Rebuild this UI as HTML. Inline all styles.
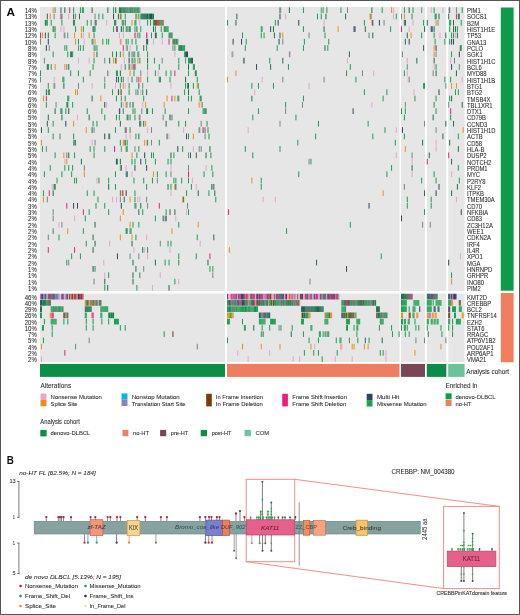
<!DOCTYPE html>
<html><head><meta charset="utf-8"><style>
html,body{margin:0;padding:0;background:#fff;width:520px;height:615px;overflow:hidden;}
svg{display:block;font-family:"Liberation Sans",sans-serif;}
</style></head><body>
<svg width="520" height="615" viewBox="0 0 520 615" font-family="Liberation Sans, sans-serif">
<rect x="0" y="0" width="520" height="615" fill="#ffffff"/>
<defs><filter id="bl" x="0" y="0" width="1" height="1"><feGaussianBlur stdDeviation="0.35"/></filter></defs><g filter="url(#bl)">
<rect x="40" y="7" width="185" height="284" fill="#e6e6e6"/>
<rect x="40" y="293.5" width="185" height="68.75" fill="#e6e6e6"/>
<rect x="227" y="7" width="172.5" height="284" fill="#e6e6e6"/>
<rect x="227" y="293.5" width="172.5" height="68.75" fill="#e6e6e6"/>
<rect x="401" y="7" width="24" height="284" fill="#e6e6e6"/>
<rect x="401" y="293.5" width="24" height="68.75" fill="#e6e6e6"/>
<rect x="426.8" y="7" width="19.5" height="284" fill="#e6e6e6"/>
<rect x="426.8" y="293.5" width="19.5" height="68.75" fill="#e6e6e6"/>
<rect x="448.2" y="7" width="16.4" height="284" fill="#e6e6e6"/>
<rect x="448.2" y="293.5" width="16.4" height="68.75" fill="#e6e6e6"/>
<rect x="118.87" y="7.3" width="1.02" height="5.71" fill="#1d7048"/>
<rect x="119.84" y="7.3" width="1.02" height="5.71" fill="#1d7048"/>
<rect x="120.82" y="7.3" width="1.02" height="5.71" fill="#1d7048"/>
<rect x="121.79" y="7.3" width="1.02" height="5.71" fill="#6f8a86"/>
<rect x="122.76" y="7.3" width="1.02" height="5.71" fill="#1d7048"/>
<rect x="123.74" y="7.3" width="1.02" height="5.71" fill="#1aa04f"/>
<rect x="124.71" y="7.3" width="1.02" height="5.71" fill="#1d7048"/>
<rect x="125.68" y="7.3" width="1.02" height="5.71" fill="#6f8a86"/>
<rect x="126.66" y="7.3" width="1.02" height="5.71" fill="#1d7048"/>
<rect x="127.63" y="7.3" width="1.02" height="5.71" fill="#6f8a86"/>
<rect x="128.61" y="7.3" width="1.02" height="5.71" fill="#1aa04f"/>
<rect x="129.58" y="7.3" width="1.02" height="5.71" fill="#1d7048"/>
<rect x="130.55" y="7.3" width="1.02" height="5.71" fill="#1d7048"/>
<rect x="131.53" y="7.3" width="1.02" height="5.71" fill="#1aa04f"/>
<rect x="132.5" y="7.3" width="1.02" height="5.71" fill="#1d7048"/>
<rect x="133.47" y="7.3" width="1.02" height="5.71" fill="#6f8a86"/>
<rect x="134.45" y="7.3" width="1.02" height="5.71" fill="#1d7048"/>
<rect x="135.42" y="7.3" width="1.02" height="5.71" fill="#1aa04f"/>
<rect x="136.39" y="7.3" width="1.02" height="5.71" fill="#1aa04f"/>
<rect x="137.37" y="7.3" width="1.02" height="5.71" fill="#1d7048"/>
<rect x="138.34" y="7.3" width="1.02" height="5.71" fill="#1aa04f"/>
<rect x="139.32" y="7.3" width="1.02" height="5.71" fill="#6f8a86"/>
<rect x="140.29" y="13.61" width="1.02" height="5.71" fill="#1aa04f"/>
<rect x="141.26" y="13.61" width="1.02" height="5.71" fill="#1d7048"/>
<rect x="142.24" y="13.61" width="1.02" height="5.71" fill="#1d7048"/>
<rect x="143.21" y="13.61" width="1.02" height="5.71" fill="#1d7048"/>
<rect x="144.18" y="13.61" width="1.02" height="5.71" fill="#1d7048"/>
<rect x="145.16" y="13.61" width="1.02" height="5.71" fill="#1d7048"/>
<rect x="146.13" y="13.61" width="1.02" height="5.71" fill="#1d7048"/>
<rect x="147.11" y="13.61" width="1.02" height="5.71" fill="#2e4562"/>
<rect x="148.08" y="13.61" width="1.02" height="5.71" fill="#1aa04f"/>
<rect x="149.05" y="13.61" width="1.02" height="5.71" fill="#1d7048"/>
<rect x="150.03" y="13.61" width="1.02" height="5.71" fill="#2e4562"/>
<rect x="151" y="13.61" width="1.02" height="5.71" fill="#2e4562"/>
<rect x="151.97" y="13.61" width="1.02" height="5.71" fill="#1aa04f"/>
<rect x="152.95" y="13.61" width="1.02" height="5.71" fill="#1d7048"/>
<rect x="153.92" y="19.92" width="1.02" height="5.71" fill="#d8342e"/>
<rect x="154.89" y="19.92" width="1.02" height="5.71" fill="#1d7048"/>
<rect x="155.87" y="19.92" width="1.02" height="5.71" fill="#1d7048"/>
<rect x="156.84" y="19.92" width="1.02" height="5.71" fill="#d8342e"/>
<rect x="157.82" y="19.92" width="1.02" height="5.71" fill="#d8342e"/>
<rect x="158.79" y="19.92" width="1.02" height="5.71" fill="#d8342e"/>
<rect x="159.76" y="19.92" width="1.02" height="5.71" fill="#1aa04f"/>
<rect x="160.74" y="19.92" width="1.02" height="5.71" fill="#1aa04f"/>
<rect x="161.71" y="19.92" width="1.02" height="5.71" fill="#1aa04f"/>
<rect x="162.68" y="19.92" width="1.02" height="5.71" fill="#d8342e"/>
<rect x="163.66" y="26.23" width="1.02" height="5.71" fill="#1aa04f"/>
<rect x="164.63" y="26.23" width="1.02" height="5.71" fill="#1d7048"/>
<rect x="165.61" y="26.23" width="1.02" height="5.71" fill="#1aa04f"/>
<rect x="166.58" y="26.23" width="1.02" height="5.71" fill="#1aa04f"/>
<rect x="167.55" y="26.23" width="1.02" height="5.71" fill="#1aa04f"/>
<rect x="168.53" y="32.54" width="1.02" height="5.71" fill="#1aa04f"/>
<rect x="169.5" y="32.54" width="1.02" height="5.71" fill="#1d7048"/>
<rect x="170.47" y="32.54" width="1.02" height="5.71" fill="#1aa04f"/>
<rect x="171.45" y="32.54" width="1.02" height="5.71" fill="#1d7048"/>
<rect x="172.42" y="38.85" width="1.02" height="5.71" fill="#1aa04f"/>
<rect x="173.39" y="38.85" width="1.02" height="5.71" fill="#1d7048"/>
<rect x="174.37" y="38.85" width="1.02" height="5.71" fill="#1d7048"/>
<rect x="175.34" y="38.85" width="1.02" height="5.71" fill="#1aa04f"/>
<rect x="176.32" y="38.85" width="1.02" height="5.71" fill="#1d7048"/>
<rect x="177.29" y="38.85" width="1.02" height="5.71" fill="#1aa04f"/>
<rect x="178.26" y="45.17" width="1.02" height="5.71" fill="#1aa04f"/>
<rect x="179.24" y="45.17" width="1.02" height="5.71" fill="#1d7048"/>
<rect x="180.21" y="45.17" width="1.02" height="5.71" fill="#1d7048"/>
<rect x="181.18" y="45.17" width="1.02" height="5.71" fill="#1d7048"/>
<rect x="182.16" y="45.17" width="1.02" height="5.71" fill="#1aa04f"/>
<rect x="183.13" y="45.17" width="1.02" height="5.71" fill="#1aa04f"/>
<rect x="184.11" y="45.17" width="1.02" height="5.71" fill="#1aa04f"/>
<rect x="185.08" y="51.48" width="1.02" height="5.71" fill="#1d7048"/>
<rect x="186.05" y="51.48" width="1.02" height="5.71" fill="#2e4562"/>
<rect x="187.03" y="51.48" width="1.02" height="5.71" fill="#2e4562"/>
<rect x="188" y="57.79" width="1.02" height="5.71" fill="#1aa04f"/>
<rect x="188.97" y="57.79" width="1.02" height="5.71" fill="#1aa04f"/>
<rect x="189.95" y="57.79" width="1.02" height="5.71" fill="#1aa04f"/>
<rect x="190.92" y="57.79" width="1.02" height="5.71" fill="#1d7048"/>
<rect x="191.89" y="57.79" width="1.02" height="5.71" fill="#2e4562"/>
<rect x="192.87" y="64.1" width="1.02" height="5.71" fill="#1aa04f"/>
<rect x="193.84" y="64.1" width="1.02" height="5.71" fill="#1aa04f"/>
<rect x="194.82" y="70.41" width="1.02" height="5.71" fill="#1d7048"/>
<rect x="195.79" y="70.41" width="1.02" height="5.71" fill="#1aa04f"/>
<rect x="196.76" y="76.72" width="1.02" height="5.71" fill="#1aa04f"/>
<rect x="197.74" y="83.03" width="1.02" height="5.71" fill="#1aa04f"/>
<rect x="198.71" y="89.34" width="1.02" height="5.71" fill="#1aa04f"/>
<rect x="199.68" y="95.65" width="1.02" height="5.71" fill="#1d7048"/>
<rect x="200.66" y="95.65" width="1.02" height="5.71" fill="#1aa04f"/>
<rect x="201.63" y="101.96" width="1.02" height="5.71" fill="#1aa04f"/>
<rect x="202.61" y="108.28" width="1.02" height="5.71" fill="#1aa04f"/>
<rect x="203.58" y="108.28" width="1.02" height="5.71" fill="#1aa04f"/>
<rect x="204.55" y="108.28" width="1.02" height="5.71" fill="#1aa04f"/>
<rect x="205.53" y="108.28" width="1.02" height="5.71" fill="#1d7048"/>
<rect x="206.5" y="120.9" width="1.02" height="5.71" fill="#1aa04f"/>
<rect x="207.47" y="127.21" width="1.02" height="5.71" fill="#1aa04f"/>
<rect x="208.45" y="133.52" width="1.02" height="5.71" fill="#1aa04f"/>
<rect x="209.42" y="146.14" width="1.02" height="5.71" fill="#1d7048"/>
<rect x="210.39" y="152.45" width="1.02" height="5.71" fill="#1aa04f"/>
<rect x="211.37" y="165.08" width="1.02" height="5.71" fill="#1aa04f"/>
<rect x="212.34" y="171.39" width="1.02" height="5.71" fill="#1aa04f"/>
<rect x="213.32" y="184.01" width="1.02" height="5.71" fill="#1d7048"/>
<rect x="214.29" y="190.32" width="1.02" height="5.71" fill="#1d7048"/>
<rect x="215.26" y="196.63" width="1.02" height="5.71" fill="#1aa04f"/>
<rect x="91.61" y="7.3" width="1" height="5.71" fill="#1d7048"/>
<rect x="54.61" y="7.3" width="1" height="5.71" fill="#6f8a86"/>
<rect x="64.34" y="7.3" width="1" height="5.71" fill="#1d7048"/>
<rect x="81.87" y="7.3" width="1" height="5.71" fill="#1aa04f"/>
<rect x="108.16" y="7.3" width="1" height="5.71" fill="#e6a3d3"/>
<rect x="79.92" y="7.3" width="1" height="5.71" fill="#1aa04f"/>
<rect x="60.45" y="7.3" width="1" height="5.71" fill="#1d7048"/>
<rect x="82.84" y="7.3" width="1" height="5.71" fill="#1aa04f"/>
<rect x="113.03" y="7.3" width="1" height="5.71" fill="#1aa04f"/>
<rect x="115.95" y="7.3" width="1" height="5.71" fill="#e6a3d3"/>
<rect x="114.97" y="7.3" width="1" height="5.71" fill="#1aa04f"/>
<rect x="107.18" y="7.3" width="1" height="5.71" fill="#1aa04f"/>
<rect x="52.66" y="7.3" width="1" height="5.71" fill="#f28c18"/>
<rect x="73.11" y="7.3" width="1" height="5.71" fill="#1aa04f"/>
<rect x="69.21" y="7.3" width="1" height="5.71" fill="#ee1f7d"/>
<rect x="61.42" y="13.61" width="1" height="5.71" fill="#1aa04f"/>
<rect x="49.74" y="13.61" width="1" height="5.71" fill="#f28c18"/>
<rect x="78.95" y="13.61" width="1" height="5.71" fill="#1d7048"/>
<rect x="102.32" y="13.61" width="1" height="5.71" fill="#1aa04f"/>
<rect x="46.82" y="13.61" width="1" height="5.71" fill="#1d7048"/>
<rect x="113.03" y="13.61" width="1" height="5.71" fill="#2e4562"/>
<rect x="53.63" y="13.61" width="1" height="5.71" fill="#6f8a86"/>
<rect x="94.53" y="13.61" width="1" height="5.71" fill="#6f8a86"/>
<rect x="60.45" y="13.61" width="1" height="5.71" fill="#ee1f7d"/>
<rect x="98.42" y="13.61" width="1" height="5.71" fill="#1aa04f"/>
<rect x="117.89" y="13.61" width="1" height="5.71" fill="#1d7048"/>
<rect x="73.11" y="13.61" width="1" height="5.71" fill="#1d7048"/>
<rect x="75.05" y="13.61" width="1" height="5.71" fill="#6f8a86"/>
<rect x="68.24" y="13.61" width="1" height="5.71" fill="#e6a3d3"/>
<rect x="138.34" y="13.61" width="1" height="5.71" fill="#1aa04f"/>
<rect x="119.84" y="13.61" width="1" height="5.71" fill="#1aa04f"/>
<rect x="136.39" y="13.61" width="1" height="5.71" fill="#f28c18"/>
<rect x="124.71" y="13.61" width="1" height="5.71" fill="#1aa04f"/>
<rect x="135.42" y="13.61" width="1" height="5.71" fill="#1aa04f"/>
<rect x="120.82" y="13.61" width="1" height="5.71" fill="#f28c18"/>
<rect x="74.08" y="19.92" width="1" height="5.71" fill="#1aa04f"/>
<rect x="114.97" y="19.92" width="1" height="5.71" fill="#1aa04f"/>
<rect x="106.21" y="19.92" width="1" height="5.71" fill="#e6a3d3"/>
<rect x="61.42" y="19.92" width="1" height="5.71" fill="#1aa04f"/>
<rect x="50.71" y="19.92" width="1" height="5.71" fill="#1aa04f"/>
<rect x="114" y="19.92" width="1" height="5.71" fill="#1aa04f"/>
<rect x="86.74" y="19.92" width="1" height="5.71" fill="#1aa04f"/>
<rect x="94.53" y="19.92" width="1" height="5.71" fill="#6f8a86"/>
<rect x="46.82" y="19.92" width="1" height="5.71" fill="#1aa04f"/>
<rect x="44.87" y="19.92" width="1" height="5.71" fill="#1d7048"/>
<rect x="95.5" y="19.92" width="1" height="5.71" fill="#2e4562"/>
<rect x="73.11" y="19.92" width="1" height="5.71" fill="#1d7048"/>
<rect x="45.84" y="19.92" width="1" height="5.71" fill="#1aa04f"/>
<rect x="115.95" y="19.92" width="1" height="5.71" fill="#e6a3d3"/>
<rect x="90.63" y="19.92" width="1" height="5.71" fill="#1aa04f"/>
<rect x="139.32" y="19.92" width="1" height="5.71" fill="#e6a3d3"/>
<rect x="150.03" y="19.92" width="1" height="5.71" fill="#1aa04f"/>
<rect x="152.95" y="19.92" width="1" height="5.71" fill="#1aa04f"/>
<rect x="124.71" y="19.92" width="1" height="5.71" fill="#1d7048"/>
<rect x="122.76" y="19.92" width="1" height="5.71" fill="#1aa04f"/>
<rect x="147.11" y="19.92" width="1" height="5.71" fill="#1aa04f"/>
<rect x="135.42" y="19.92" width="1" height="5.71" fill="#1aa04f"/>
<rect x="134.45" y="19.92" width="1" height="5.71" fill="#1aa04f"/>
<rect x="121.79" y="19.92" width="1" height="5.71" fill="#1aa04f"/>
<rect x="131.53" y="19.92" width="1" height="5.71" fill="#f28c18"/>
<rect x="116.92" y="26.23" width="1" height="5.71" fill="#ee1f7d"/>
<rect x="80.89" y="26.23" width="1" height="5.71" fill="#f28c18"/>
<rect x="60.45" y="26.23" width="1" height="5.71" fill="#e6a3d3"/>
<rect x="75.05" y="26.23" width="1" height="5.71" fill="#1aa04f"/>
<rect x="93.55" y="26.23" width="1" height="5.71" fill="#1d7048"/>
<rect x="92.58" y="26.23" width="1" height="5.71" fill="#1d7048"/>
<rect x="94.53" y="26.23" width="1" height="5.71" fill="#1aa04f"/>
<rect x="82.84" y="26.23" width="1" height="5.71" fill="#1aa04f"/>
<rect x="113.03" y="26.23" width="1" height="5.71" fill="#1aa04f"/>
<rect x="115.95" y="26.23" width="1" height="5.71" fill="#1aa04f"/>
<rect x="63.37" y="26.23" width="1" height="5.71" fill="#e6a3d3"/>
<rect x="53.63" y="26.23" width="1" height="5.71" fill="#f28c18"/>
<rect x="54.61" y="26.23" width="1" height="5.71" fill="#1aa04f"/>
<rect x="52.66" y="26.23" width="1" height="5.71" fill="#1d7048"/>
<rect x="120.82" y="26.23" width="1" height="5.71" fill="#2e4562"/>
<rect x="152.95" y="26.23" width="1" height="5.71" fill="#1d7048"/>
<rect x="154.89" y="26.23" width="1" height="5.71" fill="#1aa04f"/>
<rect x="140.29" y="26.23" width="1" height="5.71" fill="#1aa04f"/>
<rect x="126.66" y="26.23" width="1" height="5.71" fill="#1aa04f"/>
<rect x="125.68" y="26.23" width="1" height="5.71" fill="#1aa04f"/>
<rect x="129.58" y="26.23" width="1" height="5.71" fill="#1d7048"/>
<rect x="134.45" y="26.23" width="1" height="5.71" fill="#1aa04f"/>
<rect x="122.76" y="26.23" width="1" height="5.71" fill="#1aa04f"/>
<rect x="136.39" y="26.23" width="1" height="5.71" fill="#1d7048"/>
<rect x="128.61" y="26.23" width="1" height="5.71" fill="#1d7048"/>
<rect x="160.74" y="26.23" width="1" height="5.71" fill="#1aa04f"/>
<rect x="80.89" y="32.54" width="1" height="5.71" fill="#f28c18"/>
<rect x="54.61" y="32.54" width="1" height="5.71" fill="#1aa04f"/>
<rect x="82.84" y="32.54" width="1" height="5.71" fill="#e6a3d3"/>
<rect x="40" y="32.54" width="1" height="5.71" fill="#ee1f7d"/>
<rect x="63.37" y="32.54" width="1" height="5.71" fill="#e6a3d3"/>
<rect x="47.79" y="32.54" width="1" height="5.71" fill="#1d7048"/>
<rect x="74.08" y="32.54" width="1" height="5.71" fill="#f28c18"/>
<rect x="44.87" y="32.54" width="1" height="5.71" fill="#1d7048"/>
<rect x="41.95" y="32.54" width="1" height="5.71" fill="#f28c18"/>
<rect x="67.26" y="32.54" width="1" height="5.71" fill="#6f8a86"/>
<rect x="64.34" y="32.54" width="1" height="5.71" fill="#1aa04f"/>
<rect x="93.55" y="32.54" width="1" height="5.71" fill="#1aa04f"/>
<rect x="88.68" y="32.54" width="1" height="5.71" fill="#f28c18"/>
<rect x="122.76" y="32.54" width="1" height="5.71" fill="#e6a3d3"/>
<rect x="154.89" y="32.54" width="1" height="5.71" fill="#2e4562"/>
<rect x="146.13" y="32.54" width="1" height="5.71" fill="#ee1f7d"/>
<rect x="135.42" y="32.54" width="1" height="5.71" fill="#e6a3d3"/>
<rect x="134.45" y="32.54" width="1" height="5.71" fill="#ee1f7d"/>
<rect x="147.11" y="32.54" width="1" height="5.71" fill="#e6a3d3"/>
<rect x="137.37" y="32.54" width="1" height="5.71" fill="#1aa04f"/>
<rect x="161.71" y="32.54" width="1" height="5.71" fill="#1aa04f"/>
<rect x="151" y="32.54" width="1" height="5.71" fill="#1aa04f"/>
<rect x="139.32" y="32.54" width="1" height="5.71" fill="#1aa04f"/>
<rect x="155.87" y="32.54" width="1" height="5.71" fill="#1aa04f"/>
<rect x="118.87" y="32.54" width="1" height="5.71" fill="#e6a3d3"/>
<rect x="47.79" y="38.85" width="1" height="5.71" fill="#2e4562"/>
<rect x="108.16" y="38.85" width="1" height="5.71" fill="#1aa04f"/>
<rect x="83.82" y="38.85" width="1" height="5.71" fill="#e6a3d3"/>
<rect x="92.58" y="38.85" width="1" height="5.71" fill="#6f8a86"/>
<rect x="91.61" y="38.85" width="1" height="5.71" fill="#1aa04f"/>
<rect x="94.53" y="38.85" width="1" height="5.71" fill="#f28c18"/>
<rect x="75.05" y="38.85" width="1" height="5.71" fill="#f28c18"/>
<rect x="40" y="38.85" width="1" height="5.71" fill="#6f8a86"/>
<rect x="106.21" y="38.85" width="1" height="5.71" fill="#1aa04f"/>
<rect x="102.32" y="38.85" width="1" height="5.71" fill="#1aa04f"/>
<rect x="77.97" y="38.85" width="1" height="5.71" fill="#1aa04f"/>
<rect x="152.95" y="38.85" width="1" height="5.71" fill="#e6a3d3"/>
<rect x="125.68" y="38.85" width="1" height="5.71" fill="#1aa04f"/>
<rect x="146.13" y="38.85" width="1" height="5.71" fill="#1d7048"/>
<rect x="135.42" y="38.85" width="1" height="5.71" fill="#1aa04f"/>
<rect x="161.71" y="38.85" width="1" height="5.71" fill="#e6a3d3"/>
<rect x="119.84" y="38.85" width="1" height="5.71" fill="#f28c18"/>
<rect x="168.53" y="38.85" width="1" height="5.71" fill="#ee1f7d"/>
<rect x="131.53" y="38.85" width="1" height="5.71" fill="#1aa04f"/>
<rect x="120.82" y="38.85" width="1" height="5.71" fill="#e6a3d3"/>
<rect x="147.11" y="38.85" width="1" height="5.71" fill="#2e4562"/>
<rect x="127.63" y="38.85" width="1" height="5.71" fill="#1aa04f"/>
<rect x="45.84" y="45.17" width="1" height="5.71" fill="#2e4562"/>
<rect x="64.34" y="45.17" width="1" height="5.71" fill="#1aa04f"/>
<rect x="94.53" y="45.17" width="1" height="5.71" fill="#1aa04f"/>
<rect x="96.47" y="45.17" width="1" height="5.71" fill="#1aa04f"/>
<rect x="93.55" y="45.17" width="1" height="5.71" fill="#6f8a86"/>
<rect x="66.29" y="45.17" width="1" height="5.71" fill="#1aa04f"/>
<rect x="82.84" y="45.17" width="1" height="5.71" fill="#1aa04f"/>
<rect x="77.97" y="45.17" width="1" height="5.71" fill="#6f8a86"/>
<rect x="79.92" y="45.17" width="1" height="5.71" fill="#1aa04f"/>
<rect x="48.76" y="45.17" width="1" height="5.71" fill="#6f8a86"/>
<rect x="136.39" y="45.17" width="1" height="5.71" fill="#1aa04f"/>
<rect x="129.58" y="45.17" width="1" height="5.71" fill="#e6a3d3"/>
<rect x="125.68" y="45.17" width="1" height="5.71" fill="#e6a3d3"/>
<rect x="172.42" y="45.17" width="1" height="5.71" fill="#6f8a86"/>
<rect x="126.66" y="45.17" width="1" height="5.71" fill="#1aa04f"/>
<rect x="146.13" y="45.17" width="1" height="5.71" fill="#1aa04f"/>
<rect x="122.76" y="45.17" width="1" height="5.71" fill="#ee1f7d"/>
<rect x="143.21" y="45.17" width="1" height="5.71" fill="#1d7048"/>
<rect x="174.37" y="45.17" width="1" height="5.71" fill="#1aa04f"/>
<rect x="112.05" y="51.48" width="1" height="5.71" fill="#1aa04f"/>
<rect x="71.16" y="51.48" width="1" height="5.71" fill="#1d7048"/>
<rect x="52.66" y="51.48" width="1" height="5.71" fill="#1aa04f"/>
<rect x="115.95" y="51.48" width="1" height="5.71" fill="#1d7048"/>
<rect x="93.55" y="51.48" width="1" height="5.71" fill="#f28c18"/>
<rect x="70.18" y="51.48" width="1" height="5.71" fill="#1d7048"/>
<rect x="96.47" y="51.48" width="1" height="5.71" fill="#1d7048"/>
<rect x="72.13" y="51.48" width="1" height="5.71" fill="#1aa04f"/>
<rect x="67.26" y="51.48" width="1" height="5.71" fill="#1aa04f"/>
<rect x="174.37" y="51.48" width="1" height="5.71" fill="#e6a3d3"/>
<rect x="131.53" y="51.48" width="1" height="5.71" fill="#1aa04f"/>
<rect x="134.45" y="51.48" width="1" height="5.71" fill="#e6a3d3"/>
<rect x="137.37" y="51.48" width="1" height="5.71" fill="#1aa04f"/>
<rect x="184.11" y="51.48" width="1" height="5.71" fill="#1aa04f"/>
<rect x="147.11" y="51.48" width="1" height="5.71" fill="#1aa04f"/>
<rect x="133.47" y="51.48" width="1" height="5.71" fill="#1d7048"/>
<rect x="138.34" y="51.48" width="1" height="5.71" fill="#6f8a86"/>
<rect x="128.61" y="51.48" width="1" height="5.71" fill="#1d7048"/>
<rect x="119.84" y="51.48" width="1" height="5.71" fill="#1aa04f"/>
<rect x="122.76" y="51.48" width="1" height="5.71" fill="#f28c18"/>
<rect x="115.95" y="57.79" width="1" height="5.71" fill="#f28c18"/>
<rect x="109.13" y="57.79" width="1" height="5.71" fill="#1d7048"/>
<rect x="104.26" y="57.79" width="1" height="5.71" fill="#6f8a86"/>
<rect x="88.68" y="57.79" width="1" height="5.71" fill="#e6a3d3"/>
<rect x="113.03" y="57.79" width="1" height="5.71" fill="#f28c18"/>
<rect x="114.97" y="57.79" width="1" height="5.71" fill="#1aa04f"/>
<rect x="77.97" y="57.79" width="1" height="5.71" fill="#e6a3d3"/>
<rect x="93.55" y="57.79" width="1" height="5.71" fill="#1aa04f"/>
<rect x="43.89" y="57.79" width="1" height="5.71" fill="#6f8a86"/>
<rect x="178.26" y="57.79" width="1" height="5.71" fill="#1aa04f"/>
<rect x="123.74" y="57.79" width="1" height="5.71" fill="#e6a3d3"/>
<rect x="139.32" y="57.79" width="1" height="5.71" fill="#1aa04f"/>
<rect x="134.45" y="57.79" width="1" height="5.71" fill="#1aa04f"/>
<rect x="131.53" y="57.79" width="1" height="5.71" fill="#1aa04f"/>
<rect x="161.71" y="57.79" width="1" height="5.71" fill="#6f8a86"/>
<rect x="185.08" y="57.79" width="1" height="5.71" fill="#6f8a86"/>
<rect x="128.61" y="57.79" width="1" height="5.71" fill="#2e4562"/>
<rect x="153.92" y="57.79" width="1" height="5.71" fill="#1aa04f"/>
<rect x="132.5" y="57.79" width="1" height="5.71" fill="#6f8a86"/>
<rect x="147.11" y="57.79" width="1" height="5.71" fill="#1d7048"/>
<rect x="137.37" y="57.79" width="1" height="5.71" fill="#f28c18"/>
<rect x="50.71" y="64.1" width="1" height="5.71" fill="#1aa04f"/>
<rect x="54.61" y="64.1" width="1" height="5.71" fill="#f28c18"/>
<rect x="46.82" y="64.1" width="1" height="5.71" fill="#1d7048"/>
<rect x="68.24" y="64.1" width="1" height="5.71" fill="#1d7048"/>
<rect x="47.79" y="64.1" width="1" height="5.71" fill="#1d7048"/>
<rect x="64.34" y="64.1" width="1" height="5.71" fill="#f28c18"/>
<rect x="66.29" y="64.1" width="1" height="5.71" fill="#6f8a86"/>
<rect x="92.58" y="64.1" width="1" height="5.71" fill="#1aa04f"/>
<rect x="134.45" y="64.1" width="1" height="5.71" fill="#1d7048"/>
<rect x="120.82" y="64.1" width="1" height="5.71" fill="#e6a3d3"/>
<rect x="132.5" y="64.1" width="1" height="5.71" fill="#6f8a86"/>
<rect x="188" y="64.1" width="1" height="5.71" fill="#1d7048"/>
<rect x="124.71" y="64.1" width="1" height="5.71" fill="#1aa04f"/>
<rect x="147.11" y="64.1" width="1" height="5.71" fill="#1aa04f"/>
<rect x="158.79" y="64.1" width="1" height="5.71" fill="#1aa04f"/>
<rect x="178.26" y="64.1" width="1" height="5.71" fill="#1aa04f"/>
<rect x="128.61" y="64.1" width="1" height="5.71" fill="#1d7048"/>
<rect x="133.47" y="64.1" width="1" height="5.71" fill="#ee1f7d"/>
<rect x="130.55" y="64.1" width="1" height="5.71" fill="#f28c18"/>
<rect x="77.97" y="70.41" width="1" height="5.71" fill="#1aa04f"/>
<rect x="89.66" y="70.41" width="1" height="5.71" fill="#1aa04f"/>
<rect x="40" y="70.41" width="1" height="5.71" fill="#1aa04f"/>
<rect x="70.18" y="70.41" width="1" height="5.71" fill="#1aa04f"/>
<rect x="115.95" y="70.41" width="1" height="5.71" fill="#1aa04f"/>
<rect x="107.18" y="70.41" width="1" height="5.71" fill="#6f8a86"/>
<rect x="108.16" y="70.41" width="1" height="5.71" fill="#e6a3d3"/>
<rect x="116.92" y="70.41" width="1" height="5.71" fill="#1aa04f"/>
<rect x="165.61" y="70.41" width="1" height="5.71" fill="#1aa04f"/>
<rect x="157.82" y="70.41" width="1" height="5.71" fill="#e6a3d3"/>
<rect x="170.47" y="70.41" width="1" height="5.71" fill="#1aa04f"/>
<rect x="140.29" y="70.41" width="1" height="5.71" fill="#6f8a86"/>
<rect x="147.11" y="70.41" width="1" height="5.71" fill="#e6a3d3"/>
<rect x="119.84" y="70.41" width="1" height="5.71" fill="#1d7048"/>
<rect x="174.37" y="70.41" width="1" height="5.71" fill="#ee1f7d"/>
<rect x="129.58" y="70.41" width="1" height="5.71" fill="#f28c18"/>
<rect x="188" y="70.41" width="1" height="5.71" fill="#1aa04f"/>
<rect x="154.89" y="70.41" width="1" height="5.71" fill="#1aa04f"/>
<rect x="133.47" y="70.41" width="1" height="5.71" fill="#1aa04f"/>
<rect x="115.95" y="76.72" width="1" height="5.71" fill="#1d7048"/>
<rect x="53.63" y="76.72" width="1" height="5.71" fill="#e6a3d3"/>
<rect x="62.39" y="76.72" width="1" height="5.71" fill="#1aa04f"/>
<rect x="104.26" y="76.72" width="1" height="5.71" fill="#6f8a86"/>
<rect x="40" y="76.72" width="1" height="5.71" fill="#6f8a86"/>
<rect x="82.84" y="76.72" width="1" height="5.71" fill="#1aa04f"/>
<rect x="117.89" y="76.72" width="1" height="5.71" fill="#2e4562"/>
<rect x="63.37" y="76.72" width="1" height="5.71" fill="#1aa04f"/>
<rect x="138.34" y="76.72" width="1" height="5.71" fill="#ee1f7d"/>
<rect x="159.76" y="76.72" width="1" height="5.71" fill="#1d7048"/>
<rect x="120.82" y="76.72" width="1" height="5.71" fill="#1d7048"/>
<rect x="127.63" y="76.72" width="1" height="5.71" fill="#e6a3d3"/>
<rect x="185.08" y="76.72" width="1" height="5.71" fill="#1d7048"/>
<rect x="158.79" y="76.72" width="1" height="5.71" fill="#1aa04f"/>
<rect x="122.76" y="76.72" width="1" height="5.71" fill="#1aa04f"/>
<rect x="131.53" y="76.72" width="1" height="5.71" fill="#1aa04f"/>
<rect x="140.29" y="76.72" width="1" height="5.71" fill="#f28c18"/>
<rect x="136.39" y="76.72" width="1" height="5.71" fill="#6f8a86"/>
<rect x="147.11" y="76.72" width="1" height="5.71" fill="#1aa04f"/>
<rect x="169.5" y="76.72" width="1" height="5.71" fill="#1aa04f"/>
<rect x="54.61" y="83.03" width="1" height="5.71" fill="#e6a3d3"/>
<rect x="104.26" y="83.03" width="1" height="5.71" fill="#1aa04f"/>
<rect x="53.63" y="83.03" width="1" height="5.71" fill="#1aa04f"/>
<rect x="77.97" y="83.03" width="1" height="5.71" fill="#6f8a86"/>
<rect x="63.37" y="83.03" width="1" height="5.71" fill="#1d7048"/>
<rect x="114.97" y="83.03" width="1" height="5.71" fill="#e6a3d3"/>
<rect x="47.79" y="83.03" width="1" height="5.71" fill="#1aa04f"/>
<rect x="91.61" y="83.03" width="1" height="5.71" fill="#e6a3d3"/>
<rect x="138.34" y="83.03" width="1" height="5.71" fill="#1d7048"/>
<rect x="128.61" y="83.03" width="1" height="5.71" fill="#1aa04f"/>
<rect x="192.87" y="83.03" width="1" height="5.71" fill="#1aa04f"/>
<rect x="124.71" y="83.03" width="1" height="5.71" fill="#e6a3d3"/>
<rect x="119.84" y="83.03" width="1" height="5.71" fill="#6f8a86"/>
<rect x="122.76" y="83.03" width="1" height="5.71" fill="#f28c18"/>
<rect x="142.24" y="83.03" width="1" height="5.71" fill="#6f8a86"/>
<rect x="187.03" y="83.03" width="1" height="5.71" fill="#1aa04f"/>
<rect x="185.08" y="83.03" width="1" height="5.71" fill="#1aa04f"/>
<rect x="170.47" y="83.03" width="1" height="5.71" fill="#e6a3d3"/>
<rect x="196.76" y="83.03" width="1" height="5.71" fill="#f28c18"/>
<rect x="188" y="83.03" width="1" height="5.71" fill="#1d7048"/>
<rect x="117.89" y="89.34" width="1" height="5.71" fill="#2e4562"/>
<rect x="75.05" y="89.34" width="1" height="5.71" fill="#f28c18"/>
<rect x="47.79" y="89.34" width="1" height="5.71" fill="#1aa04f"/>
<rect x="45.84" y="89.34" width="1" height="5.71" fill="#1d7048"/>
<rect x="48.76" y="89.34" width="1" height="5.71" fill="#1d7048"/>
<rect x="77" y="89.34" width="1" height="5.71" fill="#f28c18"/>
<rect x="112.05" y="89.34" width="1" height="5.71" fill="#1aa04f"/>
<rect x="140.29" y="89.34" width="1" height="5.71" fill="#e6a3d3"/>
<rect x="119.84" y="89.34" width="1" height="5.71" fill="#f28c18"/>
<rect x="146.13" y="89.34" width="1" height="5.71" fill="#1d7048"/>
<rect x="137.37" y="89.34" width="1" height="5.71" fill="#1aa04f"/>
<rect x="188" y="89.34" width="1" height="5.71" fill="#1d7048"/>
<rect x="128.61" y="89.34" width="1" height="5.71" fill="#1aa04f"/>
<rect x="135.42" y="89.34" width="1" height="5.71" fill="#6f8a86"/>
<rect x="184.11" y="89.34" width="1" height="5.71" fill="#1aa04f"/>
<rect x="120.82" y="89.34" width="1" height="5.71" fill="#1aa04f"/>
<rect x="142.24" y="89.34" width="1" height="5.71" fill="#1aa04f"/>
<rect x="45.84" y="95.65" width="1" height="5.71" fill="#ee1f7d"/>
<rect x="91.61" y="95.65" width="1" height="5.71" fill="#1d7048"/>
<rect x="68.24" y="95.65" width="1" height="5.71" fill="#1aa04f"/>
<rect x="67.26" y="95.65" width="1" height="5.71" fill="#1aa04f"/>
<rect x="115.95" y="95.65" width="1" height="5.71" fill="#1aa04f"/>
<rect x="42.92" y="95.65" width="1" height="5.71" fill="#f28c18"/>
<rect x="100.37" y="95.65" width="1" height="5.71" fill="#f28c18"/>
<rect x="177.29" y="95.65" width="1" height="5.71" fill="#6f8a86"/>
<rect x="190.92" y="95.65" width="1" height="5.71" fill="#1aa04f"/>
<rect x="120.82" y="95.65" width="1" height="5.71" fill="#6f8a86"/>
<rect x="178.26" y="95.65" width="1" height="5.71" fill="#1aa04f"/>
<rect x="124.71" y="95.65" width="1" height="5.71" fill="#1aa04f"/>
<rect x="166.58" y="95.65" width="1" height="5.71" fill="#f28c18"/>
<rect x="143.21" y="95.65" width="1" height="5.71" fill="#1aa04f"/>
<rect x="171.45" y="95.65" width="1" height="5.71" fill="#ee1f7d"/>
<rect x="174.37" y="95.65" width="1" height="5.71" fill="#f28c18"/>
<rect x="188" y="95.65" width="1" height="5.71" fill="#1aa04f"/>
<rect x="66.29" y="101.96" width="1" height="5.71" fill="#1aa04f"/>
<rect x="67.26" y="101.96" width="1" height="5.71" fill="#1d7048"/>
<rect x="72.13" y="101.96" width="1" height="5.71" fill="#1aa04f"/>
<rect x="106.21" y="101.96" width="1" height="5.71" fill="#e6a3d3"/>
<rect x="45.84" y="101.96" width="1" height="5.71" fill="#1aa04f"/>
<rect x="55.58" y="101.96" width="1" height="5.71" fill="#6f8a86"/>
<rect x="104.26" y="101.96" width="1" height="5.71" fill="#2e4562"/>
<rect x="125.68" y="101.96" width="1" height="5.71" fill="#6f8a86"/>
<rect x="142.24" y="101.96" width="1" height="5.71" fill="#e6a3d3"/>
<rect x="122.76" y="101.96" width="1" height="5.71" fill="#e6a3d3"/>
<rect x="120.82" y="101.96" width="1" height="5.71" fill="#1aa04f"/>
<rect x="163.66" y="101.96" width="1" height="5.71" fill="#f28c18"/>
<rect x="132.5" y="101.96" width="1" height="5.71" fill="#2e4562"/>
<rect x="145.16" y="101.96" width="1" height="5.71" fill="#f28c18"/>
<rect x="200.66" y="101.96" width="1" height="5.71" fill="#e6a3d3"/>
<rect x="198.71" y="101.96" width="1" height="5.71" fill="#f28c18"/>
<rect x="129.58" y="101.96" width="1" height="5.71" fill="#1aa04f"/>
<rect x="126.66" y="101.96" width="1" height="5.71" fill="#f28c18"/>
<rect x="65.32" y="108.28" width="1" height="5.71" fill="#1aa04f"/>
<rect x="86.74" y="108.28" width="1" height="5.71" fill="#1aa04f"/>
<rect x="68.24" y="108.28" width="1" height="5.71" fill="#2e4562"/>
<rect x="101.34" y="108.28" width="1" height="5.71" fill="#1aa04f"/>
<rect x="54.61" y="108.28" width="1" height="5.71" fill="#1d7048"/>
<rect x="61.42" y="108.28" width="1" height="5.71" fill="#1aa04f"/>
<rect x="60.45" y="108.28" width="1" height="5.71" fill="#1d7048"/>
<rect x="132.5" y="108.28" width="1" height="5.71" fill="#1aa04f"/>
<rect x="151.97" y="108.28" width="1" height="5.71" fill="#1aa04f"/>
<rect x="164.63" y="108.28" width="1" height="5.71" fill="#1aa04f"/>
<rect x="122.76" y="108.28" width="1" height="5.71" fill="#1aa04f"/>
<rect x="146.13" y="108.28" width="1" height="5.71" fill="#1aa04f"/>
<rect x="119.84" y="108.28" width="1" height="5.71" fill="#e6a3d3"/>
<rect x="118.87" y="108.28" width="1" height="5.71" fill="#2e4562"/>
<rect x="188" y="108.28" width="1" height="5.71" fill="#1aa04f"/>
<rect x="134.45" y="108.28" width="1" height="5.71" fill="#1aa04f"/>
<rect x="147.11" y="108.28" width="1" height="5.71" fill="#1d7048"/>
<rect x="141.26" y="108.28" width="1" height="5.71" fill="#6f8a86"/>
<rect x="77" y="114.59" width="1" height="5.71" fill="#e6a3d3"/>
<rect x="61.42" y="114.59" width="1" height="5.71" fill="#1d7048"/>
<rect x="104.26" y="114.59" width="1" height="5.71" fill="#1aa04f"/>
<rect x="115.95" y="114.59" width="1" height="5.71" fill="#1aa04f"/>
<rect x="47.79" y="114.59" width="1" height="5.71" fill="#1d7048"/>
<rect x="88.68" y="114.59" width="1" height="5.71" fill="#1d7048"/>
<rect x="129.58" y="114.59" width="1" height="5.71" fill="#1aa04f"/>
<rect x="134.45" y="114.59" width="1" height="5.71" fill="#1aa04f"/>
<rect x="162.68" y="114.59" width="1" height="5.71" fill="#6f8a86"/>
<rect x="169.5" y="114.59" width="1" height="5.71" fill="#2e4562"/>
<rect x="127.63" y="114.59" width="1" height="5.71" fill="#6f8a86"/>
<rect x="118.87" y="114.59" width="1" height="5.71" fill="#1aa04f"/>
<rect x="139.32" y="114.59" width="1" height="5.71" fill="#1d7048"/>
<rect x="171.45" y="114.59" width="1" height="5.71" fill="#1aa04f"/>
<rect x="126.66" y="114.59" width="1" height="5.71" fill="#1d7048"/>
<rect x="138.34" y="114.59" width="1" height="5.71" fill="#e6a3d3"/>
<rect x="92.58" y="120.9" width="1" height="5.71" fill="#1aa04f"/>
<rect x="46.82" y="120.9" width="1" height="5.71" fill="#1d7048"/>
<rect x="52.66" y="120.9" width="1" height="5.71" fill="#1aa04f"/>
<rect x="96.47" y="120.9" width="1" height="5.71" fill="#1aa04f"/>
<rect x="73.11" y="120.9" width="1" height="5.71" fill="#f28c18"/>
<rect x="65.32" y="120.9" width="1" height="5.71" fill="#2e4562"/>
<rect x="140.29" y="120.9" width="1" height="5.71" fill="#1aa04f"/>
<rect x="119.84" y="120.9" width="1" height="5.71" fill="#1d7048"/>
<rect x="178.26" y="120.9" width="1" height="5.71" fill="#1aa04f"/>
<rect x="185.08" y="120.9" width="1" height="5.71" fill="#1aa04f"/>
<rect x="165.61" y="120.9" width="1" height="5.71" fill="#1d7048"/>
<rect x="139.32" y="120.9" width="1" height="5.71" fill="#2e4562"/>
<rect x="143.21" y="120.9" width="1" height="5.71" fill="#1d7048"/>
<rect x="200.66" y="120.9" width="1" height="5.71" fill="#6f8a86"/>
<rect x="145.16" y="120.9" width="1" height="5.71" fill="#f28c18"/>
<rect x="40.97" y="127.21" width="1" height="5.71" fill="#1d7048"/>
<rect x="85.76" y="127.21" width="1" height="5.71" fill="#f28c18"/>
<rect x="93.55" y="127.21" width="1" height="5.71" fill="#6f8a86"/>
<rect x="114.97" y="127.21" width="1" height="5.71" fill="#1aa04f"/>
<rect x="47.79" y="127.21" width="1" height="5.71" fill="#1aa04f"/>
<rect x="91.61" y="127.21" width="1" height="5.71" fill="#1d7048"/>
<rect x="151" y="127.21" width="1" height="5.71" fill="#6f8a86"/>
<rect x="198.71" y="127.21" width="1" height="5.71" fill="#1d7048"/>
<rect x="124.71" y="127.21" width="1" height="5.71" fill="#1aa04f"/>
<rect x="147.11" y="127.21" width="1" height="5.71" fill="#e6a3d3"/>
<rect x="183.13" y="127.21" width="1" height="5.71" fill="#e6a3d3"/>
<rect x="202.61" y="127.21" width="1" height="5.71" fill="#1d7048"/>
<rect x="129.58" y="127.21" width="1" height="5.71" fill="#1aa04f"/>
<rect x="125.68" y="127.21" width="1" height="5.71" fill="#ee1f7d"/>
<rect x="199.68" y="127.21" width="1" height="5.71" fill="#e6a3d3"/>
<rect x="204.55" y="127.21" width="1" height="5.71" fill="#ee1f7d"/>
<rect x="52.66" y="133.52" width="1" height="5.71" fill="#1aa04f"/>
<rect x="104.26" y="133.52" width="1" height="5.71" fill="#2e4562"/>
<rect x="59.47" y="133.52" width="1" height="5.71" fill="#1aa04f"/>
<rect x="73.11" y="133.52" width="1" height="5.71" fill="#1aa04f"/>
<rect x="109.13" y="133.52" width="1" height="5.71" fill="#1d7048"/>
<rect x="108.16" y="133.52" width="1" height="5.71" fill="#6f8a86"/>
<rect x="138.34" y="133.52" width="1" height="5.71" fill="#1d7048"/>
<rect x="125.68" y="133.52" width="1" height="5.71" fill="#e6a3d3"/>
<rect x="204.55" y="133.52" width="1" height="5.71" fill="#6f8a86"/>
<rect x="186.05" y="133.52" width="1" height="5.71" fill="#2e4562"/>
<rect x="129.58" y="133.52" width="1" height="5.71" fill="#e6a3d3"/>
<rect x="192.87" y="133.52" width="1" height="5.71" fill="#f28c18"/>
<rect x="188" y="133.52" width="1" height="5.71" fill="#1aa04f"/>
<rect x="168.53" y="133.52" width="1" height="5.71" fill="#e6a3d3"/>
<rect x="166.58" y="133.52" width="1" height="5.71" fill="#1d7048"/>
<rect x="135.42" y="133.52" width="1" height="5.71" fill="#1aa04f"/>
<rect x="74.08" y="139.83" width="1" height="5.71" fill="#6f8a86"/>
<rect x="94.53" y="139.83" width="1" height="5.71" fill="#6f8a86"/>
<rect x="75.05" y="139.83" width="1" height="5.71" fill="#1aa04f"/>
<rect x="73.11" y="139.83" width="1" height="5.71" fill="#6f8a86"/>
<rect x="40.97" y="139.83" width="1" height="5.71" fill="#f28c18"/>
<rect x="91.61" y="139.83" width="1" height="5.71" fill="#e6a3d3"/>
<rect x="146.13" y="139.83" width="1" height="5.71" fill="#e6a3d3"/>
<rect x="126.66" y="139.83" width="1" height="5.71" fill="#1aa04f"/>
<rect x="147.11" y="139.83" width="1" height="5.71" fill="#1aa04f"/>
<rect x="123.74" y="139.83" width="1" height="5.71" fill="#f28c18"/>
<rect x="124.71" y="139.83" width="1" height="5.71" fill="#1d7048"/>
<rect x="144.18" y="139.83" width="1" height="5.71" fill="#f28c18"/>
<rect x="122.76" y="139.83" width="1" height="5.71" fill="#f28c18"/>
<rect x="151" y="139.83" width="1" height="5.71" fill="#6f8a86"/>
<rect x="158.79" y="139.83" width="1" height="5.71" fill="#1aa04f"/>
<rect x="119.84" y="139.83" width="1" height="5.71" fill="#1aa04f"/>
<rect x="114" y="146.14" width="1" height="5.71" fill="#ee1f7d"/>
<rect x="93.55" y="146.14" width="1" height="5.71" fill="#1aa04f"/>
<rect x="104.26" y="146.14" width="1" height="5.71" fill="#1aa04f"/>
<rect x="41.95" y="146.14" width="1" height="5.71" fill="#1aa04f"/>
<rect x="45.84" y="146.14" width="1" height="5.71" fill="#6f8a86"/>
<rect x="89.66" y="146.14" width="1" height="5.71" fill="#1aa04f"/>
<rect x="198.71" y="146.14" width="1" height="5.71" fill="#6f8a86"/>
<rect x="126.66" y="146.14" width="1" height="5.71" fill="#1aa04f"/>
<rect x="182.16" y="146.14" width="1" height="5.71" fill="#1aa04f"/>
<rect x="200.66" y="146.14" width="1" height="5.71" fill="#6f8a86"/>
<rect x="120.82" y="146.14" width="1" height="5.71" fill="#6f8a86"/>
<rect x="138.34" y="146.14" width="1" height="5.71" fill="#1aa04f"/>
<rect x="177.29" y="146.14" width="1" height="5.71" fill="#2e4562"/>
<rect x="125.68" y="146.14" width="1" height="5.71" fill="#1aa04f"/>
<rect x="192.87" y="146.14" width="1" height="5.71" fill="#e6a3d3"/>
<rect x="134.45" y="146.14" width="1" height="5.71" fill="#6f8a86"/>
<rect x="68.24" y="152.45" width="1" height="5.71" fill="#1d7048"/>
<rect x="54.61" y="152.45" width="1" height="5.71" fill="#1aa04f"/>
<rect x="74.08" y="152.45" width="1" height="5.71" fill="#1aa04f"/>
<rect x="93.55" y="152.45" width="1" height="5.71" fill="#1aa04f"/>
<rect x="63.37" y="152.45" width="1" height="5.71" fill="#f28c18"/>
<rect x="66.29" y="152.45" width="1" height="5.71" fill="#6f8a86"/>
<rect x="189.95" y="152.45" width="1" height="5.71" fill="#1d7048"/>
<rect x="205.53" y="152.45" width="1" height="5.71" fill="#1d7048"/>
<rect x="144.18" y="152.45" width="1" height="5.71" fill="#2e4562"/>
<rect x="152.95" y="152.45" width="1" height="5.71" fill="#1aa04f"/>
<rect x="170.47" y="152.45" width="1" height="5.71" fill="#1d7048"/>
<rect x="195.79" y="152.45" width="1" height="5.71" fill="#1d7048"/>
<rect x="131.53" y="152.45" width="1" height="5.71" fill="#f28c18"/>
<rect x="151" y="152.45" width="1" height="5.71" fill="#1aa04f"/>
<rect x="188" y="152.45" width="1" height="5.71" fill="#6f8a86"/>
<rect x="173.39" y="152.45" width="1" height="5.71" fill="#1aa04f"/>
<rect x="136.39" y="152.45" width="1" height="5.71" fill="#1aa04f"/>
<rect x="115.95" y="158.76" width="1" height="5.71" fill="#2e4562"/>
<rect x="64.34" y="158.76" width="1" height="5.71" fill="#e6a3d3"/>
<rect x="80.89" y="158.76" width="1" height="5.71" fill="#1d7048"/>
<rect x="66.29" y="158.76" width="1" height="5.71" fill="#f28c18"/>
<rect x="116.92" y="158.76" width="1" height="5.71" fill="#1aa04f"/>
<rect x="131.53" y="158.76" width="1" height="5.71" fill="#1aa04f"/>
<rect x="134.45" y="158.76" width="1" height="5.71" fill="#1aa04f"/>
<rect x="167.55" y="158.76" width="1" height="5.71" fill="#1aa04f"/>
<rect x="145.16" y="158.76" width="1" height="5.71" fill="#1aa04f"/>
<rect x="140.29" y="158.76" width="1" height="5.71" fill="#2e4562"/>
<rect x="119.84" y="158.76" width="1" height="5.71" fill="#1d7048"/>
<rect x="154.89" y="158.76" width="1" height="5.71" fill="#1aa04f"/>
<rect x="170.47" y="158.76" width="1" height="5.71" fill="#1aa04f"/>
<rect x="83.82" y="165.08" width="1" height="5.71" fill="#6f8a86"/>
<rect x="72.13" y="165.08" width="1" height="5.71" fill="#1aa04f"/>
<rect x="64.34" y="165.08" width="1" height="5.71" fill="#1aa04f"/>
<rect x="49.74" y="165.08" width="1" height="5.71" fill="#1aa04f"/>
<rect x="68.24" y="165.08" width="1" height="5.71" fill="#1aa04f"/>
<rect x="146.13" y="165.08" width="1" height="5.71" fill="#2e4562"/>
<rect x="120.82" y="165.08" width="1" height="5.71" fill="#1d7048"/>
<rect x="125.68" y="165.08" width="1" height="5.71" fill="#e6a3d3"/>
<rect x="170.47" y="165.08" width="1" height="5.71" fill="#e6a3d3"/>
<rect x="134.45" y="165.08" width="1" height="5.71" fill="#2e4562"/>
<rect x="188" y="165.08" width="1" height="5.71" fill="#6f8a86"/>
<rect x="205.53" y="165.08" width="1" height="5.71" fill="#e6a3d3"/>
<rect x="119.84" y="165.08" width="1" height="5.71" fill="#6f8a86"/>
<rect x="61.42" y="171.39" width="1" height="5.71" fill="#1aa04f"/>
<rect x="114.97" y="171.39" width="1" height="5.71" fill="#1aa04f"/>
<rect x="43.89" y="171.39" width="1" height="5.71" fill="#1aa04f"/>
<rect x="83.82" y="171.39" width="1" height="5.71" fill="#f28c18"/>
<rect x="71.16" y="171.39" width="1" height="5.71" fill="#1aa04f"/>
<rect x="156.84" y="171.39" width="1" height="5.71" fill="#1aa04f"/>
<rect x="203.58" y="171.39" width="1" height="5.71" fill="#1aa04f"/>
<rect x="125.68" y="171.39" width="1" height="5.71" fill="#1aa04f"/>
<rect x="131.53" y="171.39" width="1" height="5.71" fill="#e6a3d3"/>
<rect x="165.61" y="171.39" width="1" height="5.71" fill="#1aa04f"/>
<rect x="152.95" y="171.39" width="1" height="5.71" fill="#f28c18"/>
<rect x="170.47" y="171.39" width="1" height="5.71" fill="#6f8a86"/>
<rect x="188" y="171.39" width="1" height="5.71" fill="#ee1f7d"/>
<rect x="126.66" y="171.39" width="1" height="5.71" fill="#2e4562"/>
<rect x="108.16" y="177.7" width="1" height="5.71" fill="#1aa04f"/>
<rect x="98.42" y="177.7" width="1" height="5.71" fill="#1aa04f"/>
<rect x="76.03" y="177.7" width="1" height="5.71" fill="#1aa04f"/>
<rect x="96.47" y="177.7" width="1" height="5.71" fill="#e6a3d3"/>
<rect x="74.08" y="177.7" width="1" height="5.71" fill="#1aa04f"/>
<rect x="56.55" y="177.7" width="1" height="5.71" fill="#1aa04f"/>
<rect x="181.18" y="177.7" width="1" height="5.71" fill="#1aa04f"/>
<rect x="173.39" y="177.7" width="1" height="5.71" fill="#1aa04f"/>
<rect x="191.89" y="177.7" width="1" height="5.71" fill="#e6a3d3"/>
<rect x="175.34" y="177.7" width="1" height="5.71" fill="#1aa04f"/>
<rect x="133.47" y="177.7" width="1" height="5.71" fill="#1aa04f"/>
<rect x="156.84" y="177.7" width="1" height="5.71" fill="#6f8a86"/>
<rect x="143.21" y="177.7" width="1" height="5.71" fill="#1aa04f"/>
<rect x="188" y="177.7" width="1" height="5.71" fill="#1aa04f"/>
<rect x="151.97" y="177.7" width="1" height="5.71" fill="#1aa04f"/>
<rect x="108.16" y="184.01" width="1" height="5.71" fill="#1d7048"/>
<rect x="54.61" y="184.01" width="1" height="5.71" fill="#1d7048"/>
<rect x="51.68" y="184.01" width="1" height="5.71" fill="#e6a3d3"/>
<rect x="114.97" y="184.01" width="1" height="5.71" fill="#1aa04f"/>
<rect x="53.63" y="184.01" width="1" height="5.71" fill="#1d7048"/>
<rect x="167.55" y="184.01" width="1" height="5.71" fill="#1d7048"/>
<rect x="174.37" y="184.01" width="1" height="5.71" fill="#f28c18"/>
<rect x="170.47" y="184.01" width="1" height="5.71" fill="#1aa04f"/>
<rect x="211.37" y="184.01" width="1" height="5.71" fill="#2e4562"/>
<rect x="146.13" y="184.01" width="1" height="5.71" fill="#1aa04f"/>
<rect x="190.92" y="184.01" width="1" height="5.71" fill="#1aa04f"/>
<rect x="175.34" y="184.01" width="1" height="5.71" fill="#1d7048"/>
<rect x="195.79" y="184.01" width="1" height="5.71" fill="#e6a3d3"/>
<rect x="86.74" y="190.32" width="1" height="5.71" fill="#1aa04f"/>
<rect x="52.66" y="190.32" width="1" height="5.71" fill="#1d7048"/>
<rect x="42.92" y="190.32" width="1" height="5.71" fill="#1aa04f"/>
<rect x="48.76" y="190.32" width="1" height="5.71" fill="#ee1f7d"/>
<rect x="93.55" y="190.32" width="1" height="5.71" fill="#1aa04f"/>
<rect x="125.68" y="190.32" width="1" height="5.71" fill="#2e4562"/>
<rect x="170.47" y="190.32" width="1" height="5.71" fill="#e6a3d3"/>
<rect x="119.84" y="190.32" width="1" height="5.71" fill="#1aa04f"/>
<rect x="122.76" y="190.32" width="1" height="5.71" fill="#f28c18"/>
<rect x="121.79" y="190.32" width="1" height="5.71" fill="#ee1f7d"/>
<rect x="197.74" y="190.32" width="1" height="5.71" fill="#1d7048"/>
<rect x="186.05" y="190.32" width="1" height="5.71" fill="#1aa04f"/>
<rect x="134.45" y="190.32" width="1" height="5.71" fill="#1aa04f"/>
<rect x="208.45" y="190.32" width="1" height="5.71" fill="#1aa04f"/>
<rect x="42.92" y="196.63" width="1" height="5.71" fill="#f28c18"/>
<rect x="115.95" y="196.63" width="1" height="5.71" fill="#e6a3d3"/>
<rect x="112.05" y="196.63" width="1" height="5.71" fill="#e6a3d3"/>
<rect x="97.45" y="196.63" width="1" height="5.71" fill="#1aa04f"/>
<rect x="46.82" y="196.63" width="1" height="5.71" fill="#6f8a86"/>
<rect x="123.74" y="196.63" width="1" height="5.71" fill="#1d7048"/>
<rect x="183.13" y="196.63" width="1" height="5.71" fill="#1d7048"/>
<rect x="129.58" y="196.63" width="1" height="5.71" fill="#f28c18"/>
<rect x="137.37" y="196.63" width="1" height="5.71" fill="#e6a3d3"/>
<rect x="146.13" y="196.63" width="1" height="5.71" fill="#6f8a86"/>
<rect x="119.84" y="196.63" width="1" height="5.71" fill="#6f8a86"/>
<rect x="134.45" y="196.63" width="1" height="5.71" fill="#1aa04f"/>
<rect x="139.32" y="196.63" width="1" height="5.71" fill="#e6a3d3"/>
<rect x="182.16" y="196.63" width="1" height="5.71" fill="#f28c18"/>
<rect x="73.11" y="202.94" width="1" height="5.71" fill="#2e4562"/>
<rect x="77" y="202.94" width="1" height="5.71" fill="#2e4562"/>
<rect x="104.26" y="202.94" width="1" height="5.71" fill="#1aa04f"/>
<rect x="66.29" y="202.94" width="1" height="5.71" fill="#ee1f7d"/>
<rect x="95.5" y="202.94" width="1" height="5.71" fill="#1aa04f"/>
<rect x="134.45" y="202.94" width="1" height="5.71" fill="#1aa04f"/>
<rect x="147.11" y="202.94" width="1" height="5.71" fill="#6f8a86"/>
<rect x="158.79" y="202.94" width="1" height="5.71" fill="#ee1f7d"/>
<rect x="135.42" y="202.94" width="1" height="5.71" fill="#1aa04f"/>
<rect x="187.03" y="202.94" width="1" height="5.71" fill="#6f8a86"/>
<rect x="120.82" y="202.94" width="1" height="5.71" fill="#2e4562"/>
<rect x="140.29" y="202.94" width="1" height="5.71" fill="#1d7048"/>
<rect x="82.84" y="209.25" width="1" height="5.71" fill="#ee1f7d"/>
<rect x="88.68" y="209.25" width="1" height="5.71" fill="#1aa04f"/>
<rect x="52.66" y="209.25" width="1" height="5.71" fill="#6f8a86"/>
<rect x="108.16" y="209.25" width="1" height="5.71" fill="#1aa04f"/>
<rect x="169.5" y="209.25" width="1" height="5.71" fill="#1d7048"/>
<rect x="122.76" y="209.25" width="1" height="5.71" fill="#f28c18"/>
<rect x="188" y="209.25" width="1" height="5.71" fill="#1aa04f"/>
<rect x="174.37" y="209.25" width="1" height="5.71" fill="#1d7048"/>
<rect x="186.05" y="209.25" width="1" height="5.71" fill="#e6a3d3"/>
<rect x="165.61" y="209.25" width="1" height="5.71" fill="#1aa04f"/>
<rect x="138.34" y="209.25" width="1" height="5.71" fill="#1d7048"/>
<rect x="142.24" y="209.25" width="1" height="5.71" fill="#1aa04f"/>
<rect x="74.08" y="215.56" width="1" height="5.71" fill="#e6a3d3"/>
<rect x="84.79" y="215.56" width="1" height="5.71" fill="#1aa04f"/>
<rect x="52.66" y="215.56" width="1" height="5.71" fill="#6f8a86"/>
<rect x="164.63" y="215.56" width="1" height="5.71" fill="#6f8a86"/>
<rect x="175.34" y="215.56" width="1" height="5.71" fill="#e6a3d3"/>
<rect x="165.61" y="215.56" width="1" height="5.71" fill="#2e4562"/>
<rect x="119.84" y="215.56" width="1" height="5.71" fill="#f28c18"/>
<rect x="162.68" y="215.56" width="1" height="5.71" fill="#1d7048"/>
<rect x="154.89" y="215.56" width="1" height="5.71" fill="#1aa04f"/>
<rect x="94.53" y="221.87" width="1" height="5.71" fill="#1d7048"/>
<rect x="61.42" y="221.87" width="1" height="5.71" fill="#6f8a86"/>
<rect x="58.5" y="221.87" width="1" height="5.71" fill="#e6a3d3"/>
<rect x="132.5" y="221.87" width="1" height="5.71" fill="#1aa04f"/>
<rect x="129.58" y="221.87" width="1" height="5.71" fill="#f28c18"/>
<rect x="138.34" y="221.87" width="1" height="5.71" fill="#1aa04f"/>
<rect x="178.26" y="221.87" width="1" height="5.71" fill="#1aa04f"/>
<rect x="197.74" y="221.87" width="1" height="5.71" fill="#f28c18"/>
<rect x="82.84" y="228.19" width="1" height="5.71" fill="#1aa04f"/>
<rect x="52.66" y="228.19" width="1" height="5.71" fill="#1aa04f"/>
<rect x="67.26" y="228.19" width="1" height="5.71" fill="#f28c18"/>
<rect x="126.66" y="228.19" width="1" height="5.71" fill="#1aa04f"/>
<rect x="171.45" y="228.19" width="1" height="5.71" fill="#f28c18"/>
<rect x="130.55" y="228.19" width="1" height="5.71" fill="#1aa04f"/>
<rect x="125.68" y="228.19" width="1" height="5.71" fill="#1d7048"/>
<rect x="129.58" y="228.19" width="1" height="5.71" fill="#1aa04f"/>
<rect x="92.58" y="234.5" width="1" height="5.71" fill="#1d7048"/>
<rect x="47.79" y="234.5" width="1" height="5.71" fill="#6f8a86"/>
<rect x="58.5" y="234.5" width="1" height="5.71" fill="#1aa04f"/>
<rect x="196.76" y="234.5" width="1" height="5.71" fill="#1aa04f"/>
<rect x="146.13" y="234.5" width="1" height="5.71" fill="#e6a3d3"/>
<rect x="131.53" y="234.5" width="1" height="5.71" fill="#f28c18"/>
<rect x="213.32" y="234.5" width="1" height="5.71" fill="#1d7048"/>
<rect x="135.42" y="234.5" width="1" height="5.71" fill="#1aa04f"/>
<rect x="119.84" y="234.5" width="1" height="5.71" fill="#f28c18"/>
<rect x="109.13" y="240.81" width="1" height="5.71" fill="#e6a3d3"/>
<rect x="94.53" y="240.81" width="1" height="5.71" fill="#1d7048"/>
<rect x="85.76" y="240.81" width="1" height="5.71" fill="#1aa04f"/>
<rect x="170.47" y="240.81" width="1" height="5.71" fill="#1aa04f"/>
<rect x="199.68" y="240.81" width="1" height="5.71" fill="#e6a3d3"/>
<rect x="167.55" y="240.81" width="1" height="5.71" fill="#1aa04f"/>
<rect x="159.76" y="240.81" width="1" height="5.71" fill="#6f8a86"/>
<rect x="131.53" y="240.81" width="1" height="5.71" fill="#1d7048"/>
<rect x="92.58" y="247.12" width="1" height="5.71" fill="#1d7048"/>
<rect x="47.79" y="247.12" width="1" height="5.71" fill="#ee1f7d"/>
<rect x="74.08" y="247.12" width="1" height="5.71" fill="#ee1f7d"/>
<rect x="133.47" y="247.12" width="1" height="5.71" fill="#e6a3d3"/>
<rect x="144.18" y="247.12" width="1" height="5.71" fill="#e6a3d3"/>
<rect x="147.11" y="247.12" width="1" height="5.71" fill="#1aa04f"/>
<rect x="169.5" y="247.12" width="1" height="5.71" fill="#e6a3d3"/>
<rect x="142.24" y="247.12" width="1" height="5.71" fill="#1d7048"/>
<rect x="71.16" y="253.43" width="1" height="5.71" fill="#1aa04f"/>
<rect x="79.92" y="253.43" width="1" height="5.71" fill="#1aa04f"/>
<rect x="116.92" y="253.43" width="1" height="5.71" fill="#2e4562"/>
<rect x="178.26" y="253.43" width="1" height="5.71" fill="#1aa04f"/>
<rect x="209.42" y="253.43" width="1" height="5.71" fill="#ee1f7d"/>
<rect x="129.58" y="253.43" width="1" height="5.71" fill="#6f8a86"/>
<rect x="138.34" y="253.43" width="1" height="5.71" fill="#6f8a86"/>
<rect x="195.79" y="253.43" width="1" height="5.71" fill="#1aa04f"/>
<rect x="147.11" y="253.43" width="1" height="5.71" fill="#e6a3d3"/>
<rect x="68.24" y="259.74" width="1" height="5.71" fill="#6f8a86"/>
<rect x="66.29" y="259.74" width="1" height="5.71" fill="#1aa04f"/>
<rect x="103.29" y="259.74" width="1" height="5.71" fill="#e6a3d3"/>
<rect x="154.89" y="259.74" width="1" height="5.71" fill="#1d7048"/>
<rect x="207.47" y="259.74" width="1" height="5.71" fill="#1d7048"/>
<rect x="178.26" y="259.74" width="1" height="5.71" fill="#1aa04f"/>
<rect x="164.63" y="259.74" width="1" height="5.71" fill="#1aa04f"/>
<rect x="168.53" y="259.74" width="1" height="5.71" fill="#1aa04f"/>
<rect x="132.5" y="259.74" width="1" height="5.71" fill="#1d7048"/>
<rect x="92.58" y="266.05" width="1" height="5.71" fill="#2e4562"/>
<rect x="94.53" y="266.05" width="1" height="5.71" fill="#1aa04f"/>
<rect x="135.42" y="266.05" width="1" height="5.71" fill="#1d7048"/>
<rect x="143.21" y="266.05" width="1" height="5.71" fill="#6f8a86"/>
<rect x="209.42" y="266.05" width="1" height="5.71" fill="#1aa04f"/>
<rect x="212.34" y="266.05" width="1" height="5.71" fill="#1aa04f"/>
<rect x="104.26" y="272.36" width="1" height="5.71" fill="#e6a3d3"/>
<rect x="108.16" y="272.36" width="1" height="5.71" fill="#1aa04f"/>
<rect x="159.76" y="272.36" width="1" height="5.71" fill="#e6a3d3"/>
<rect x="132.5" y="272.36" width="1" height="5.71" fill="#1d7048"/>
<rect x="212.34" y="272.36" width="1" height="5.71" fill="#6f8a86"/>
<rect x="139.32" y="272.36" width="1" height="5.71" fill="#1aa04f"/>
<rect x="93.55" y="278.67" width="1" height="5.71" fill="#6f8a86"/>
<rect x="104.26" y="278.67" width="1" height="5.71" fill="#1d7048"/>
<rect x="132.5" y="278.67" width="1" height="5.71" fill="#1d7048"/>
<rect x="178.26" y="278.67" width="1" height="5.71" fill="#e6a3d3"/>
<rect x="174.37" y="278.67" width="1" height="5.71" fill="#1aa04f"/>
<rect x="107.18" y="284.98" width="1" height="5.71" fill="#1d7048"/>
<rect x="104.26" y="284.98" width="1" height="5.71" fill="#1aa04f"/>
<rect x="136.39" y="284.98" width="1" height="5.71" fill="#1aa04f"/>
<rect x="151.97" y="284.98" width="1" height="5.71" fill="#e6a3d3"/>
<rect x="168.53" y="284.98" width="1" height="5.71" fill="#1d7048"/>
<rect x="381.69" y="7.3" width="1" height="5.71" fill="#1aa04f"/>
<rect x="340.44" y="7.3" width="1" height="5.71" fill="#1aa04f"/>
<rect x="326.38" y="7.3" width="1" height="5.71" fill="#1aa04f"/>
<rect x="288.88" y="7.3" width="1" height="5.71" fill="#1d7048"/>
<rect x="280.44" y="7.3" width="1" height="5.71" fill="#e6a3d3"/>
<rect x="322.62" y="7.3" width="1" height="5.71" fill="#1aa04f"/>
<rect x="392.94" y="7.3" width="1" height="5.71" fill="#e6a3d3"/>
<rect x="371.38" y="7.3" width="1" height="5.71" fill="#1d7048"/>
<rect x="320.75" y="7.3" width="1" height="5.71" fill="#6f8a86"/>
<rect x="279.5" y="7.3" width="1" height="5.71" fill="#1d7048"/>
<rect x="391.06" y="7.3" width="1" height="5.71" fill="#f28c18"/>
<rect x="347" y="7.3" width="1" height="5.71" fill="#6f8a86"/>
<rect x="302.94" y="7.3" width="1" height="5.71" fill="#1aa04f"/>
<rect x="317" y="13.61" width="1" height="5.71" fill="#1aa04f"/>
<rect x="279.5" y="13.61" width="1" height="5.71" fill="#2e4562"/>
<rect x="236.38" y="13.61" width="1" height="5.71" fill="#1d7048"/>
<rect x="395.75" y="13.61" width="1" height="5.71" fill="#1aa04f"/>
<rect x="345.12" y="13.61" width="1" height="5.71" fill="#1d7048"/>
<rect x="370.44" y="13.61" width="1" height="5.71" fill="#1d7048"/>
<rect x="285.12" y="13.61" width="1" height="5.71" fill="#e6a3d3"/>
<rect x="325.44" y="13.61" width="1" height="5.71" fill="#1d7048"/>
<rect x="392.94" y="13.61" width="1" height="5.71" fill="#e6a3d3"/>
<rect x="369.5" y="13.61" width="1" height="5.71" fill="#f28c18"/>
<rect x="320.75" y="13.61" width="1" height="5.71" fill="#1aa04f"/>
<rect x="277.62" y="19.92" width="1" height="5.71" fill="#2e4562"/>
<rect x="227" y="19.92" width="1" height="5.71" fill="#1aa04f"/>
<rect x="274.81" y="19.92" width="1" height="5.71" fill="#1aa04f"/>
<rect x="298.25" y="19.92" width="1" height="5.71" fill="#2e4562"/>
<rect x="323.56" y="19.92" width="1" height="5.71" fill="#e6a3d3"/>
<rect x="371.38" y="19.92" width="1" height="5.71" fill="#f28c18"/>
<rect x="383.56" y="19.92" width="1" height="5.71" fill="#6f8a86"/>
<rect x="235.44" y="19.92" width="1" height="5.71" fill="#1d7048"/>
<rect x="372.31" y="19.92" width="1" height="5.71" fill="#2e4562"/>
<rect x="363.88" y="19.92" width="1" height="5.71" fill="#1aa04f"/>
<rect x="378.88" y="19.92" width="1" height="5.71" fill="#2e4562"/>
<rect x="364.81" y="26.23" width="1" height="5.71" fill="#1d7048"/>
<rect x="261.69" y="26.23" width="1" height="5.71" fill="#6f8a86"/>
<rect x="353.56" y="26.23" width="1" height="5.71" fill="#2e4562"/>
<rect x="390.12" y="26.23" width="1" height="5.71" fill="#1aa04f"/>
<rect x="270.12" y="26.23" width="1" height="5.71" fill="#2e4562"/>
<rect x="323.56" y="26.23" width="1" height="5.71" fill="#1d7048"/>
<rect x="337.62" y="26.23" width="1" height="5.71" fill="#f28c18"/>
<rect x="302.94" y="26.23" width="1" height="5.71" fill="#1aa04f"/>
<rect x="260.75" y="26.23" width="1" height="5.71" fill="#1aa04f"/>
<rect x="272.94" y="26.23" width="1" height="5.71" fill="#1d7048"/>
<rect x="354.5" y="26.23" width="1" height="5.71" fill="#2e4562"/>
<rect x="273.88" y="32.54" width="1" height="5.71" fill="#1d7048"/>
<rect x="372.31" y="32.54" width="1" height="5.71" fill="#1d7048"/>
<rect x="282.31" y="32.54" width="1" height="5.71" fill="#f28c18"/>
<rect x="308.56" y="32.54" width="1" height="5.71" fill="#6f8a86"/>
<rect x="260.75" y="32.54" width="1" height="5.71" fill="#1aa04f"/>
<rect x="263.56" y="32.54" width="1" height="5.71" fill="#1aa04f"/>
<rect x="242" y="32.54" width="1" height="5.71" fill="#1aa04f"/>
<rect x="368.56" y="32.54" width="1" height="5.71" fill="#6f8a86"/>
<rect x="279.5" y="32.54" width="1" height="5.71" fill="#1d7048"/>
<rect x="324.5" y="32.54" width="1" height="5.71" fill="#1aa04f"/>
<rect x="303.88" y="38.85" width="1" height="5.71" fill="#1aa04f"/>
<rect x="241.06" y="38.85" width="1" height="5.71" fill="#2e4562"/>
<rect x="282.31" y="38.85" width="1" height="5.71" fill="#6f8a86"/>
<rect x="232.62" y="38.85" width="1" height="5.71" fill="#2e4562"/>
<rect x="278.56" y="38.85" width="1" height="5.71" fill="#2e4562"/>
<rect x="328.25" y="38.85" width="1" height="5.71" fill="#1aa04f"/>
<rect x="245.75" y="38.85" width="1" height="5.71" fill="#1aa04f"/>
<rect x="276.69" y="45.17" width="1" height="5.71" fill="#1aa04f"/>
<rect x="244.81" y="45.17" width="1" height="5.71" fill="#1aa04f"/>
<rect x="302.94" y="45.17" width="1" height="5.71" fill="#1aa04f"/>
<rect x="324.5" y="45.17" width="1" height="5.71" fill="#1d7048"/>
<rect x="327.31" y="45.17" width="1" height="5.71" fill="#1aa04f"/>
<rect x="288.88" y="51.48" width="1" height="5.71" fill="#6f8a86"/>
<rect x="231.69" y="51.48" width="1" height="5.71" fill="#1aa04f"/>
<rect x="232.62" y="51.48" width="1" height="5.71" fill="#e6a3d3"/>
<rect x="289.81" y="51.48" width="1" height="5.71" fill="#e6a3d3"/>
<rect x="348.88" y="51.48" width="1" height="5.71" fill="#1d7048"/>
<rect x="347" y="57.79" width="1" height="5.71" fill="#e6a3d3"/>
<rect x="242.94" y="57.79" width="1" height="5.71" fill="#6f8a86"/>
<rect x="282.31" y="57.79" width="1" height="5.71" fill="#1d7048"/>
<rect x="269.19" y="57.79" width="1" height="5.71" fill="#1aa04f"/>
<rect x="243.88" y="57.79" width="1" height="5.71" fill="#6f8a86"/>
<rect x="287.94" y="64.1" width="1" height="5.71" fill="#1aa04f"/>
<rect x="270.12" y="64.1" width="1" height="5.71" fill="#1d7048"/>
<rect x="349.81" y="64.1" width="1" height="5.71" fill="#1aa04f"/>
<rect x="256.06" y="64.1" width="1" height="5.71" fill="#2e4562"/>
<rect x="373.25" y="70.41" width="1" height="5.71" fill="#e6a3d3"/>
<rect x="235.44" y="70.41" width="1" height="5.71" fill="#f28c18"/>
<rect x="362" y="70.41" width="1" height="5.71" fill="#6f8a86"/>
<rect x="346.06" y="70.41" width="1" height="5.71" fill="#1aa04f"/>
<rect x="282.31" y="76.72" width="1" height="5.71" fill="#6f8a86"/>
<rect x="227" y="76.72" width="1" height="5.71" fill="#f28c18"/>
<rect x="261.69" y="76.72" width="1" height="5.71" fill="#e6a3d3"/>
<rect x="355.44" y="76.72" width="1" height="5.71" fill="#1aa04f"/>
<rect x="323.56" y="76.72" width="1" height="5.71" fill="#6f8a86"/>
<rect x="272.94" y="83.03" width="1" height="5.71" fill="#1aa04f"/>
<rect x="251.38" y="83.03" width="1" height="5.71" fill="#1aa04f"/>
<rect x="308.56" y="83.03" width="1" height="5.71" fill="#e6a3d3"/>
<rect x="257.94" y="83.03" width="1" height="5.71" fill="#1aa04f"/>
<rect x="386.38" y="89.34" width="1" height="5.71" fill="#1aa04f"/>
<rect x="363.88" y="89.34" width="1" height="5.71" fill="#1aa04f"/>
<rect x="254.19" y="89.34" width="1" height="5.71" fill="#e6a3d3"/>
<rect x="382.62" y="95.65" width="1" height="5.71" fill="#1aa04f"/>
<rect x="251.38" y="95.65" width="1" height="5.71" fill="#1d7048"/>
<rect x="302.94" y="95.65" width="1" height="5.71" fill="#1aa04f"/>
<rect x="302" y="101.96" width="1" height="5.71" fill="#6f8a86"/>
<rect x="285.12" y="101.96" width="1" height="5.71" fill="#1aa04f"/>
<rect x="371.38" y="101.96" width="1" height="5.71" fill="#e6a3d3"/>
<rect x="285.12" y="108.28" width="1" height="5.71" fill="#6f8a86"/>
<rect x="352.62" y="108.28" width="1" height="5.71" fill="#2e4562"/>
<rect x="257.94" y="108.28" width="1" height="5.71" fill="#1aa04f"/>
<rect x="252.31" y="114.59" width="1" height="5.71" fill="#1aa04f"/>
<rect x="295.44" y="114.59" width="1" height="5.71" fill="#1aa04f"/>
<rect x="317.94" y="120.9" width="1" height="5.71" fill="#1aa04f"/>
<rect x="279.5" y="120.9" width="1" height="5.71" fill="#6f8a86"/>
<rect x="367.62" y="120.9" width="1" height="5.71" fill="#1aa04f"/>
<rect x="384.5" y="127.21" width="1" height="5.71" fill="#1aa04f"/>
<rect x="247.62" y="127.21" width="1" height="5.71" fill="#e6a3d3"/>
<rect x="395.75" y="127.21" width="1" height="5.71" fill="#e6a3d3"/>
<rect x="315.12" y="133.52" width="1" height="5.71" fill="#1aa04f"/>
<rect x="372.31" y="133.52" width="1" height="5.71" fill="#1aa04f"/>
<rect x="394.81" y="139.83" width="1" height="5.71" fill="#1aa04f"/>
<rect x="297.31" y="139.83" width="1" height="5.71" fill="#1aa04f"/>
<rect x="244.81" y="146.14" width="1" height="5.71" fill="#1aa04f"/>
<rect x="279.5" y="146.14" width="1" height="5.71" fill="#1aa04f"/>
<rect x="395.75" y="152.45" width="1" height="5.71" fill="#e6a3d3"/>
<rect x="252.31" y="152.45" width="1" height="5.71" fill="#1aa04f"/>
<rect x="308.56" y="158.76" width="1" height="5.71" fill="#6f8a86"/>
<rect x="310.44" y="158.76" width="1" height="5.71" fill="#1aa04f"/>
<rect x="391.06" y="165.08" width="1" height="5.71" fill="#1aa04f"/>
<rect x="298.25" y="171.39" width="1" height="5.71" fill="#1aa04f"/>
<rect x="386.38" y="171.39" width="1" height="5.71" fill="#1aa04f"/>
<rect x="251.38" y="177.7" width="1" height="5.71" fill="#f28c18"/>
<rect x="260.75" y="177.7" width="1" height="5.71" fill="#1aa04f"/>
<rect x="260.75" y="184.01" width="1" height="5.71" fill="#1aa04f"/>
<rect x="382.62" y="190.32" width="1" height="5.71" fill="#f28c18"/>
<rect x="274.81" y="196.63" width="1" height="5.71" fill="#e6a3d3"/>
<rect x="262.62" y="196.63" width="1" height="5.71" fill="#e6a3d3"/>
<rect x="368.56" y="202.94" width="1" height="5.71" fill="#2e4562"/>
<rect x="227.94" y="209.25" width="1" height="5.71" fill="#ee1f7d"/>
<rect x="349.81" y="221.87" width="1" height="5.71" fill="#1aa04f"/>
<rect x="286.06" y="228.19" width="1" height="5.71" fill="#1aa04f"/>
<rect x="228.88" y="247.12" width="1" height="5.71" fill="#f28c18"/>
<rect x="380.75" y="253.43" width="1" height="5.71" fill="#1aa04f"/>
<rect x="316.06" y="259.74" width="1" height="5.71" fill="#1d7048"/>
<rect x="346.06" y="266.05" width="1" height="5.71" fill="#2e4562"/>
<rect x="309.5" y="278.67" width="1" height="5.71" fill="#6f8a86"/>
<rect x="421.16" y="7.3" width="1" height="5.71" fill="#6f8a86"/>
<rect x="412.52" y="7.3" width="1" height="5.71" fill="#1aa04f"/>
<rect x="408.68" y="7.3" width="1" height="5.71" fill="#1d7048"/>
<rect x="403.88" y="7.3" width="1" height="5.71" fill="#1aa04f"/>
<rect x="401" y="13.61" width="1" height="5.71" fill="#6f8a86"/>
<rect x="403.88" y="13.61" width="1" height="5.71" fill="#f28c18"/>
<rect x="411.56" y="13.61" width="1" height="5.71" fill="#1aa04f"/>
<rect x="403.88" y="19.92" width="1" height="5.71" fill="#1aa04f"/>
<rect x="423.08" y="19.92" width="1" height="5.71" fill="#1aa04f"/>
<rect x="412.52" y="19.92" width="1" height="5.71" fill="#e6a3d3"/>
<rect x="404.84" y="19.92" width="1" height="5.71" fill="#2e4562"/>
<rect x="408.68" y="26.23" width="1" height="5.71" fill="#e6a3d3"/>
<rect x="424.04" y="26.23" width="1" height="5.71" fill="#1d7048"/>
<rect x="401" y="26.23" width="1" height="5.71" fill="#ee1f7d"/>
<rect x="421.16" y="32.54" width="1" height="5.71" fill="#1aa04f"/>
<rect x="410.6" y="32.54" width="1" height="5.71" fill="#f28c18"/>
<rect x="406.76" y="32.54" width="1" height="5.71" fill="#1d7048"/>
<rect x="404.84" y="38.85" width="1" height="5.71" fill="#1d7048"/>
<rect x="408.68" y="38.85" width="1" height="5.71" fill="#2e4562"/>
<rect x="423.08" y="45.17" width="1" height="5.71" fill="#1d7048"/>
<rect x="401.96" y="51.48" width="1" height="5.71" fill="#6f8a86"/>
<rect x="416.36" y="57.79" width="1" height="5.71" fill="#1d7048"/>
<rect x="406.76" y="57.79" width="1" height="5.71" fill="#e6a3d3"/>
<rect x="406.76" y="64.1" width="1" height="5.71" fill="#6f8a86"/>
<rect x="406.76" y="70.41" width="1" height="5.71" fill="#e6a3d3"/>
<rect x="403.88" y="70.41" width="1" height="5.71" fill="#1aa04f"/>
<rect x="408.68" y="76.72" width="1" height="5.71" fill="#6f8a86"/>
<rect x="407.72" y="76.72" width="1" height="5.71" fill="#e6a3d3"/>
<rect x="424.04" y="83.03" width="1" height="5.71" fill="#1aa04f"/>
<rect x="423.08" y="83.03" width="1" height="5.71" fill="#1aa04f"/>
<rect x="413.48" y="89.34" width="1" height="5.71" fill="#e6a3d3"/>
<rect x="414.44" y="95.65" width="1" height="5.71" fill="#1aa04f"/>
<rect x="404.84" y="101.96" width="1" height="5.71" fill="#6f8a86"/>
<rect x="404.84" y="108.28" width="1" height="5.71" fill="#1aa04f"/>
<rect x="401" y="108.28" width="1" height="5.71" fill="#1aa04f"/>
<rect x="403.88" y="114.59" width="1" height="5.71" fill="#1aa04f"/>
<rect x="424.04" y="120.9" width="1" height="5.71" fill="#6f8a86"/>
<rect x="401.96" y="127.21" width="1" height="5.71" fill="#2e4562"/>
<rect x="403.88" y="133.52" width="1" height="5.71" fill="#1aa04f"/>
<rect x="422.12" y="139.83" width="1" height="5.71" fill="#1d7048"/>
<rect x="404.84" y="146.14" width="1" height="5.71" fill="#f28c18"/>
<rect x="411.56" y="152.45" width="1" height="5.71" fill="#6f8a86"/>
<rect x="411.56" y="158.76" width="1" height="5.71" fill="#e6a3d3"/>
<rect x="411.56" y="165.08" width="1" height="5.71" fill="#1d7048"/>
<rect x="411.56" y="171.39" width="1" height="5.71" fill="#e6a3d3"/>
<rect x="421.16" y="177.7" width="1" height="5.71" fill="#1aa04f"/>
<rect x="403.88" y="184.01" width="1" height="5.71" fill="#6f8a86"/>
<rect x="424.04" y="190.32" width="1" height="5.71" fill="#1d7048"/>
<rect x="406.76" y="196.63" width="1" height="5.71" fill="#1aa04f"/>
<rect x="406.76" y="202.94" width="1" height="5.71" fill="#1aa04f"/>
<rect x="424.04" y="209.25" width="1" height="5.71" fill="#1aa04f"/>
<rect x="401" y="215.56" width="1" height="5.71" fill="#2e4562"/>
<rect x="422.12" y="221.87" width="1" height="5.71" fill="#6f8a86"/>
<rect x="430.7" y="7.3" width="1" height="5.71" fill="#e6a3d3"/>
<rect x="442.4" y="7.3" width="1" height="5.71" fill="#e6a3d3"/>
<rect x="433.62" y="7.3" width="1" height="5.71" fill="#1aa04f"/>
<rect x="434.6" y="13.61" width="1" height="5.71" fill="#1aa04f"/>
<rect x="435.57" y="13.61" width="1" height="5.71" fill="#1d7048"/>
<rect x="438.5" y="13.61" width="1" height="5.71" fill="#1d7048"/>
<rect x="435.57" y="19.92" width="1" height="5.71" fill="#f28c18"/>
<rect x="437.53" y="19.92" width="1" height="5.71" fill="#6f8a86"/>
<rect x="426.8" y="19.92" width="1" height="5.71" fill="#1d7048"/>
<rect x="431.68" y="26.23" width="1" height="5.71" fill="#2e4562"/>
<rect x="433.62" y="26.23" width="1" height="5.71" fill="#1d7048"/>
<rect x="430.7" y="26.23" width="1" height="5.71" fill="#2e4562"/>
<rect x="439.48" y="32.54" width="1" height="5.71" fill="#e6a3d3"/>
<rect x="433.62" y="32.54" width="1" height="5.71" fill="#1aa04f"/>
<rect x="445.32" y="32.54" width="1" height="5.71" fill="#1d7048"/>
<rect x="434.6" y="38.85" width="1" height="5.71" fill="#1aa04f"/>
<rect x="444.35" y="38.85" width="1" height="5.71" fill="#1aa04f"/>
<rect x="435.57" y="45.17" width="1" height="5.71" fill="#2e4562"/>
<rect x="433.62" y="45.17" width="1" height="5.71" fill="#f28c18"/>
<rect x="435.57" y="51.48" width="1" height="5.71" fill="#6f8a86"/>
<rect x="433.62" y="51.48" width="1" height="5.71" fill="#f28c18"/>
<rect x="433.62" y="57.79" width="1" height="5.71" fill="#1d7048"/>
<rect x="435.57" y="64.1" width="1" height="5.71" fill="#1aa04f"/>
<rect x="433.62" y="64.1" width="1" height="5.71" fill="#e6a3d3"/>
<rect x="432.65" y="70.41" width="1" height="5.71" fill="#6f8a86"/>
<rect x="435.57" y="70.41" width="1" height="5.71" fill="#1d7048"/>
<rect x="444.35" y="76.72" width="1" height="5.71" fill="#1aa04f"/>
<rect x="445.32" y="83.03" width="1" height="5.71" fill="#6f8a86"/>
<rect x="438.5" y="89.34" width="1" height="5.71" fill="#2e4562"/>
<rect x="435.57" y="95.65" width="1" height="5.71" fill="#1aa04f"/>
<rect x="433.62" y="101.96" width="1" height="5.71" fill="#1aa04f"/>
<rect x="435.57" y="108.28" width="1" height="5.71" fill="#1aa04f"/>
<rect x="432.65" y="114.59" width="1" height="5.71" fill="#1d7048"/>
<rect x="445.32" y="120.9" width="1" height="5.71" fill="#1d7048"/>
<rect x="435.57" y="127.21" width="1" height="5.71" fill="#6f8a86"/>
<rect x="442.4" y="133.52" width="1" height="5.71" fill="#1d7048"/>
<rect x="435.57" y="139.83" width="1" height="5.71" fill="#e6a3d3"/>
<rect x="435.57" y="146.14" width="1" height="5.71" fill="#e6a3d3"/>
<rect x="428.75" y="152.45" width="1" height="5.71" fill="#1d7048"/>
<rect x="426.8" y="158.76" width="1" height="5.71" fill="#ee1f7d"/>
<rect x="433.62" y="171.39" width="1" height="5.71" fill="#1aa04f"/>
<rect x="435.57" y="177.7" width="1" height="5.71" fill="#1aa04f"/>
<rect x="438.5" y="184.01" width="1" height="5.71" fill="#2e4562"/>
<rect x="435.57" y="190.32" width="1" height="5.71" fill="#2e4562"/>
<rect x="430.7" y="196.63" width="1" height="5.71" fill="#1aa04f"/>
<rect x="430.7" y="202.94" width="1" height="5.71" fill="#1aa04f"/>
<rect x="429.73" y="221.87" width="1" height="5.71" fill="#6f8a86"/>
<rect x="449.16" y="7.3" width="1" height="5.71" fill="#1d7048"/>
<rect x="448.2" y="7.3" width="1" height="5.71" fill="#e6a3d3"/>
<rect x="461.71" y="7.3" width="1" height="5.71" fill="#1aa04f"/>
<rect x="455.92" y="7.3" width="1" height="5.71" fill="#6f8a86"/>
<rect x="448.2" y="13.61" width="1" height="5.71" fill="#1d7048"/>
<rect x="458.81" y="13.61" width="1" height="5.71" fill="#1aa04f"/>
<rect x="457.85" y="13.61" width="1" height="5.71" fill="#1d7048"/>
<rect x="455.92" y="13.61" width="1" height="5.71" fill="#ee1f7d"/>
<rect x="460.74" y="19.92" width="1" height="5.71" fill="#1aa04f"/>
<rect x="450.13" y="19.92" width="1" height="5.71" fill="#1aa04f"/>
<rect x="449.16" y="19.92" width="1" height="5.71" fill="#1aa04f"/>
<rect x="453.02" y="19.92" width="1" height="5.71" fill="#1d7048"/>
<rect x="449.16" y="26.23" width="1" height="5.71" fill="#1aa04f"/>
<rect x="456.88" y="26.23" width="1" height="5.71" fill="#1aa04f"/>
<rect x="453.02" y="26.23" width="1" height="5.71" fill="#1d7048"/>
<rect x="454.95" y="26.23" width="1" height="5.71" fill="#1d7048"/>
<rect x="453.02" y="32.54" width="1" height="5.71" fill="#1aa04f"/>
<rect x="454.95" y="32.54" width="1" height="5.71" fill="#e6a3d3"/>
<rect x="451.09" y="32.54" width="1" height="5.71" fill="#1aa04f"/>
<rect x="456.88" y="32.54" width="1" height="5.71" fill="#1d7048"/>
<rect x="451.09" y="38.85" width="1" height="5.71" fill="#2e4562"/>
<rect x="449.16" y="38.85" width="1" height="5.71" fill="#1aa04f"/>
<rect x="453.02" y="38.85" width="1" height="5.71" fill="#2e4562"/>
<rect x="460.74" y="45.17" width="1" height="5.71" fill="#1aa04f"/>
<rect x="459.78" y="45.17" width="1" height="5.71" fill="#1d7048"/>
<rect x="458.81" y="51.48" width="1" height="5.71" fill="#2e4562"/>
<rect x="451.09" y="51.48" width="1" height="5.71" fill="#1aa04f"/>
<rect x="453.99" y="57.79" width="1" height="5.71" fill="#6f8a86"/>
<rect x="450.13" y="57.79" width="1" height="5.71" fill="#e6a3d3"/>
<rect x="458.81" y="64.1" width="1" height="5.71" fill="#6f8a86"/>
<rect x="451.09" y="64.1" width="1" height="5.71" fill="#2e4562"/>
<rect x="455.92" y="70.41" width="1" height="5.71" fill="#1d7048"/>
<rect x="450.13" y="76.72" width="1" height="5.71" fill="#1aa04f"/>
<rect x="461.71" y="76.72" width="1" height="5.71" fill="#e6a3d3"/>
<rect x="455.92" y="83.03" width="1" height="5.71" fill="#f28c18"/>
<rect x="451.09" y="83.03" width="1" height="5.71" fill="#f28c18"/>
<rect x="457.85" y="89.34" width="1" height="5.71" fill="#1aa04f"/>
<rect x="454.95" y="89.34" width="1" height="5.71" fill="#1aa04f"/>
<rect x="449.16" y="95.65" width="1" height="5.71" fill="#1aa04f"/>
<rect x="451.09" y="95.65" width="1" height="5.71" fill="#1d7048"/>
<rect x="461.71" y="101.96" width="1" height="5.71" fill="#1d7048"/>
<rect x="448.2" y="101.96" width="1" height="5.71" fill="#6f8a86"/>
<rect x="450.13" y="108.28" width="1" height="5.71" fill="#ee1f7d"/>
<rect x="450.13" y="114.59" width="1" height="5.71" fill="#1aa04f"/>
<rect x="453.02" y="120.9" width="1" height="5.71" fill="#1d7048"/>
<rect x="462.67" y="127.21" width="1" height="5.71" fill="#f28c18"/>
<rect x="457.85" y="133.52" width="1" height="5.71" fill="#1aa04f"/>
<rect x="449.16" y="139.83" width="1" height="5.71" fill="#1d7048"/>
<rect x="457.85" y="146.14" width="1" height="5.71" fill="#1d7048"/>
<rect x="448.2" y="152.45" width="1" height="5.71" fill="#ee1f7d"/>
<rect x="451.09" y="158.76" width="1" height="5.71" fill="#1d7048"/>
<rect x="457.85" y="165.08" width="1" height="5.71" fill="#1aa04f"/>
<rect x="451.09" y="171.39" width="1" height="5.71" fill="#e6a3d3"/>
<rect x="458.81" y="177.7" width="1" height="5.71" fill="#1aa04f"/>
<rect x="456.88" y="184.01" width="1" height="5.71" fill="#1d7048"/>
<rect x="451.09" y="190.32" width="1" height="5.71" fill="#1d7048"/>
<rect x="455.92" y="196.63" width="1" height="5.71" fill="#e6a3d3"/>
<rect x="460.74" y="209.25" width="1" height="5.71" fill="#2e4562"/>
<rect x="459.78" y="253.43" width="1" height="5.71" fill="#e6a3d3"/>
<rect x="448.2" y="259.74" width="1" height="5.71" fill="#2e4562"/>
<rect x="451.09" y="272.36" width="1" height="5.71" fill="#1aa04f"/>
<rect x="451.09" y="278.67" width="1" height="5.71" fill="#f28c18"/>
<rect x="40" y="293.8" width="1.02" height="5.65" fill="#8c80c5"/>
<rect x="40.97" y="293.8" width="1.02" height="5.65" fill="#ee1f7d"/>
<rect x="41.95" y="293.8" width="1.02" height="5.65" fill="#2e4562"/>
<rect x="42.92" y="293.8" width="1.02" height="5.65" fill="#8c80c5"/>
<rect x="43.89" y="293.8" width="1.02" height="5.65" fill="#8c80c5"/>
<rect x="44.87" y="293.8" width="1.02" height="5.65" fill="#2e4562"/>
<rect x="45.84" y="293.8" width="1.02" height="5.65" fill="#8c80c5"/>
<rect x="46.82" y="293.8" width="1.02" height="5.65" fill="#e6a3d3"/>
<rect x="47.79" y="293.8" width="1.02" height="5.65" fill="#7a4457"/>
<rect x="48.76" y="293.8" width="1.02" height="5.65" fill="#7a4457"/>
<rect x="49.74" y="293.8" width="1.02" height="5.65" fill="#2e4562"/>
<rect x="50.71" y="293.8" width="1.02" height="5.65" fill="#ee1f7d"/>
<rect x="51.68" y="293.8" width="1.02" height="5.65" fill="#7a4457"/>
<rect x="52.66" y="293.8" width="1.02" height="5.65" fill="#2e4562"/>
<rect x="53.63" y="293.8" width="1.02" height="5.65" fill="#2e4562"/>
<rect x="54.61" y="293.8" width="1.02" height="5.65" fill="#7a4457"/>
<rect x="55.58" y="293.8" width="1.02" height="5.65" fill="#8c80c5"/>
<rect x="56.55" y="293.8" width="1.02" height="5.65" fill="#2e4562"/>
<rect x="57.53" y="293.8" width="1.02" height="5.65" fill="#8c80c5"/>
<rect x="58.5" y="293.8" width="1.02" height="5.65" fill="#8c80c5"/>
<rect x="59.47" y="293.8" width="1.02" height="5.65" fill="#e6a3d3"/>
<rect x="60.45" y="293.8" width="1.02" height="5.65" fill="#e6a3d3"/>
<rect x="61.42" y="293.8" width="1.02" height="5.65" fill="#2e4562"/>
<rect x="62.39" y="293.8" width="1.02" height="5.65" fill="#2e4562"/>
<rect x="63.37" y="293.8" width="1.02" height="5.65" fill="#ee1f7d"/>
<rect x="64.34" y="293.8" width="1.02" height="5.65" fill="#e6a3d3"/>
<rect x="65.32" y="293.8" width="1.02" height="5.65" fill="#8c80c5"/>
<rect x="66.29" y="293.8" width="1.02" height="5.65" fill="#7a4457"/>
<rect x="67.26" y="293.8" width="1.02" height="5.65" fill="#2e4562"/>
<rect x="68.24" y="293.8" width="1.02" height="5.65" fill="#e6a3d3"/>
<rect x="69.21" y="293.8" width="1.02" height="5.65" fill="#2e4562"/>
<rect x="70.18" y="293.8" width="1.02" height="5.65" fill="#f28c18"/>
<rect x="71.16" y="293.8" width="1.02" height="5.65" fill="#ee1f7d"/>
<rect x="72.13" y="293.8" width="1.02" height="5.65" fill="#2e4562"/>
<rect x="73.11" y="293.8" width="1.02" height="5.65" fill="#f28c18"/>
<rect x="74.08" y="293.8" width="1.02" height="5.65" fill="#7a4457"/>
<rect x="75.05" y="293.8" width="1.02" height="5.65" fill="#ee1f7d"/>
<rect x="76.03" y="293.8" width="1.02" height="5.65" fill="#8c80c5"/>
<rect x="77" y="293.8" width="1.02" height="5.65" fill="#f28c18"/>
<rect x="77.97" y="293.8" width="1.02" height="5.65" fill="#2e4562"/>
<rect x="78.95" y="293.8" width="1.02" height="5.65" fill="#7a4457"/>
<rect x="79.92" y="293.8" width="1.02" height="5.65" fill="#ee1f7d"/>
<rect x="80.89" y="293.8" width="1.02" height="5.65" fill="#2e4562"/>
<rect x="81.87" y="293.8" width="1.02" height="5.65" fill="#ee1f7d"/>
<rect x="82.84" y="293.8" width="1.02" height="5.65" fill="#f28c18"/>
<rect x="40" y="300.05" width="1.02" height="5.65" fill="#1d7048"/>
<rect x="40.97" y="300.05" width="1.02" height="5.65" fill="#2e4562"/>
<rect x="41.95" y="300.05" width="1.02" height="5.65" fill="#1aa04f"/>
<rect x="42.92" y="300.05" width="1.02" height="5.65" fill="#1d7048"/>
<rect x="43.89" y="300.05" width="1.02" height="5.65" fill="#1d7048"/>
<rect x="44.87" y="300.05" width="1.02" height="5.65" fill="#1d7048"/>
<rect x="45.84" y="300.05" width="1.02" height="5.65" fill="#1aa04f"/>
<rect x="46.82" y="300.05" width="1.02" height="5.65" fill="#1aa04f"/>
<rect x="47.79" y="300.05" width="1.02" height="5.65" fill="#d8342e"/>
<rect x="48.76" y="300.05" width="1.02" height="5.65" fill="#1d7048"/>
<rect x="49.74" y="300.05" width="1.02" height="5.65" fill="#1d7048"/>
<rect x="84.79" y="300.05" width="1.02" height="5.65" fill="#f28c18"/>
<rect x="85.76" y="300.05" width="1.02" height="5.65" fill="#1aa04f"/>
<rect x="86.74" y="300.05" width="1.02" height="5.65" fill="#1d7048"/>
<rect x="87.71" y="300.05" width="1.02" height="5.65" fill="#1d7048"/>
<rect x="88.68" y="300.05" width="1.02" height="5.65" fill="#f28c18"/>
<rect x="89.66" y="300.05" width="1.02" height="5.65" fill="#f28c18"/>
<rect x="90.63" y="300.05" width="1.02" height="5.65" fill="#2e4562"/>
<rect x="91.61" y="300.05" width="1.02" height="5.65" fill="#f28c18"/>
<rect x="92.58" y="300.05" width="1.02" height="5.65" fill="#2e4562"/>
<rect x="93.55" y="300.05" width="1.02" height="5.65" fill="#1d7048"/>
<rect x="94.53" y="300.05" width="1.02" height="5.65" fill="#f28c18"/>
<rect x="95.5" y="300.05" width="1.02" height="5.65" fill="#1d7048"/>
<rect x="96.47" y="300.05" width="1.02" height="5.65" fill="#1d7048"/>
<rect x="97.45" y="300.05" width="1.02" height="5.65" fill="#8c80c5"/>
<rect x="98.42" y="300.05" width="1.02" height="5.65" fill="#f28c18"/>
<rect x="99.39" y="300.05" width="1.02" height="5.65" fill="#2e4562"/>
<rect x="100.37" y="300.05" width="1.02" height="5.65" fill="#1d7048"/>
<rect x="40" y="306.3" width="1.02" height="5.65" fill="#1d7048"/>
<rect x="40.97" y="306.3" width="1.02" height="5.65" fill="#1d7048"/>
<rect x="50.71" y="306.3" width="1.02" height="5.65" fill="#1aa04f"/>
<rect x="51.68" y="306.3" width="1.02" height="5.65" fill="#1aa04f"/>
<rect x="52.66" y="306.3" width="1.02" height="5.65" fill="#1aa04f"/>
<rect x="53.63" y="306.3" width="1.02" height="5.65" fill="#1d7048"/>
<rect x="54.61" y="306.3" width="1.02" height="5.65" fill="#1aa04f"/>
<rect x="55.58" y="306.3" width="1.02" height="5.65" fill="#1d7048"/>
<rect x="56.55" y="306.3" width="1.02" height="5.65" fill="#1aa04f"/>
<rect x="57.53" y="306.3" width="1.02" height="5.65" fill="#1aa04f"/>
<rect x="58.5" y="306.3" width="1.02" height="5.65" fill="#1d7048"/>
<rect x="59.47" y="306.3" width="1.02" height="5.65" fill="#1d7048"/>
<rect x="60.45" y="306.3" width="1.02" height="5.65" fill="#1aa04f"/>
<rect x="61.42" y="306.3" width="1.02" height="5.65" fill="#1aa04f"/>
<rect x="62.39" y="306.3" width="1.02" height="5.65" fill="#1d7048"/>
<rect x="84.79" y="306.3" width="1.02" height="5.65" fill="#1d7048"/>
<rect x="85.76" y="306.3" width="1.02" height="5.65" fill="#1d7048"/>
<rect x="86.74" y="306.3" width="1.02" height="5.65" fill="#1d7048"/>
<rect x="87.71" y="306.3" width="1.02" height="5.65" fill="#1d7048"/>
<rect x="88.68" y="306.3" width="1.02" height="5.65" fill="#1d7048"/>
<rect x="89.66" y="306.3" width="1.02" height="5.65" fill="#1d7048"/>
<rect x="90.63" y="306.3" width="1.02" height="5.65" fill="#1d7048"/>
<rect x="100.37" y="306.3" width="1.02" height="5.65" fill="#1aa04f"/>
<rect x="101.34" y="306.3" width="1.02" height="5.65" fill="#1aa04f"/>
<rect x="102.32" y="306.3" width="1.02" height="5.65" fill="#1aa04f"/>
<rect x="103.29" y="306.3" width="1.02" height="5.65" fill="#1aa04f"/>
<rect x="104.26" y="306.3" width="1.02" height="5.65" fill="#1aa04f"/>
<rect x="105.24" y="306.3" width="1.02" height="5.65" fill="#1aa04f"/>
<rect x="106.21" y="306.3" width="1.02" height="5.65" fill="#1aa04f"/>
<rect x="107.18" y="306.3" width="1.02" height="5.65" fill="#1aa04f"/>
<rect x="40" y="312.55" width="1.02" height="5.65" fill="#1aa04f"/>
<rect x="40.97" y="312.55" width="1.02" height="5.65" fill="#1aa04f"/>
<rect x="49.74" y="312.55" width="1.02" height="5.65" fill="#f28c18"/>
<rect x="50.71" y="312.55" width="1.02" height="5.65" fill="#f28c18"/>
<rect x="51.68" y="312.55" width="1.02" height="5.65" fill="#ee1f7d"/>
<rect x="52.66" y="312.55" width="1.02" height="5.65" fill="#ee1f7d"/>
<rect x="63.37" y="312.55" width="1.02" height="5.65" fill="#7a3a10"/>
<rect x="64.34" y="312.55" width="1.02" height="5.65" fill="#7a3a10"/>
<rect x="65.32" y="312.55" width="1.02" height="5.65" fill="#6f8a86"/>
<rect x="66.29" y="312.55" width="1.02" height="5.65" fill="#6f8a86"/>
<rect x="67.26" y="312.55" width="1.02" height="5.65" fill="#7a3a10"/>
<rect x="84.79" y="312.55" width="1.02" height="5.65" fill="#1aa04f"/>
<rect x="85.76" y="312.55" width="1.02" height="5.65" fill="#1aa04f"/>
<rect x="91.61" y="312.55" width="1.02" height="5.65" fill="#ee1f7d"/>
<rect x="92.58" y="312.55" width="1.02" height="5.65" fill="#ee1f7d"/>
<rect x="100.37" y="312.55" width="1.02" height="5.65" fill="#1aa04f"/>
<rect x="101.34" y="312.55" width="1.02" height="5.65" fill="#1aa04f"/>
<rect x="108.16" y="312.55" width="1.02" height="5.65" fill="#1aa04f"/>
<rect x="109.13" y="312.55" width="1.02" height="5.65" fill="#1d7048"/>
<rect x="110.11" y="312.55" width="1.02" height="5.65" fill="#1aa04f"/>
<rect x="111.08" y="312.55" width="1.02" height="5.65" fill="#1d7048"/>
<rect x="112.05" y="312.55" width="1.02" height="5.65" fill="#1aa04f"/>
<rect x="113.03" y="312.55" width="1.02" height="5.65" fill="#1d7048"/>
<rect x="43.89" y="318.8" width="1.02" height="5.65" fill="#1aa04f"/>
<rect x="50.71" y="318.8" width="1.02" height="5.65" fill="#1aa04f"/>
<rect x="51.68" y="318.8" width="1.02" height="5.65" fill="#1aa04f"/>
<rect x="52.66" y="318.8" width="1.02" height="5.65" fill="#1aa04f"/>
<rect x="53.63" y="318.8" width="1.02" height="5.65" fill="#1aa04f"/>
<rect x="54.61" y="318.8" width="1.02" height="5.65" fill="#1aa04f"/>
<rect x="55.58" y="318.8" width="1.02" height="5.65" fill="#1aa04f"/>
<rect x="63.37" y="318.8" width="1.02" height="5.65" fill="#1aa04f"/>
<rect x="67.26" y="318.8" width="1.02" height="5.65" fill="#1aa04f"/>
<rect x="85.76" y="318.8" width="1.02" height="5.65" fill="#1aa04f"/>
<rect x="92.58" y="318.8" width="1.02" height="5.65" fill="#1aa04f"/>
<rect x="101.34" y="318.8" width="1.02" height="5.65" fill="#1aa04f"/>
<rect x="108.16" y="318.8" width="1.02" height="5.65" fill="#1aa04f"/>
<rect x="114" y="318.8" width="1.02" height="5.65" fill="#1aa04f"/>
<rect x="114.97" y="318.8" width="1.02" height="5.65" fill="#1aa04f"/>
<rect x="115.95" y="318.8" width="1.02" height="5.65" fill="#1aa04f"/>
<rect x="116.92" y="318.8" width="1.02" height="5.65" fill="#1aa04f"/>
<rect x="117.89" y="318.8" width="1.02" height="5.65" fill="#1aa04f"/>
<rect x="41.95" y="325.05" width="1.02" height="5.65" fill="#1aa04f"/>
<rect x="42.92" y="325.05" width="1.02" height="5.65" fill="#1aa04f"/>
<rect x="51.68" y="325.05" width="1.02" height="5.65" fill="#1aa04f"/>
<rect x="85.76" y="325.05" width="1.02" height="5.65" fill="#1aa04f"/>
<rect x="92.58" y="325.05" width="1.02" height="5.65" fill="#1aa04f"/>
<rect x="119.84" y="325.05" width="1.02" height="5.65" fill="#1aa04f"/>
<rect x="124.71" y="325.05" width="1.02" height="5.65" fill="#1aa04f"/>
<rect x="51.68" y="331.3" width="1.02" height="5.65" fill="#1aa04f"/>
<rect x="163.66" y="331.3" width="1.02" height="5.65" fill="#1aa04f"/>
<rect x="172.42" y="331.3" width="1.02" height="5.65" fill="#7a3a10"/>
<rect x="42.92" y="337.55" width="1.02" height="5.65" fill="#1aa04f"/>
<rect x="88.68" y="337.55" width="1.02" height="5.65" fill="#6f8a86"/>
<rect x="40.97" y="343.8" width="1.02" height="5.65" fill="#f28c18"/>
<rect x="75.05" y="343.8" width="1.02" height="5.65" fill="#6f8a86"/>
<rect x="196.76" y="343.8" width="1.02" height="5.65" fill="#6f8a86"/>
<rect x="64.34" y="350.05" width="1.02" height="5.65" fill="#ee1f7d"/>
<rect x="40.97" y="356.3" width="1.02" height="5.65" fill="#e6a3d3"/>
<rect x="227" y="293.8" width="0.99" height="5.65" fill="#7a4457"/>
<rect x="227.94" y="293.8" width="0.99" height="5.65" fill="#e6a3d3"/>
<rect x="228.88" y="293.8" width="0.99" height="5.65" fill="#e6a3d3"/>
<rect x="229.81" y="293.8" width="0.99" height="5.65" fill="#e6a3d3"/>
<rect x="230.75" y="293.8" width="0.99" height="5.65" fill="#ee1f7d"/>
<rect x="231.69" y="293.8" width="0.99" height="5.65" fill="#ee1f7d"/>
<rect x="232.62" y="293.8" width="0.99" height="5.65" fill="#8c80c5"/>
<rect x="233.56" y="293.8" width="0.99" height="5.65" fill="#7a4457"/>
<rect x="234.5" y="293.8" width="0.99" height="5.65" fill="#ee1f7d"/>
<rect x="235.44" y="293.8" width="0.99" height="5.65" fill="#ee1f7d"/>
<rect x="236.38" y="293.8" width="0.99" height="5.65" fill="#2e4562"/>
<rect x="237.31" y="293.8" width="0.99" height="5.65" fill="#e6a3d3"/>
<rect x="238.25" y="293.8" width="0.99" height="5.65" fill="#2e4562"/>
<rect x="239.19" y="293.8" width="0.99" height="5.65" fill="#ee1f7d"/>
<rect x="240.12" y="293.8" width="0.99" height="5.65" fill="#ee1f7d"/>
<rect x="241.06" y="293.8" width="0.99" height="5.65" fill="#2e4562"/>
<rect x="242" y="293.8" width="0.99" height="5.65" fill="#2e4562"/>
<rect x="242.94" y="293.8" width="0.99" height="5.65" fill="#7a4457"/>
<rect x="243.88" y="293.8" width="0.99" height="5.65" fill="#7a4457"/>
<rect x="244.81" y="293.8" width="0.99" height="5.65" fill="#8c80c5"/>
<rect x="245.75" y="293.8" width="0.99" height="5.65" fill="#7a4457"/>
<rect x="246.69" y="293.8" width="0.99" height="5.65" fill="#ee1f7d"/>
<rect x="247.62" y="293.8" width="0.99" height="5.65" fill="#ee1f7d"/>
<rect x="248.56" y="293.8" width="0.99" height="5.65" fill="#e6a3d3"/>
<rect x="249.5" y="293.8" width="0.99" height="5.65" fill="#f28c18"/>
<rect x="250.44" y="293.8" width="0.99" height="5.65" fill="#2e4562"/>
<rect x="251.38" y="293.8" width="0.99" height="5.65" fill="#2e4562"/>
<rect x="252.31" y="293.8" width="0.99" height="5.65" fill="#ee1f7d"/>
<rect x="253.25" y="293.8" width="0.99" height="5.65" fill="#7a4457"/>
<rect x="254.19" y="293.8" width="0.99" height="5.65" fill="#ee1f7d"/>
<rect x="255.12" y="293.8" width="0.99" height="5.65" fill="#e6a3d3"/>
<rect x="256.06" y="293.8" width="0.99" height="5.65" fill="#ee1f7d"/>
<rect x="257" y="293.8" width="0.99" height="5.65" fill="#2e4562"/>
<rect x="257.94" y="293.8" width="0.99" height="5.65" fill="#8c80c5"/>
<rect x="258.88" y="293.8" width="0.99" height="5.65" fill="#2e4562"/>
<rect x="259.81" y="293.8" width="0.99" height="5.65" fill="#7a4457"/>
<rect x="260.75" y="293.8" width="0.99" height="5.65" fill="#ee1f7d"/>
<rect x="261.69" y="293.8" width="0.99" height="5.65" fill="#2e4562"/>
<rect x="262.62" y="293.8" width="0.99" height="5.65" fill="#ee1f7d"/>
<rect x="263.56" y="293.8" width="0.99" height="5.65" fill="#e6a3d3"/>
<rect x="264.5" y="293.8" width="0.99" height="5.65" fill="#ee1f7d"/>
<rect x="265.44" y="293.8" width="0.99" height="5.65" fill="#8c80c5"/>
<rect x="266.38" y="293.8" width="0.99" height="5.65" fill="#ee1f7d"/>
<rect x="267.31" y="293.8" width="0.99" height="5.65" fill="#2e4562"/>
<rect x="268.25" y="293.8" width="0.99" height="5.65" fill="#7a4457"/>
<rect x="269.19" y="293.8" width="0.99" height="5.65" fill="#ee1f7d"/>
<rect x="270.12" y="293.8" width="0.99" height="5.65" fill="#2e4562"/>
<rect x="271.06" y="293.8" width="0.99" height="5.65" fill="#f28c18"/>
<rect x="272" y="293.8" width="0.99" height="5.65" fill="#e6a3d3"/>
<rect x="272.94" y="293.8" width="0.99" height="5.65" fill="#e6a3d3"/>
<rect x="273.88" y="293.8" width="0.99" height="5.65" fill="#7a4457"/>
<rect x="274.81" y="293.8" width="0.99" height="5.65" fill="#e6a3d3"/>
<rect x="275.75" y="293.8" width="0.99" height="5.65" fill="#7a4457"/>
<rect x="276.69" y="293.8" width="0.99" height="5.65" fill="#2e4562"/>
<rect x="277.62" y="293.8" width="0.99" height="5.65" fill="#ee1f7d"/>
<rect x="278.56" y="293.8" width="0.99" height="5.65" fill="#2e4562"/>
<rect x="279.5" y="293.8" width="0.99" height="5.65" fill="#7a4457"/>
<rect x="280.44" y="293.8" width="0.99" height="5.65" fill="#2e4562"/>
<rect x="281.38" y="293.8" width="0.99" height="5.65" fill="#2e4562"/>
<rect x="282.31" y="293.8" width="0.99" height="5.65" fill="#2e4562"/>
<rect x="283.25" y="293.8" width="0.99" height="5.65" fill="#2e4562"/>
<rect x="284.19" y="293.8" width="0.99" height="5.65" fill="#e6a3d3"/>
<rect x="285.12" y="293.8" width="0.99" height="5.65" fill="#ee1f7d"/>
<rect x="286.06" y="293.8" width="0.99" height="5.65" fill="#2e4562"/>
<rect x="287" y="293.8" width="0.99" height="5.65" fill="#e6a3d3"/>
<rect x="287.94" y="293.8" width="0.99" height="5.65" fill="#e6a3d3"/>
<rect x="288.88" y="293.8" width="0.99" height="5.65" fill="#ee1f7d"/>
<rect x="289.81" y="293.8" width="0.99" height="5.65" fill="#f28c18"/>
<rect x="290.75" y="293.8" width="0.99" height="5.65" fill="#f28c18"/>
<rect x="291.69" y="293.8" width="0.99" height="5.65" fill="#ee1f7d"/>
<rect x="292.62" y="293.8" width="0.99" height="5.65" fill="#8c80c5"/>
<rect x="293.56" y="293.8" width="0.99" height="5.65" fill="#e6a3d3"/>
<rect x="294.5" y="293.8" width="0.99" height="5.65" fill="#7a4457"/>
<rect x="295.44" y="293.8" width="0.99" height="5.65" fill="#e6a3d3"/>
<rect x="296.38" y="293.8" width="0.99" height="5.65" fill="#e6a3d3"/>
<rect x="297.31" y="293.8" width="0.99" height="5.65" fill="#7a4457"/>
<rect x="298.25" y="293.8" width="0.99" height="5.65" fill="#e6a3d3"/>
<rect x="299.19" y="293.8" width="0.99" height="5.65" fill="#e6a3d3"/>
<rect x="300.12" y="293.8" width="0.99" height="5.65" fill="#2e4562"/>
<rect x="301.06" y="293.8" width="0.99" height="5.65" fill="#7a4457"/>
<rect x="302" y="293.8" width="0.99" height="5.65" fill="#2e4562"/>
<rect x="302.94" y="293.8" width="0.99" height="5.65" fill="#e6a3d3"/>
<rect x="303.88" y="293.8" width="0.99" height="5.65" fill="#e6a3d3"/>
<rect x="304.81" y="293.8" width="0.99" height="5.65" fill="#ee1f7d"/>
<rect x="305.75" y="293.8" width="0.99" height="5.65" fill="#7a4457"/>
<rect x="306.69" y="293.8" width="0.99" height="5.65" fill="#7a4457"/>
<rect x="307.62" y="293.8" width="0.99" height="5.65" fill="#2e4562"/>
<rect x="308.56" y="293.8" width="0.99" height="5.65" fill="#e6a3d3"/>
<rect x="309.5" y="293.8" width="0.99" height="5.65" fill="#ee1f7d"/>
<rect x="310.44" y="293.8" width="0.99" height="5.65" fill="#7a4457"/>
<rect x="311.38" y="293.8" width="0.99" height="5.65" fill="#7a4457"/>
<rect x="312.31" y="293.8" width="0.99" height="5.65" fill="#e6a3d3"/>
<rect x="313.25" y="293.8" width="0.99" height="5.65" fill="#8c80c5"/>
<rect x="314.19" y="293.8" width="0.99" height="5.65" fill="#2e4562"/>
<rect x="315.12" y="293.8" width="0.99" height="5.65" fill="#8c80c5"/>
<rect x="316.06" y="293.8" width="0.99" height="5.65" fill="#ee1f7d"/>
<rect x="317" y="293.8" width="0.99" height="5.65" fill="#ee1f7d"/>
<rect x="317.94" y="293.8" width="0.99" height="5.65" fill="#e6a3d3"/>
<rect x="318.88" y="293.8" width="0.99" height="5.65" fill="#e6a3d3"/>
<rect x="319.81" y="293.8" width="0.99" height="5.65" fill="#7a4457"/>
<rect x="320.75" y="293.8" width="0.99" height="5.65" fill="#2e4562"/>
<rect x="321.69" y="293.8" width="0.99" height="5.65" fill="#e6a3d3"/>
<rect x="322.62" y="293.8" width="0.99" height="5.65" fill="#2e4562"/>
<rect x="323.56" y="293.8" width="0.99" height="5.65" fill="#7a4457"/>
<rect x="324.5" y="293.8" width="0.99" height="5.65" fill="#2e4562"/>
<rect x="325.44" y="293.8" width="0.99" height="5.65" fill="#7a4457"/>
<rect x="326.38" y="293.8" width="0.99" height="5.65" fill="#e6a3d3"/>
<rect x="327.31" y="293.8" width="0.99" height="5.65" fill="#2e4562"/>
<rect x="328.25" y="293.8" width="0.99" height="5.65" fill="#2e4562"/>
<rect x="329.19" y="293.8" width="0.99" height="5.65" fill="#7a4457"/>
<rect x="330.12" y="293.8" width="0.99" height="5.65" fill="#ee1f7d"/>
<rect x="331.06" y="293.8" width="0.99" height="5.65" fill="#7a4457"/>
<rect x="332" y="293.8" width="0.99" height="5.65" fill="#ee1f7d"/>
<rect x="332.94" y="293.8" width="0.99" height="5.65" fill="#7a4457"/>
<rect x="333.88" y="293.8" width="0.99" height="5.65" fill="#2e4562"/>
<rect x="334.81" y="293.8" width="0.99" height="5.65" fill="#8c80c5"/>
<rect x="335.75" y="293.8" width="0.99" height="5.65" fill="#ee1f7d"/>
<rect x="336.69" y="293.8" width="0.99" height="5.65" fill="#7a4457"/>
<rect x="337.62" y="293.8" width="0.99" height="5.65" fill="#7a4457"/>
<rect x="338.56" y="293.8" width="0.99" height="5.65" fill="#e6a3d3"/>
<rect x="227" y="300.05" width="0.99" height="5.65" fill="#1aa04f"/>
<rect x="227.94" y="300.05" width="0.99" height="5.65" fill="#1aa04f"/>
<rect x="228.88" y="300.05" width="0.99" height="5.65" fill="#2e4562"/>
<rect x="229.81" y="300.05" width="0.99" height="5.65" fill="#7a4457"/>
<rect x="230.75" y="300.05" width="0.99" height="5.65" fill="#1aa04f"/>
<rect x="231.69" y="300.05" width="0.99" height="5.65" fill="#ee1f7d"/>
<rect x="232.62" y="300.05" width="0.99" height="5.65" fill="#1d7048"/>
<rect x="233.56" y="300.05" width="0.99" height="5.65" fill="#1aa04f"/>
<rect x="234.5" y="300.05" width="0.99" height="5.65" fill="#2e4562"/>
<rect x="235.44" y="300.05" width="0.99" height="5.65" fill="#1d7048"/>
<rect x="236.38" y="300.05" width="0.99" height="5.65" fill="#1aa04f"/>
<rect x="237.31" y="300.05" width="0.99" height="5.65" fill="#2e4562"/>
<rect x="238.25" y="300.05" width="0.99" height="5.65" fill="#2e4562"/>
<rect x="239.19" y="300.05" width="0.99" height="5.65" fill="#ee1f7d"/>
<rect x="240.12" y="300.05" width="0.99" height="5.65" fill="#1aa04f"/>
<rect x="241.06" y="300.05" width="0.99" height="5.65" fill="#ee1f7d"/>
<rect x="242" y="300.05" width="0.99" height="5.65" fill="#2e4562"/>
<rect x="242.94" y="300.05" width="0.99" height="5.65" fill="#2e4562"/>
<rect x="243.88" y="300.05" width="0.99" height="5.65" fill="#2e4562"/>
<rect x="244.81" y="300.05" width="0.99" height="5.65" fill="#1aa04f"/>
<rect x="245.75" y="300.05" width="0.99" height="5.65" fill="#1d7048"/>
<rect x="246.69" y="300.05" width="0.99" height="5.65" fill="#7a4457"/>
<rect x="247.62" y="300.05" width="0.99" height="5.65" fill="#1aa04f"/>
<rect x="248.56" y="300.05" width="0.99" height="5.65" fill="#f28c18"/>
<rect x="249.5" y="300.05" width="0.99" height="5.65" fill="#1d7048"/>
<rect x="250.44" y="300.05" width="0.99" height="5.65" fill="#1aa04f"/>
<rect x="251.38" y="300.05" width="0.99" height="5.65" fill="#2e4562"/>
<rect x="252.31" y="300.05" width="0.99" height="5.65" fill="#2e4562"/>
<rect x="253.25" y="300.05" width="0.99" height="5.65" fill="#2e4562"/>
<rect x="254.19" y="300.05" width="0.99" height="5.65" fill="#ee1f7d"/>
<rect x="255.12" y="300.05" width="0.99" height="5.65" fill="#f28c18"/>
<rect x="256.06" y="300.05" width="0.99" height="5.65" fill="#1aa04f"/>
<rect x="257" y="300.05" width="0.99" height="5.65" fill="#7a4457"/>
<rect x="257.94" y="300.05" width="0.99" height="5.65" fill="#ee1f7d"/>
<rect x="258.88" y="300.05" width="0.99" height="5.65" fill="#2e4562"/>
<rect x="259.81" y="300.05" width="0.99" height="5.65" fill="#1aa04f"/>
<rect x="260.75" y="300.05" width="0.99" height="5.65" fill="#1d7048"/>
<rect x="261.69" y="300.05" width="0.99" height="5.65" fill="#7a4457"/>
<rect x="262.62" y="300.05" width="0.99" height="5.65" fill="#1d7048"/>
<rect x="263.56" y="300.05" width="0.99" height="5.65" fill="#2e4562"/>
<rect x="264.5" y="300.05" width="0.99" height="5.65" fill="#1aa04f"/>
<rect x="265.44" y="300.05" width="0.99" height="5.65" fill="#1aa04f"/>
<rect x="266.38" y="300.05" width="0.99" height="5.65" fill="#2e4562"/>
<rect x="267.31" y="300.05" width="0.99" height="5.65" fill="#1d7048"/>
<rect x="268.25" y="300.05" width="0.99" height="5.65" fill="#f28c18"/>
<rect x="269.19" y="300.05" width="0.99" height="5.65" fill="#1aa04f"/>
<rect x="270.12" y="300.05" width="0.99" height="5.65" fill="#1aa04f"/>
<rect x="271.06" y="300.05" width="0.99" height="5.65" fill="#1d7048"/>
<rect x="272" y="300.05" width="0.99" height="5.65" fill="#f28c18"/>
<rect x="272.94" y="300.05" width="0.99" height="5.65" fill="#2e4562"/>
<rect x="273.88" y="300.05" width="0.99" height="5.65" fill="#1aa04f"/>
<rect x="274.81" y="300.05" width="0.99" height="5.65" fill="#1d7048"/>
<rect x="275.75" y="300.05" width="0.99" height="5.65" fill="#1aa04f"/>
<rect x="276.69" y="300.05" width="0.99" height="5.65" fill="#1aa04f"/>
<rect x="277.62" y="300.05" width="0.99" height="5.65" fill="#1d7048"/>
<rect x="278.56" y="300.05" width="0.99" height="5.65" fill="#1aa04f"/>
<rect x="279.5" y="300.05" width="0.99" height="5.65" fill="#1aa04f"/>
<rect x="280.44" y="300.05" width="0.99" height="5.65" fill="#ee1f7d"/>
<rect x="281.38" y="300.05" width="0.99" height="5.65" fill="#2e4562"/>
<rect x="282.31" y="300.05" width="0.99" height="5.65" fill="#1aa04f"/>
<rect x="283.25" y="300.05" width="0.99" height="5.65" fill="#1d7048"/>
<rect x="284.19" y="300.05" width="0.99" height="5.65" fill="#1aa04f"/>
<rect x="285.12" y="300.05" width="0.99" height="5.65" fill="#1aa04f"/>
<rect x="286.06" y="300.05" width="0.99" height="5.65" fill="#ee1f7d"/>
<rect x="287" y="300.05" width="0.99" height="5.65" fill="#1aa04f"/>
<rect x="287.94" y="300.05" width="0.99" height="5.65" fill="#1d7048"/>
<rect x="288.88" y="300.05" width="0.99" height="5.65" fill="#1aa04f"/>
<rect x="289.81" y="300.05" width="0.99" height="5.65" fill="#2e4562"/>
<rect x="290.75" y="300.05" width="0.99" height="5.65" fill="#1aa04f"/>
<rect x="291.69" y="300.05" width="0.99" height="5.65" fill="#2e4562"/>
<rect x="292.62" y="300.05" width="0.99" height="5.65" fill="#1aa04f"/>
<rect x="293.56" y="300.05" width="0.99" height="5.65" fill="#ee1f7d"/>
<rect x="294.5" y="300.05" width="0.99" height="5.65" fill="#1d7048"/>
<rect x="295.44" y="300.05" width="0.99" height="5.65" fill="#1aa04f"/>
<rect x="296.38" y="300.05" width="0.99" height="5.65" fill="#1d7048"/>
<rect x="297.31" y="300.05" width="0.99" height="5.65" fill="#ee1f7d"/>
<rect x="298.25" y="300.05" width="0.99" height="5.65" fill="#1d7048"/>
<rect x="299.19" y="300.05" width="0.99" height="5.65" fill="#f28c18"/>
<rect x="341.38" y="300.05" width="0.99" height="5.65" fill="#1aa04f"/>
<rect x="342.31" y="300.05" width="0.99" height="5.65" fill="#1d7048"/>
<rect x="343.25" y="300.05" width="0.99" height="5.65" fill="#1aa04f"/>
<rect x="344.19" y="300.05" width="0.99" height="5.65" fill="#1d7048"/>
<rect x="345.12" y="300.05" width="0.99" height="5.65" fill="#1d7048"/>
<rect x="346.06" y="300.05" width="0.99" height="5.65" fill="#ee1f7d"/>
<rect x="347" y="300.05" width="0.99" height="5.65" fill="#ee1f7d"/>
<rect x="347.94" y="300.05" width="0.99" height="5.65" fill="#1d7048"/>
<rect x="348.88" y="300.05" width="0.99" height="5.65" fill="#7a4457"/>
<rect x="349.81" y="300.05" width="0.99" height="5.65" fill="#1aa04f"/>
<rect x="350.75" y="300.05" width="0.99" height="5.65" fill="#1d7048"/>
<rect x="351.69" y="300.05" width="0.99" height="5.65" fill="#1aa04f"/>
<rect x="352.62" y="300.05" width="0.99" height="5.65" fill="#1d7048"/>
<rect x="353.56" y="300.05" width="0.99" height="5.65" fill="#ee1f7d"/>
<rect x="354.5" y="300.05" width="0.99" height="5.65" fill="#1d7048"/>
<rect x="355.44" y="300.05" width="0.99" height="5.65" fill="#1aa04f"/>
<rect x="356.38" y="300.05" width="0.99" height="5.65" fill="#1aa04f"/>
<rect x="357.31" y="300.05" width="0.99" height="5.65" fill="#1d7048"/>
<rect x="358.25" y="300.05" width="0.99" height="5.65" fill="#1d7048"/>
<rect x="359.19" y="300.05" width="0.99" height="5.65" fill="#1d7048"/>
<rect x="360.12" y="300.05" width="0.99" height="5.65" fill="#1d7048"/>
<rect x="361.06" y="300.05" width="0.99" height="5.65" fill="#7a4457"/>
<rect x="362" y="300.05" width="0.99" height="5.65" fill="#1aa04f"/>
<rect x="362.94" y="300.05" width="0.99" height="5.65" fill="#7a4457"/>
<rect x="363.88" y="300.05" width="0.99" height="5.65" fill="#1aa04f"/>
<rect x="364.81" y="300.05" width="0.99" height="5.65" fill="#1aa04f"/>
<rect x="365.75" y="300.05" width="0.99" height="5.65" fill="#7a4457"/>
<rect x="366.69" y="300.05" width="0.99" height="5.65" fill="#1aa04f"/>
<rect x="367.62" y="300.05" width="0.99" height="5.65" fill="#1aa04f"/>
<rect x="368.56" y="300.05" width="0.99" height="5.65" fill="#1d7048"/>
<rect x="369.5" y="300.05" width="0.99" height="5.65" fill="#1aa04f"/>
<rect x="370.44" y="300.05" width="0.99" height="5.65" fill="#1aa04f"/>
<rect x="371.38" y="300.05" width="0.99" height="5.65" fill="#ee1f7d"/>
<rect x="372.31" y="300.05" width="0.99" height="5.65" fill="#1d7048"/>
<rect x="373.25" y="300.05" width="0.99" height="5.65" fill="#2e4562"/>
<rect x="374.19" y="300.05" width="0.99" height="5.65" fill="#1aa04f"/>
<rect x="375.12" y="300.05" width="0.99" height="5.65" fill="#1d7048"/>
<rect x="227" y="306.3" width="0.99" height="5.65" fill="#1aa04f"/>
<rect x="227.94" y="306.3" width="0.99" height="5.65" fill="#1aa04f"/>
<rect x="228.88" y="306.3" width="0.99" height="5.65" fill="#1d7048"/>
<rect x="229.81" y="306.3" width="0.99" height="5.65" fill="#1d7048"/>
<rect x="230.75" y="306.3" width="0.99" height="5.65" fill="#1aa04f"/>
<rect x="231.69" y="306.3" width="0.99" height="5.65" fill="#1aa04f"/>
<rect x="232.62" y="306.3" width="0.99" height="5.65" fill="#1d7048"/>
<rect x="233.56" y="306.3" width="0.99" height="5.65" fill="#1aa04f"/>
<rect x="234.5" y="306.3" width="0.99" height="5.65" fill="#1d7048"/>
<rect x="235.44" y="306.3" width="0.99" height="5.65" fill="#1aa04f"/>
<rect x="236.38" y="306.3" width="0.99" height="5.65" fill="#1d7048"/>
<rect x="237.31" y="306.3" width="0.99" height="5.65" fill="#1aa04f"/>
<rect x="238.25" y="306.3" width="0.99" height="5.65" fill="#1aa04f"/>
<rect x="239.19" y="306.3" width="0.99" height="5.65" fill="#1aa04f"/>
<rect x="240.12" y="306.3" width="0.99" height="5.65" fill="#1aa04f"/>
<rect x="241.06" y="306.3" width="0.99" height="5.65" fill="#1aa04f"/>
<rect x="242" y="306.3" width="0.99" height="5.65" fill="#1aa04f"/>
<rect x="242.94" y="306.3" width="0.99" height="5.65" fill="#1aa04f"/>
<rect x="243.88" y="306.3" width="0.99" height="5.65" fill="#1aa04f"/>
<rect x="244.81" y="306.3" width="0.99" height="5.65" fill="#1d7048"/>
<rect x="245.75" y="306.3" width="0.99" height="5.65" fill="#1d7048"/>
<rect x="246.69" y="306.3" width="0.99" height="5.65" fill="#1aa04f"/>
<rect x="247.62" y="306.3" width="0.99" height="5.65" fill="#1aa04f"/>
<rect x="248.56" y="306.3" width="0.99" height="5.65" fill="#1d7048"/>
<rect x="249.5" y="306.3" width="0.99" height="5.65" fill="#1d7048"/>
<rect x="250.44" y="306.3" width="0.99" height="5.65" fill="#1aa04f"/>
<rect x="251.38" y="306.3" width="0.99" height="5.65" fill="#1aa04f"/>
<rect x="252.31" y="306.3" width="0.99" height="5.65" fill="#1aa04f"/>
<rect x="253.25" y="306.3" width="0.99" height="5.65" fill="#1aa04f"/>
<rect x="254.19" y="306.3" width="0.99" height="5.65" fill="#1d7048"/>
<rect x="255.12" y="306.3" width="0.99" height="5.65" fill="#1d7048"/>
<rect x="256.06" y="306.3" width="0.99" height="5.65" fill="#1aa04f"/>
<rect x="257" y="306.3" width="0.99" height="5.65" fill="#1aa04f"/>
<rect x="301.06" y="306.3" width="0.99" height="5.65" fill="#1d7048"/>
<rect x="302" y="306.3" width="0.99" height="5.65" fill="#1d7048"/>
<rect x="302.94" y="306.3" width="0.99" height="5.65" fill="#2e4562"/>
<rect x="303.88" y="306.3" width="0.99" height="5.65" fill="#2e4562"/>
<rect x="304.81" y="306.3" width="0.99" height="5.65" fill="#1d7048"/>
<rect x="305.75" y="306.3" width="0.99" height="5.65" fill="#1d7048"/>
<rect x="306.69" y="306.3" width="0.99" height="5.65" fill="#1d7048"/>
<rect x="307.62" y="306.3" width="0.99" height="5.65" fill="#1d7048"/>
<rect x="308.56" y="306.3" width="0.99" height="5.65" fill="#2e4562"/>
<rect x="309.5" y="306.3" width="0.99" height="5.65" fill="#1d7048"/>
<rect x="310.44" y="306.3" width="0.99" height="5.65" fill="#1d7048"/>
<rect x="311.38" y="306.3" width="0.99" height="5.65" fill="#2e4562"/>
<rect x="312.31" y="306.3" width="0.99" height="5.65" fill="#1d7048"/>
<rect x="313.25" y="306.3" width="0.99" height="5.65" fill="#1d7048"/>
<rect x="314.19" y="306.3" width="0.99" height="5.65" fill="#1d7048"/>
<rect x="315.12" y="306.3" width="0.99" height="5.65" fill="#1d7048"/>
<rect x="316.06" y="306.3" width="0.99" height="5.65" fill="#1d7048"/>
<rect x="317" y="306.3" width="0.99" height="5.65" fill="#1d7048"/>
<rect x="317.94" y="306.3" width="0.99" height="5.65" fill="#2e4562"/>
<rect x="318.88" y="306.3" width="0.99" height="5.65" fill="#1d7048"/>
<rect x="319.81" y="306.3" width="0.99" height="5.65" fill="#1d7048"/>
<rect x="320.75" y="306.3" width="0.99" height="5.65" fill="#1d7048"/>
<rect x="321.69" y="306.3" width="0.99" height="5.65" fill="#1d7048"/>
<rect x="322.62" y="306.3" width="0.99" height="5.65" fill="#1d7048"/>
<rect x="341.38" y="306.3" width="0.99" height="5.65" fill="#1aa04f"/>
<rect x="342.31" y="306.3" width="0.99" height="5.65" fill="#1aa04f"/>
<rect x="343.25" y="306.3" width="0.99" height="5.65" fill="#1aa04f"/>
<rect x="344.19" y="306.3" width="0.99" height="5.65" fill="#1aa04f"/>
<rect x="345.12" y="306.3" width="0.99" height="5.65" fill="#1aa04f"/>
<rect x="376.06" y="306.3" width="0.99" height="5.65" fill="#1d7048"/>
<rect x="377" y="306.3" width="0.99" height="5.65" fill="#1d7048"/>
<rect x="377.94" y="306.3" width="0.99" height="5.65" fill="#1d7048"/>
<rect x="378.88" y="306.3" width="0.99" height="5.65" fill="#1d7048"/>
<rect x="227" y="312.55" width="0.99" height="5.65" fill="#f28c18"/>
<rect x="227.94" y="312.55" width="0.99" height="5.65" fill="#f28c18"/>
<rect x="228.88" y="312.55" width="0.99" height="5.65" fill="#f28c18"/>
<rect x="229.81" y="312.55" width="0.99" height="5.65" fill="#1aa04f"/>
<rect x="230.75" y="312.55" width="0.99" height="5.65" fill="#1aa04f"/>
<rect x="231.69" y="312.55" width="0.99" height="5.65" fill="#f28c18"/>
<rect x="232.62" y="312.55" width="0.99" height="5.65" fill="#f28c18"/>
<rect x="258.88" y="312.55" width="0.99" height="5.65" fill="#2e4562"/>
<rect x="259.81" y="312.55" width="0.99" height="5.65" fill="#2e4562"/>
<rect x="260.75" y="312.55" width="0.99" height="5.65" fill="#1aa04f"/>
<rect x="261.69" y="312.55" width="0.99" height="5.65" fill="#1aa04f"/>
<rect x="262.62" y="312.55" width="0.99" height="5.65" fill="#ee1f7d"/>
<rect x="263.56" y="312.55" width="0.99" height="5.65" fill="#2e4562"/>
<rect x="264.5" y="312.55" width="0.99" height="5.65" fill="#2e4562"/>
<rect x="265.44" y="312.55" width="0.99" height="5.65" fill="#2e4562"/>
<rect x="266.38" y="312.55" width="0.99" height="5.65" fill="#1aa04f"/>
<rect x="267.31" y="312.55" width="0.99" height="5.65" fill="#2e4562"/>
<rect x="268.25" y="312.55" width="0.99" height="5.65" fill="#1d7048"/>
<rect x="269.19" y="312.55" width="0.99" height="5.65" fill="#2e4562"/>
<rect x="301.06" y="312.55" width="0.99" height="5.65" fill="#f28c18"/>
<rect x="302" y="312.55" width="0.99" height="5.65" fill="#2e4562"/>
<rect x="302.94" y="312.55" width="0.99" height="5.65" fill="#1aa04f"/>
<rect x="303.88" y="312.55" width="0.99" height="5.65" fill="#2e4562"/>
<rect x="304.81" y="312.55" width="0.99" height="5.65" fill="#1aa04f"/>
<rect x="305.75" y="312.55" width="0.99" height="5.65" fill="#1aa04f"/>
<rect x="306.69" y="312.55" width="0.99" height="5.65" fill="#2e4562"/>
<rect x="307.62" y="312.55" width="0.99" height="5.65" fill="#1aa04f"/>
<rect x="308.56" y="312.55" width="0.99" height="5.65" fill="#f28c18"/>
<rect x="309.5" y="312.55" width="0.99" height="5.65" fill="#f28c18"/>
<rect x="324.5" y="312.55" width="0.99" height="5.65" fill="#f28c18"/>
<rect x="325.44" y="312.55" width="0.99" height="5.65" fill="#1aa04f"/>
<rect x="326.38" y="312.55" width="0.99" height="5.65" fill="#1aa04f"/>
<rect x="327.31" y="312.55" width="0.99" height="5.65" fill="#1aa04f"/>
<rect x="328.25" y="312.55" width="0.99" height="5.65" fill="#1aa04f"/>
<rect x="329.19" y="312.55" width="0.99" height="5.65" fill="#7a3a10"/>
<rect x="330.12" y="312.55" width="0.99" height="5.65" fill="#f28c18"/>
<rect x="331.06" y="312.55" width="0.99" height="5.65" fill="#f28c18"/>
<rect x="341.38" y="312.55" width="0.99" height="5.65" fill="#2e4562"/>
<rect x="342.31" y="312.55" width="0.99" height="5.65" fill="#2e4562"/>
<rect x="343.25" y="312.55" width="0.99" height="5.65" fill="#1d7048"/>
<rect x="344.19" y="312.55" width="0.99" height="5.65" fill="#7a3a10"/>
<rect x="345.12" y="312.55" width="0.99" height="5.65" fill="#1aa04f"/>
<rect x="346.06" y="312.55" width="0.99" height="5.65" fill="#1d7048"/>
<rect x="347" y="312.55" width="0.99" height="5.65" fill="#f28c18"/>
<rect x="347.94" y="312.55" width="0.99" height="5.65" fill="#1aa04f"/>
<rect x="348.88" y="312.55" width="0.99" height="5.65" fill="#7a3a10"/>
<rect x="349.81" y="312.55" width="0.99" height="5.65" fill="#7a3a10"/>
<rect x="350.75" y="312.55" width="0.99" height="5.65" fill="#7a3a10"/>
<rect x="351.69" y="312.55" width="0.99" height="5.65" fill="#1d7048"/>
<rect x="352.62" y="312.55" width="0.99" height="5.65" fill="#1d7048"/>
<rect x="353.56" y="312.55" width="0.99" height="5.65" fill="#7a3a10"/>
<rect x="354.5" y="312.55" width="0.99" height="5.65" fill="#f28c18"/>
<rect x="355.44" y="312.55" width="0.99" height="5.65" fill="#1aa04f"/>
<rect x="376.06" y="312.55" width="0.99" height="5.65" fill="#ee1f7d"/>
<rect x="377" y="312.55" width="0.99" height="5.65" fill="#1aa04f"/>
<rect x="377.94" y="312.55" width="0.99" height="5.65" fill="#1d7048"/>
<rect x="378.88" y="312.55" width="0.99" height="5.65" fill="#1d7048"/>
<rect x="379.81" y="312.55" width="0.99" height="5.65" fill="#1aa04f"/>
<rect x="380.75" y="312.55" width="0.99" height="5.65" fill="#1d7048"/>
<rect x="381.69" y="312.55" width="0.99" height="5.65" fill="#1aa04f"/>
<rect x="382.62" y="312.55" width="0.99" height="5.65" fill="#ee1f7d"/>
<rect x="383.56" y="312.55" width="0.99" height="5.65" fill="#1aa04f"/>
<rect x="384.5" y="312.55" width="0.99" height="5.65" fill="#1d7048"/>
<rect x="385.44" y="312.55" width="0.99" height="5.65" fill="#1aa04f"/>
<rect x="386.38" y="312.55" width="0.99" height="5.65" fill="#1d7048"/>
<rect x="227" y="318.8" width="0.99" height="5.65" fill="#1aa04f"/>
<rect x="227.94" y="318.8" width="0.99" height="5.65" fill="#1aa04f"/>
<rect x="228.88" y="318.8" width="0.99" height="5.65" fill="#1aa04f"/>
<rect x="242" y="318.8" width="0.99" height="5.65" fill="#1aa04f"/>
<rect x="258.88" y="318.8" width="0.99" height="5.65" fill="#1aa04f"/>
<rect x="259.81" y="318.8" width="0.99" height="5.65" fill="#1aa04f"/>
<rect x="260.75" y="318.8" width="0.99" height="5.65" fill="#1aa04f"/>
<rect x="261.69" y="318.8" width="0.99" height="5.65" fill="#1aa04f"/>
<rect x="262.62" y="318.8" width="0.99" height="5.65" fill="#1aa04f"/>
<rect x="263.56" y="318.8" width="0.99" height="5.65" fill="#1aa04f"/>
<rect x="264.5" y="318.8" width="0.99" height="5.65" fill="#1aa04f"/>
<rect x="270.12" y="318.8" width="0.99" height="5.65" fill="#1aa04f"/>
<rect x="271.06" y="318.8" width="0.99" height="5.65" fill="#1aa04f"/>
<rect x="272" y="318.8" width="0.99" height="5.65" fill="#1aa04f"/>
<rect x="272.94" y="318.8" width="0.99" height="5.65" fill="#1aa04f"/>
<rect x="273.88" y="318.8" width="0.99" height="5.65" fill="#1aa04f"/>
<rect x="274.81" y="318.8" width="0.99" height="5.65" fill="#1aa04f"/>
<rect x="301.06" y="318.8" width="0.99" height="5.65" fill="#1aa04f"/>
<rect x="302" y="318.8" width="0.99" height="5.65" fill="#1aa04f"/>
<rect x="302.94" y="318.8" width="0.99" height="5.65" fill="#1aa04f"/>
<rect x="324.5" y="318.8" width="0.99" height="5.65" fill="#1aa04f"/>
<rect x="325.44" y="318.8" width="0.99" height="5.65" fill="#1aa04f"/>
<rect x="326.38" y="318.8" width="0.99" height="5.65" fill="#1aa04f"/>
<rect x="327.31" y="318.8" width="0.99" height="5.65" fill="#1aa04f"/>
<rect x="346.06" y="318.8" width="0.99" height="5.65" fill="#1aa04f"/>
<rect x="347" y="318.8" width="0.99" height="5.65" fill="#1aa04f"/>
<rect x="347.94" y="318.8" width="0.99" height="5.65" fill="#1aa04f"/>
<rect x="348.88" y="318.8" width="0.99" height="5.65" fill="#1aa04f"/>
<rect x="356.38" y="318.8" width="0.99" height="5.65" fill="#1aa04f"/>
<rect x="357.31" y="318.8" width="0.99" height="5.65" fill="#1aa04f"/>
<rect x="358.25" y="318.8" width="0.99" height="5.65" fill="#1aa04f"/>
<rect x="359.19" y="318.8" width="0.99" height="5.65" fill="#1aa04f"/>
<rect x="379.81" y="318.8" width="0.99" height="5.65" fill="#1aa04f"/>
<rect x="380.75" y="318.8" width="0.99" height="5.65" fill="#1aa04f"/>
<rect x="381.69" y="318.8" width="0.99" height="5.65" fill="#1aa04f"/>
<rect x="382.62" y="318.8" width="0.99" height="5.65" fill="#1aa04f"/>
<rect x="401" y="293.8" width="1.01" height="5.65" fill="#1d7048"/>
<rect x="401.96" y="293.8" width="1.01" height="5.65" fill="#1d7048"/>
<rect x="402.92" y="293.8" width="1.01" height="5.65" fill="#1d7048"/>
<rect x="403.88" y="293.8" width="1.01" height="5.65" fill="#1d7048"/>
<rect x="404.84" y="293.8" width="1.01" height="5.65" fill="#1d7048"/>
<rect x="405.8" y="293.8" width="1.01" height="5.65" fill="#1d7048"/>
<rect x="406.76" y="293.8" width="1.01" height="5.65" fill="#1d7048"/>
<rect x="407.72" y="293.8" width="1.01" height="5.65" fill="#7a4457"/>
<rect x="408.68" y="293.8" width="1.01" height="5.65" fill="#7a4457"/>
<rect x="409.64" y="293.8" width="1.01" height="5.65" fill="#7a4457"/>
<rect x="410.6" y="293.8" width="1.01" height="5.65" fill="#7a4457"/>
<rect x="411.56" y="293.8" width="1.01" height="5.65" fill="#7a4457"/>
<rect x="401" y="300.05" width="1.01" height="5.65" fill="#1aa04f"/>
<rect x="401.96" y="300.05" width="1.01" height="5.65" fill="#1aa04f"/>
<rect x="402.92" y="300.05" width="1.01" height="5.65" fill="#1aa04f"/>
<rect x="403.88" y="300.05" width="1.01" height="5.65" fill="#1aa04f"/>
<rect x="404.84" y="300.05" width="1.01" height="5.65" fill="#1aa04f"/>
<rect x="405.8" y="300.05" width="1.01" height="5.65" fill="#1aa04f"/>
<rect x="413.48" y="300.05" width="1.01" height="5.65" fill="#1aa04f"/>
<rect x="414.44" y="300.05" width="1.01" height="5.65" fill="#1aa04f"/>
<rect x="415.4" y="300.05" width="1.01" height="5.65" fill="#1aa04f"/>
<rect x="416.36" y="300.05" width="1.01" height="5.65" fill="#1aa04f"/>
<rect x="417.32" y="300.05" width="1.01" height="5.65" fill="#1aa04f"/>
<rect x="418.28" y="300.05" width="1.01" height="5.65" fill="#1aa04f"/>
<rect x="401" y="306.3" width="1.01" height="5.65" fill="#1aa04f"/>
<rect x="401.96" y="306.3" width="1.01" height="5.65" fill="#1aa04f"/>
<rect x="402.92" y="306.3" width="1.01" height="5.65" fill="#1aa04f"/>
<rect x="403.88" y="306.3" width="1.01" height="5.65" fill="#1aa04f"/>
<rect x="404.84" y="306.3" width="1.01" height="5.65" fill="#1aa04f"/>
<rect x="405.8" y="306.3" width="1.01" height="5.65" fill="#1aa04f"/>
<rect x="408.68" y="306.3" width="1.01" height="5.65" fill="#1aa04f"/>
<rect x="412.52" y="306.3" width="1.01" height="5.65" fill="#1aa04f"/>
<rect x="413.48" y="306.3" width="1.01" height="5.65" fill="#1aa04f"/>
<rect x="414.44" y="306.3" width="1.01" height="5.65" fill="#1aa04f"/>
<rect x="419.24" y="306.3" width="1.01" height="5.65" fill="#2e4562"/>
<rect x="401" y="312.55" width="1.01" height="5.65" fill="#f28c18"/>
<rect x="401.96" y="312.55" width="1.01" height="5.65" fill="#f28c18"/>
<rect x="408.68" y="312.55" width="1.01" height="5.65" fill="#7a3a10"/>
<rect x="409.64" y="312.55" width="1.01" height="5.65" fill="#7a3a10"/>
<rect x="412.52" y="312.55" width="1.01" height="5.65" fill="#1aa04f"/>
<rect x="413.48" y="312.55" width="1.01" height="5.65" fill="#1aa04f"/>
<rect x="416.36" y="312.55" width="1.01" height="5.65" fill="#f28c18"/>
<rect x="417.32" y="312.55" width="1.01" height="5.65" fill="#f28c18"/>
<rect x="401" y="318.8" width="1.01" height="5.65" fill="#1aa04f"/>
<rect x="401.96" y="318.8" width="1.01" height="5.65" fill="#1aa04f"/>
<rect x="403.88" y="318.8" width="1.01" height="5.65" fill="#1aa04f"/>
<rect x="404.84" y="318.8" width="1.01" height="5.65" fill="#1aa04f"/>
<rect x="407.72" y="318.8" width="1.01" height="5.65" fill="#1aa04f"/>
<rect x="408.68" y="318.8" width="1.01" height="5.65" fill="#1aa04f"/>
<rect x="414.44" y="318.8" width="1.01" height="5.65" fill="#1aa04f"/>
<rect x="401" y="325.05" width="1.01" height="5.65" fill="#1aa04f"/>
<rect x="403.88" y="325.05" width="1.01" height="5.65" fill="#1aa04f"/>
<rect x="404.84" y="325.05" width="1.01" height="5.65" fill="#1aa04f"/>
<rect x="406.76" y="325.05" width="1.01" height="5.65" fill="#1aa04f"/>
<rect x="415.4" y="325.05" width="1.01" height="5.65" fill="#1aa04f"/>
<rect x="418.28" y="325.05" width="1.01" height="5.65" fill="#1aa04f"/>
<rect x="404.84" y="331.3" width="1.01" height="5.65" fill="#1aa04f"/>
<rect x="408.68" y="331.3" width="1.01" height="5.65" fill="#1aa04f"/>
<rect x="415.4" y="337.55" width="1.01" height="5.65" fill="#6f8a86"/>
<rect x="424.04" y="337.55" width="1.01" height="5.65" fill="#6f8a86"/>
<rect x="414.44" y="350.05" width="1.01" height="5.65" fill="#f28c18"/>
<rect x="426.8" y="293.8" width="1.02" height="5.65" fill="#1d7048"/>
<rect x="427.78" y="293.8" width="1.02" height="5.65" fill="#2e4562"/>
<rect x="428.75" y="293.8" width="1.02" height="5.65" fill="#2e4562"/>
<rect x="429.73" y="293.8" width="1.02" height="5.65" fill="#1d7048"/>
<rect x="430.7" y="293.8" width="1.02" height="5.65" fill="#2e4562"/>
<rect x="431.68" y="293.8" width="1.02" height="5.65" fill="#2e4562"/>
<rect x="432.65" y="293.8" width="1.02" height="5.65" fill="#2e4562"/>
<rect x="433.62" y="293.8" width="1.02" height="5.65" fill="#7a4457"/>
<rect x="434.6" y="293.8" width="1.02" height="5.65" fill="#7a4457"/>
<rect x="435.57" y="293.8" width="1.02" height="5.65" fill="#1d7048"/>
<rect x="436.55" y="293.8" width="1.02" height="5.65" fill="#1d7048"/>
<rect x="426.8" y="300.05" width="1.02" height="5.65" fill="#1aa04f"/>
<rect x="427.78" y="300.05" width="1.02" height="5.65" fill="#1aa04f"/>
<rect x="428.75" y="300.05" width="1.02" height="5.65" fill="#1aa04f"/>
<rect x="429.73" y="300.05" width="1.02" height="5.65" fill="#1aa04f"/>
<rect x="430.7" y="300.05" width="1.02" height="5.65" fill="#1aa04f"/>
<rect x="432.65" y="300.05" width="1.02" height="5.65" fill="#1aa04f"/>
<rect x="435.57" y="300.05" width="1.02" height="5.65" fill="#1aa04f"/>
<rect x="436.55" y="300.05" width="1.02" height="5.65" fill="#1aa04f"/>
<rect x="437.53" y="300.05" width="1.02" height="5.65" fill="#1aa04f"/>
<rect x="438.5" y="300.05" width="1.02" height="5.65" fill="#1aa04f"/>
<rect x="439.48" y="300.05" width="1.02" height="5.65" fill="#1aa04f"/>
<rect x="440.45" y="300.05" width="1.02" height="5.65" fill="#1aa04f"/>
<rect x="426.8" y="306.3" width="1.02" height="5.65" fill="#1aa04f"/>
<rect x="427.78" y="306.3" width="1.02" height="5.65" fill="#1aa04f"/>
<rect x="428.75" y="306.3" width="1.02" height="5.65" fill="#1aa04f"/>
<rect x="429.73" y="306.3" width="1.02" height="5.65" fill="#1aa04f"/>
<rect x="430.7" y="306.3" width="1.02" height="5.65" fill="#1aa04f"/>
<rect x="433.62" y="306.3" width="1.02" height="5.65" fill="#2e4562"/>
<rect x="434.6" y="306.3" width="1.02" height="5.65" fill="#2e4562"/>
<rect x="437.53" y="306.3" width="1.02" height="5.65" fill="#1d7048"/>
<rect x="438.5" y="306.3" width="1.02" height="5.65" fill="#1d7048"/>
<rect x="426.8" y="312.55" width="1.02" height="5.65" fill="#f28c18"/>
<rect x="427.78" y="312.55" width="1.02" height="5.65" fill="#f28c18"/>
<rect x="428.75" y="312.55" width="1.02" height="5.65" fill="#8c80c5"/>
<rect x="429.73" y="312.55" width="1.02" height="5.65" fill="#8c80c5"/>
<rect x="431.68" y="312.55" width="1.02" height="5.65" fill="#f28c18"/>
<rect x="432.65" y="312.55" width="1.02" height="5.65" fill="#f28c18"/>
<rect x="434.6" y="312.55" width="1.02" height="5.65" fill="#f28c18"/>
<rect x="435.57" y="312.55" width="1.02" height="5.65" fill="#f28c18"/>
<rect x="426.8" y="318.8" width="1.02" height="5.65" fill="#1aa04f"/>
<rect x="427.78" y="318.8" width="1.02" height="5.65" fill="#1aa04f"/>
<rect x="430.7" y="318.8" width="1.02" height="5.65" fill="#1aa04f"/>
<rect x="431.68" y="318.8" width="1.02" height="5.65" fill="#1aa04f"/>
<rect x="433.62" y="318.8" width="1.02" height="5.65" fill="#1aa04f"/>
<rect x="434.6" y="318.8" width="1.02" height="5.65" fill="#1aa04f"/>
<rect x="436.55" y="318.8" width="1.02" height="5.65" fill="#1aa04f"/>
<rect x="437.53" y="318.8" width="1.02" height="5.65" fill="#1aa04f"/>
<rect x="426.8" y="325.05" width="1.02" height="5.65" fill="#1aa04f"/>
<rect x="440.45" y="325.05" width="1.02" height="5.65" fill="#1aa04f"/>
<rect x="427.78" y="331.3" width="1.02" height="5.65" fill="#1aa04f"/>
<rect x="441.43" y="331.3" width="1.02" height="5.65" fill="#1aa04f"/>
<rect x="445.32" y="337.55" width="1.02" height="5.65" fill="#6f8a86"/>
<rect x="440.45" y="343.8" width="1.02" height="5.65" fill="#f28c18"/>
<rect x="448.2" y="293.8" width="1.01" height="5.65" fill="#2e4562"/>
<rect x="449.16" y="293.8" width="1.01" height="5.65" fill="#2e4562"/>
<rect x="450.13" y="293.8" width="1.01" height="5.65" fill="#8c80c5"/>
<rect x="451.09" y="293.8" width="1.01" height="5.65" fill="#2e4562"/>
<rect x="452.06" y="293.8" width="1.01" height="5.65" fill="#8c80c5"/>
<rect x="453.02" y="293.8" width="1.01" height="5.65" fill="#7a4457"/>
<rect x="453.99" y="293.8" width="1.01" height="5.65" fill="#2e4562"/>
<rect x="454.95" y="293.8" width="1.01" height="5.65" fill="#2e4562"/>
<rect x="455.92" y="293.8" width="1.01" height="5.65" fill="#8c80c5"/>
<rect x="448.2" y="300.05" width="1.01" height="5.65" fill="#1aa04f"/>
<rect x="449.16" y="300.05" width="1.01" height="5.65" fill="#1aa04f"/>
<rect x="450.13" y="300.05" width="1.01" height="5.65" fill="#1aa04f"/>
<rect x="451.09" y="300.05" width="1.01" height="5.65" fill="#f28c18"/>
<rect x="452.06" y="300.05" width="1.01" height="5.65" fill="#f28c18"/>
<rect x="458.81" y="300.05" width="1.01" height="5.65" fill="#7a4457"/>
<rect x="459.78" y="300.05" width="1.01" height="5.65" fill="#7a4457"/>
<rect x="448.2" y="306.3" width="1.01" height="5.65" fill="#2e4562"/>
<rect x="449.16" y="306.3" width="1.01" height="5.65" fill="#2e4562"/>
<rect x="452.06" y="306.3" width="1.01" height="5.65" fill="#1aa04f"/>
<rect x="453.02" y="306.3" width="1.01" height="5.65" fill="#1aa04f"/>
<rect x="453.99" y="306.3" width="1.01" height="5.65" fill="#1aa04f"/>
<rect x="454.95" y="306.3" width="1.01" height="5.65" fill="#1aa04f"/>
<rect x="458.81" y="306.3" width="1.01" height="5.65" fill="#1aa04f"/>
<rect x="459.78" y="306.3" width="1.01" height="5.65" fill="#1aa04f"/>
<rect x="460.74" y="306.3" width="1.01" height="5.65" fill="#1aa04f"/>
<rect x="448.2" y="312.55" width="1.01" height="5.65" fill="#7a3a10"/>
<rect x="449.16" y="312.55" width="1.01" height="5.65" fill="#7a3a10"/>
<rect x="453.99" y="312.55" width="1.01" height="5.65" fill="#1aa04f"/>
<rect x="454.95" y="312.55" width="1.01" height="5.65" fill="#1aa04f"/>
<rect x="461.71" y="312.55" width="1.01" height="5.65" fill="#f28c18"/>
<rect x="462.67" y="312.55" width="1.01" height="5.65" fill="#f28c18"/>
<rect x="448.2" y="318.8" width="1.01" height="5.65" fill="#1aa04f"/>
<rect x="449.16" y="318.8" width="1.01" height="5.65" fill="#1aa04f"/>
<rect x="452.06" y="318.8" width="1.01" height="5.65" fill="#1aa04f"/>
<rect x="455.92" y="318.8" width="1.01" height="5.65" fill="#1aa04f"/>
<rect x="456.88" y="318.8" width="1.01" height="5.65" fill="#1aa04f"/>
<rect x="457.85" y="318.8" width="1.01" height="5.65" fill="#1aa04f"/>
<rect x="458.81" y="318.8" width="1.01" height="5.65" fill="#1aa04f"/>
<rect x="459.78" y="318.8" width="1.01" height="5.65" fill="#1aa04f"/>
<rect x="448.2" y="325.05" width="1.01" height="5.65" fill="#1aa04f"/>
<rect x="452.06" y="325.05" width="1.01" height="5.65" fill="#1aa04f"/>
<rect x="452.06" y="331.3" width="1.01" height="5.65" fill="#1aa04f"/>
<rect x="269.19" y="325.05" width="1" height="5.65" fill="#1aa04f"/>
<rect x="280.44" y="325.05" width="1" height="5.65" fill="#1aa04f"/>
<rect x="391.06" y="325.05" width="1" height="5.65" fill="#1aa04f"/>
<rect x="356.38" y="325.05" width="1" height="5.65" fill="#1aa04f"/>
<rect x="261.69" y="325.05" width="1" height="5.65" fill="#1aa04f"/>
<rect x="378.88" y="325.05" width="1" height="5.65" fill="#1aa04f"/>
<rect x="357.31" y="325.05" width="1" height="5.65" fill="#1aa04f"/>
<rect x="347" y="325.05" width="1" height="5.65" fill="#1aa04f"/>
<rect x="253.25" y="325.05" width="1" height="5.65" fill="#1d7048"/>
<rect x="353.56" y="325.05" width="1" height="5.65" fill="#1aa04f"/>
<rect x="311.38" y="325.05" width="1" height="5.65" fill="#1aa04f"/>
<rect x="346.06" y="325.05" width="1" height="5.65" fill="#1aa04f"/>
<rect x="244.81" y="325.05" width="1" height="5.65" fill="#1aa04f"/>
<rect x="310.44" y="325.05" width="1" height="5.65" fill="#1aa04f"/>
<rect x="278.56" y="325.05" width="1" height="5.65" fill="#6f8a86"/>
<rect x="243.88" y="325.05" width="1" height="5.65" fill="#1aa04f"/>
<rect x="291.69" y="325.05" width="1" height="5.65" fill="#1aa04f"/>
<rect x="392" y="331.3" width="1" height="5.65" fill="#1aa04f"/>
<rect x="325.44" y="331.3" width="1" height="5.65" fill="#1aa04f"/>
<rect x="398.56" y="331.3" width="1" height="5.65" fill="#1aa04f"/>
<rect x="290.75" y="331.3" width="1" height="5.65" fill="#1d7048"/>
<rect x="322.62" y="331.3" width="1" height="5.65" fill="#1aa04f"/>
<rect x="328.25" y="331.3" width="1" height="5.65" fill="#1aa04f"/>
<rect x="302.94" y="331.3" width="1" height="5.65" fill="#1aa04f"/>
<rect x="356.38" y="331.3" width="1" height="5.65" fill="#1aa04f"/>
<rect x="327.31" y="331.3" width="1" height="5.65" fill="#1aa04f"/>
<rect x="318.88" y="331.3" width="1" height="5.65" fill="#1aa04f"/>
<rect x="262.62" y="331.3" width="1" height="5.65" fill="#1d7048"/>
<rect x="319.81" y="331.3" width="1" height="5.65" fill="#1aa04f"/>
<rect x="324.5" y="331.3" width="1" height="5.65" fill="#6f8a86"/>
<rect x="260.75" y="331.3" width="1" height="5.65" fill="#1aa04f"/>
<rect x="335.75" y="337.55" width="1" height="5.65" fill="#1aa04f"/>
<rect x="364.81" y="337.55" width="1" height="5.65" fill="#1d7048"/>
<rect x="227" y="337.55" width="1" height="5.65" fill="#1aa04f"/>
<rect x="340.44" y="337.55" width="1" height="5.65" fill="#1aa04f"/>
<rect x="381.69" y="337.55" width="1" height="5.65" fill="#1d7048"/>
<rect x="339.5" y="337.55" width="1" height="5.65" fill="#1aa04f"/>
<rect x="348.88" y="337.55" width="1" height="5.65" fill="#1aa04f"/>
<rect x="308.56" y="337.55" width="1" height="5.65" fill="#1aa04f"/>
<rect x="368.56" y="337.55" width="1" height="5.65" fill="#1aa04f"/>
<rect x="357.31" y="337.55" width="1" height="5.65" fill="#1aa04f"/>
<rect x="317.94" y="337.55" width="1" height="5.65" fill="#1aa04f"/>
<rect x="340.44" y="343.8" width="1" height="5.65" fill="#f28c18"/>
<rect x="310.44" y="343.8" width="1" height="5.65" fill="#f28c18"/>
<rect x="351.69" y="343.8" width="1" height="5.65" fill="#f28c18"/>
<rect x="367.62" y="343.8" width="1" height="5.65" fill="#f28c18"/>
<rect x="341.38" y="343.8" width="1" height="5.65" fill="#e6a3d3"/>
<rect x="363.88" y="343.8" width="1" height="5.65" fill="#f28c18"/>
<rect x="279.5" y="343.8" width="1" height="5.65" fill="#f28c18"/>
<rect x="260.75" y="343.8" width="1" height="5.65" fill="#f28c18"/>
<rect x="242" y="343.8" width="1" height="5.65" fill="#f28c18"/>
<rect x="353.56" y="343.8" width="1" height="5.65" fill="#f28c18"/>
<rect x="314.19" y="343.8" width="1" height="5.65" fill="#e6a3d3"/>
<rect x="385.44" y="350.05" width="1" height="5.65" fill="#e6a3d3"/>
<rect x="336.69" y="350.05" width="1" height="5.65" fill="#1aa04f"/>
<rect x="269.19" y="350.05" width="1" height="5.65" fill="#e6a3d3"/>
<rect x="379.81" y="350.05" width="1" height="5.65" fill="#1aa04f"/>
<rect x="382.62" y="350.05" width="1" height="5.65" fill="#1aa04f"/>
<rect x="237.31" y="350.05" width="1" height="5.65" fill="#e6a3d3"/>
<rect x="303.88" y="350.05" width="1" height="5.65" fill="#1aa04f"/>
<rect x="317.94" y="350.05" width="1" height="5.65" fill="#1aa04f"/>
<rect x="313.25" y="350.05" width="1" height="5.65" fill="#1aa04f"/>
<rect x="385.44" y="356.3" width="1" height="5.65" fill="#e6a3d3"/>
<rect x="351.69" y="356.3" width="1" height="5.65" fill="#e6a3d3"/>
<rect x="299.19" y="356.3" width="1" height="5.65" fill="#e6a3d3"/>
<rect x="334.81" y="356.3" width="1" height="5.65" fill="#e6a3d3"/>
<rect x="247.62" y="356.3" width="1" height="5.65" fill="#e6a3d3"/>
<rect x="292.62" y="356.3" width="1" height="5.65" fill="#e6a3d3"/>
<rect x="321.69" y="356.3" width="1" height="5.65" fill="#1aa04f"/>
<rect x="40" y="363.9" width="185" height="13" fill="#0b8e47"/>
<rect x="227" y="363.9" width="172.5" height="13" fill="#ef7d5e"/>
<rect x="401" y="363.9" width="24" height="13" fill="#7a4457"/>
<rect x="426.8" y="363.9" width="19.5" height="13" fill="#0a8c48"/>
<rect x="448.2" y="363.9" width="16.4" height="13" fill="#6cc399"/>
<rect x="500.8" y="7.5" width="12.8" height="283.2" fill="#0e9a48"/>
<rect x="500.8" y="293" width="12.8" height="69.2" fill="#f07e5f"/>
<text x="24.75" y="13.16" font-size="7" fill="#2a2a2a" textLength="12.05" lengthAdjust="spacingAndGlyphs" stroke="#2a2a2a" stroke-width="0.07">14%</text>
<text x="467" y="13.16" font-size="7" fill="#2a2a2a" textLength="13.72" lengthAdjust="spacingAndGlyphs" stroke="#2a2a2a" stroke-width="0.07">PIM1</text>
<text x="24.75" y="19.47" font-size="7" fill="#2a2a2a" textLength="12.05" lengthAdjust="spacingAndGlyphs" stroke="#2a2a2a" stroke-width="0.07">13%</text>
<text x="467" y="19.47" font-size="7" fill="#2a2a2a" textLength="19.93" lengthAdjust="spacingAndGlyphs" stroke="#2a2a2a" stroke-width="0.07">SOCS1</text>
<text x="24.75" y="25.78" font-size="7" fill="#2a2a2a" textLength="12.05" lengthAdjust="spacingAndGlyphs" stroke="#2a2a2a" stroke-width="0.07">13%</text>
<text x="467" y="25.78" font-size="7" fill="#2a2a2a" textLength="12.09" lengthAdjust="spacingAndGlyphs" stroke="#2a2a2a" stroke-width="0.07">B2M</text>
<text x="24.75" y="32.09" font-size="7" fill="#2a2a2a" textLength="12.05" lengthAdjust="spacingAndGlyphs" stroke="#2a2a2a" stroke-width="0.07">13%</text>
<text x="467" y="32.09" font-size="7" fill="#2a2a2a" textLength="28.1" lengthAdjust="spacingAndGlyphs" stroke="#2a2a2a" stroke-width="0.07">HIST1H1E</text>
<text x="24.75" y="38.4" font-size="7" fill="#2a2a2a" textLength="12.05" lengthAdjust="spacingAndGlyphs" stroke="#2a2a2a" stroke-width="0.07">12%</text>
<text x="467" y="38.4" font-size="7" fill="#2a2a2a" textLength="14.05" lengthAdjust="spacingAndGlyphs" stroke="#2a2a2a" stroke-width="0.07">TP53</text>
<text x="24.75" y="44.71" font-size="7" fill="#2a2a2a" textLength="12.05" lengthAdjust="spacingAndGlyphs" stroke="#2a2a2a" stroke-width="0.07">10%</text>
<text x="467" y="44.71" font-size="7" fill="#2a2a2a" textLength="19.28" lengthAdjust="spacingAndGlyphs" stroke="#2a2a2a" stroke-width="0.07">GNA13</text>
<text x="28.1" y="51.02" font-size="7" fill="#2a2a2a" textLength="8.7" lengthAdjust="spacingAndGlyphs" stroke="#2a2a2a" stroke-width="0.07">8%</text>
<text x="467" y="51.02" font-size="7" fill="#2a2a2a" textLength="16.01" lengthAdjust="spacingAndGlyphs" stroke="#2a2a2a" stroke-width="0.07">PCLO</text>
<text x="28.1" y="57.33" font-size="7" fill="#2a2a2a" textLength="8.7" lengthAdjust="spacingAndGlyphs" stroke="#2a2a2a" stroke-width="0.07">8%</text>
<text x="467" y="57.33" font-size="7" fill="#2a2a2a" textLength="15.69" lengthAdjust="spacingAndGlyphs" stroke="#2a2a2a" stroke-width="0.07">SGK1</text>
<text x="28.1" y="63.64" font-size="7" fill="#2a2a2a" textLength="8.7" lengthAdjust="spacingAndGlyphs" stroke="#2a2a2a" stroke-width="0.07">8%</text>
<text x="467" y="63.64" font-size="7" fill="#2a2a2a" textLength="28.43" lengthAdjust="spacingAndGlyphs" stroke="#2a2a2a" stroke-width="0.07">HIST1H1C</text>
<text x="28.1" y="69.95" font-size="7" fill="#2a2a2a" textLength="8.7" lengthAdjust="spacingAndGlyphs" stroke="#2a2a2a" stroke-width="0.07">7%</text>
<text x="467" y="69.95" font-size="7" fill="#2a2a2a" textLength="14.71" lengthAdjust="spacingAndGlyphs" stroke="#2a2a2a" stroke-width="0.07">BCL6</text>
<text x="28.1" y="76.27" font-size="7" fill="#2a2a2a" textLength="8.7" lengthAdjust="spacingAndGlyphs" stroke="#2a2a2a" stroke-width="0.07">7%</text>
<text x="467" y="76.27" font-size="7" fill="#2a2a2a" textLength="19.61" lengthAdjust="spacingAndGlyphs" stroke="#2a2a2a" stroke-width="0.07">MYD88</text>
<text x="28.1" y="82.58" font-size="7" fill="#2a2a2a" textLength="8.7" lengthAdjust="spacingAndGlyphs" stroke="#2a2a2a" stroke-width="0.07">7%</text>
<text x="467" y="82.58" font-size="7" fill="#2a2a2a" textLength="28.1" lengthAdjust="spacingAndGlyphs" stroke="#2a2a2a" stroke-width="0.07">HIST1H1B</text>
<text x="28.1" y="88.89" font-size="7" fill="#2a2a2a" textLength="8.7" lengthAdjust="spacingAndGlyphs" stroke="#2a2a2a" stroke-width="0.07">7%</text>
<text x="467" y="88.89" font-size="7" fill="#2a2a2a" textLength="15.36" lengthAdjust="spacingAndGlyphs" stroke="#2a2a2a" stroke-width="0.07">BTG1</text>
<text x="28.1" y="95.2" font-size="7" fill="#2a2a2a" textLength="8.7" lengthAdjust="spacingAndGlyphs" stroke="#2a2a2a" stroke-width="0.07">6%</text>
<text x="467" y="95.2" font-size="7" fill="#2a2a2a" textLength="15.36" lengthAdjust="spacingAndGlyphs" stroke="#2a2a2a" stroke-width="0.07">BTG2</text>
<text x="28.1" y="101.51" font-size="7" fill="#2a2a2a" textLength="8.7" lengthAdjust="spacingAndGlyphs" stroke="#2a2a2a" stroke-width="0.07">6%</text>
<text x="467" y="101.51" font-size="7" fill="#2a2a2a" textLength="23.53" lengthAdjust="spacingAndGlyphs" stroke="#2a2a2a" stroke-width="0.07">TMSB4X</text>
<text x="28.1" y="107.82" font-size="7" fill="#2a2a2a" textLength="8.7" lengthAdjust="spacingAndGlyphs" stroke="#2a2a2a" stroke-width="0.07">6%</text>
<text x="467" y="107.82" font-size="7" fill="#2a2a2a" textLength="25.49" lengthAdjust="spacingAndGlyphs" stroke="#2a2a2a" stroke-width="0.07">TBL1XR1</text>
<text x="28.1" y="114.13" font-size="7" fill="#2a2a2a" textLength="8.7" lengthAdjust="spacingAndGlyphs" stroke="#2a2a2a" stroke-width="0.07">6%</text>
<text x="467" y="114.13" font-size="7" fill="#2a2a2a" textLength="15.03" lengthAdjust="spacingAndGlyphs" stroke="#2a2a2a" stroke-width="0.07">DTX1</text>
<text x="28.1" y="120.44" font-size="7" fill="#2a2a2a" textLength="8.7" lengthAdjust="spacingAndGlyphs" stroke="#2a2a2a" stroke-width="0.07">5%</text>
<text x="467" y="120.44" font-size="7" fill="#2a2a2a" textLength="18.95" lengthAdjust="spacingAndGlyphs" stroke="#2a2a2a" stroke-width="0.07">CD79B</text>
<text x="28.1" y="126.75" font-size="7" fill="#2a2a2a" textLength="8.7" lengthAdjust="spacingAndGlyphs" stroke="#2a2a2a" stroke-width="0.07">5%</text>
<text x="467" y="126.75" font-size="7" fill="#2a2a2a" textLength="20.26" lengthAdjust="spacingAndGlyphs" stroke="#2a2a2a" stroke-width="0.07">CCND3</text>
<text x="28.1" y="133.06" font-size="7" fill="#2a2a2a" textLength="8.7" lengthAdjust="spacingAndGlyphs" stroke="#2a2a2a" stroke-width="0.07">5%</text>
<text x="467" y="133.06" font-size="7" fill="#2a2a2a" textLength="28.43" lengthAdjust="spacingAndGlyphs" stroke="#2a2a2a" stroke-width="0.07">HIST1H1D</text>
<text x="28.1" y="139.38" font-size="7" fill="#2a2a2a" textLength="8.7" lengthAdjust="spacingAndGlyphs" stroke="#2a2a2a" stroke-width="0.07">5%</text>
<text x="467" y="139.38" font-size="7" fill="#2a2a2a" textLength="15.68" lengthAdjust="spacingAndGlyphs" stroke="#2a2a2a" stroke-width="0.07">ACTB</text>
<text x="28.1" y="145.69" font-size="7" fill="#2a2a2a" textLength="8.7" lengthAdjust="spacingAndGlyphs" stroke="#2a2a2a" stroke-width="0.07">5%</text>
<text x="467" y="145.69" font-size="7" fill="#2a2a2a" textLength="15.03" lengthAdjust="spacingAndGlyphs" stroke="#2a2a2a" stroke-width="0.07">CD58</text>
<text x="28.1" y="152" font-size="7" fill="#2a2a2a" textLength="8.7" lengthAdjust="spacingAndGlyphs" stroke="#2a2a2a" stroke-width="0.07">5%</text>
<text x="467" y="152" font-size="7" fill="#2a2a2a" textLength="17.32" lengthAdjust="spacingAndGlyphs" stroke="#2a2a2a" stroke-width="0.07">HLA-B</text>
<text x="28.1" y="158.31" font-size="7" fill="#2a2a2a" textLength="8.7" lengthAdjust="spacingAndGlyphs" stroke="#2a2a2a" stroke-width="0.07">5%</text>
<text x="467" y="158.31" font-size="7" fill="#2a2a2a" textLength="19.61" lengthAdjust="spacingAndGlyphs" stroke="#2a2a2a" stroke-width="0.07">DUSP2</text>
<text x="28.1" y="164.62" font-size="7" fill="#2a2a2a" textLength="8.7" lengthAdjust="spacingAndGlyphs" stroke="#2a2a2a" stroke-width="0.07">4%</text>
<text x="467" y="164.62" font-size="7" fill="#2a2a2a" textLength="24.17" lengthAdjust="spacingAndGlyphs" stroke="#2a2a2a" stroke-width="0.07">NOTCH2</text>
<text x="28.1" y="170.93" font-size="7" fill="#2a2a2a" textLength="8.7" lengthAdjust="spacingAndGlyphs" stroke="#2a2a2a" stroke-width="0.07">4%</text>
<text x="467" y="170.93" font-size="7" fill="#2a2a2a" textLength="20.58" lengthAdjust="spacingAndGlyphs" stroke="#2a2a2a" stroke-width="0.07">PRDM1</text>
<text x="28.1" y="177.24" font-size="7" fill="#2a2a2a" textLength="8.7" lengthAdjust="spacingAndGlyphs" stroke="#2a2a2a" stroke-width="0.07">4%</text>
<text x="467" y="177.24" font-size="7" fill="#2a2a2a" textLength="13.07" lengthAdjust="spacingAndGlyphs" stroke="#2a2a2a" stroke-width="0.07">MYC</text>
<text x="28.1" y="183.55" font-size="7" fill="#2a2a2a" textLength="8.7" lengthAdjust="spacingAndGlyphs" stroke="#2a2a2a" stroke-width="0.07">4%</text>
<text x="467" y="183.55" font-size="7" fill="#2a2a2a" textLength="18.52" lengthAdjust="spacingAndGlyphs" stroke="#2a2a2a" stroke-width="0.07">P2RY8</text>
<text x="28.1" y="189.86" font-size="7" fill="#2a2a2a" textLength="8.7" lengthAdjust="spacingAndGlyphs" stroke="#2a2a2a" stroke-width="0.07">4%</text>
<text x="467" y="189.86" font-size="7" fill="#2a2a2a" textLength="14.05" lengthAdjust="spacingAndGlyphs" stroke="#2a2a2a" stroke-width="0.07">KLF2</text>
<text x="28.1" y="196.17" font-size="7" fill="#2a2a2a" textLength="8.7" lengthAdjust="spacingAndGlyphs" stroke="#2a2a2a" stroke-width="0.07">4%</text>
<text x="467" y="196.17" font-size="7" fill="#2a2a2a" textLength="16.99" lengthAdjust="spacingAndGlyphs" stroke="#2a2a2a" stroke-width="0.07">ITPKB</text>
<text x="28.1" y="202.49" font-size="7" fill="#2a2a2a" textLength="8.7" lengthAdjust="spacingAndGlyphs" stroke="#2a2a2a" stroke-width="0.07">4%</text>
<text x="467" y="202.49" font-size="7" fill="#2a2a2a" textLength="27.77" lengthAdjust="spacingAndGlyphs" stroke="#2a2a2a" stroke-width="0.07">TMEM30A</text>
<text x="28.1" y="208.8" font-size="7" fill="#2a2a2a" textLength="8.7" lengthAdjust="spacingAndGlyphs" stroke="#2a2a2a" stroke-width="0.07">3%</text>
<text x="467" y="208.8" font-size="7" fill="#2a2a2a" textLength="15.03" lengthAdjust="spacingAndGlyphs" stroke="#2a2a2a" stroke-width="0.07">CD70</text>
<text x="28.1" y="215.11" font-size="7" fill="#2a2a2a" textLength="8.7" lengthAdjust="spacingAndGlyphs" stroke="#2a2a2a" stroke-width="0.07">3%</text>
<text x="467" y="215.11" font-size="7" fill="#2a2a2a" textLength="21.24" lengthAdjust="spacingAndGlyphs" stroke="#2a2a2a" stroke-width="0.07">NFKBIA</text>
<text x="28.1" y="221.42" font-size="7" fill="#2a2a2a" textLength="8.7" lengthAdjust="spacingAndGlyphs" stroke="#2a2a2a" stroke-width="0.07">2%</text>
<text x="467" y="221.42" font-size="7" fill="#2a2a2a" textLength="15.03" lengthAdjust="spacingAndGlyphs" stroke="#2a2a2a" stroke-width="0.07">CD83</text>
<text x="28.1" y="227.73" font-size="7" fill="#2a2a2a" textLength="8.7" lengthAdjust="spacingAndGlyphs" stroke="#2a2a2a" stroke-width="0.07">2%</text>
<text x="467" y="227.73" font-size="7" fill="#2a2a2a" textLength="25.82" lengthAdjust="spacingAndGlyphs" stroke="#2a2a2a" stroke-width="0.07">ZC3H12A</text>
<text x="28.1" y="234.04" font-size="7" fill="#2a2a2a" textLength="8.7" lengthAdjust="spacingAndGlyphs" stroke="#2a2a2a" stroke-width="0.07">2%</text>
<text x="467" y="234.04" font-size="7" fill="#2a2a2a" textLength="16.66" lengthAdjust="spacingAndGlyphs" stroke="#2a2a2a" stroke-width="0.07">WEE1</text>
<text x="28.1" y="240.35" font-size="7" fill="#2a2a2a" textLength="8.7" lengthAdjust="spacingAndGlyphs" stroke="#2a2a2a" stroke-width="0.07">2%</text>
<text x="467" y="240.35" font-size="7" fill="#2a2a2a" textLength="23.85" lengthAdjust="spacingAndGlyphs" stroke="#2a2a2a" stroke-width="0.07">CDKN2A</text>
<text x="28.1" y="246.66" font-size="7" fill="#2a2a2a" textLength="8.7" lengthAdjust="spacingAndGlyphs" stroke="#2a2a2a" stroke-width="0.07">2%</text>
<text x="467" y="246.66" font-size="7" fill="#2a2a2a" textLength="12.74" lengthAdjust="spacingAndGlyphs" stroke="#2a2a2a" stroke-width="0.07">IRF4</text>
<text x="28.1" y="252.97" font-size="7" fill="#2a2a2a" textLength="8.7" lengthAdjust="spacingAndGlyphs" stroke="#2a2a2a" stroke-width="0.07">2%</text>
<text x="467" y="252.97" font-size="7" fill="#2a2a2a" textLength="12.42" lengthAdjust="spacingAndGlyphs" stroke="#2a2a2a" stroke-width="0.07">IL4R</text>
<text x="28.1" y="259.28" font-size="7" fill="#2a2a2a" textLength="8.7" lengthAdjust="spacingAndGlyphs" stroke="#2a2a2a" stroke-width="0.07">2%</text>
<text x="467" y="259.28" font-size="7" fill="#2a2a2a" textLength="15.69" lengthAdjust="spacingAndGlyphs" stroke="#2a2a2a" stroke-width="0.07">XPO1</text>
<text x="28.1" y="265.6" font-size="7" fill="#2a2a2a" textLength="8.7" lengthAdjust="spacingAndGlyphs" stroke="#2a2a2a" stroke-width="0.07">2%</text>
<text x="467" y="265.6" font-size="7" fill="#2a2a2a" textLength="13.39" lengthAdjust="spacingAndGlyphs" stroke="#2a2a2a" stroke-width="0.07">MGA</text>
<text x="28.1" y="271.91" font-size="7" fill="#2a2a2a" textLength="8.7" lengthAdjust="spacingAndGlyphs" stroke="#2a2a2a" stroke-width="0.07">1%</text>
<text x="467" y="271.91" font-size="7" fill="#2a2a2a" textLength="25.15" lengthAdjust="spacingAndGlyphs" stroke="#2a2a2a" stroke-width="0.07">HNRNPD</text>
<text x="28.1" y="278.22" font-size="7" fill="#2a2a2a" textLength="8.7" lengthAdjust="spacingAndGlyphs" stroke="#2a2a2a" stroke-width="0.07">1%</text>
<text x="467" y="278.22" font-size="7" fill="#2a2a2a" textLength="21.24" lengthAdjust="spacingAndGlyphs" stroke="#2a2a2a" stroke-width="0.07">GRHPR</text>
<text x="28.1" y="284.53" font-size="7" fill="#2a2a2a" textLength="8.7" lengthAdjust="spacingAndGlyphs" stroke="#2a2a2a" stroke-width="0.07">1%</text>
<text x="467" y="284.53" font-size="7" fill="#2a2a2a" textLength="16.99" lengthAdjust="spacingAndGlyphs" stroke="#2a2a2a" stroke-width="0.07">INO80</text>
<text x="28.1" y="290.84" font-size="7" fill="#2a2a2a" textLength="8.7" lengthAdjust="spacingAndGlyphs" stroke="#2a2a2a" stroke-width="0.07">1%</text>
<text x="467" y="290.84" font-size="7" fill="#2a2a2a" textLength="13.72" lengthAdjust="spacingAndGlyphs" stroke="#2a2a2a" stroke-width="0.07">PIM2</text>
<text x="24.75" y="299.52" font-size="7" fill="#2a2a2a" textLength="12.05" lengthAdjust="spacingAndGlyphs" stroke="#2a2a2a" stroke-width="0.07">46%</text>
<text x="467" y="299.52" font-size="7" fill="#2a2a2a" textLength="19.93" lengthAdjust="spacingAndGlyphs" stroke="#2a2a2a" stroke-width="0.07">KMT2D</text>
<text x="24.75" y="305.77" font-size="7" fill="#2a2a2a" textLength="12.05" lengthAdjust="spacingAndGlyphs" stroke="#2a2a2a" stroke-width="0.07">40%</text>
<text x="467" y="305.77" font-size="7" fill="#2a2a2a" textLength="24.18" lengthAdjust="spacingAndGlyphs" stroke="#2a2a2a" stroke-width="0.07">CREBBP</text>
<text x="24.75" y="312.02" font-size="7" fill="#2a2a2a" textLength="12.05" lengthAdjust="spacingAndGlyphs" stroke="#2a2a2a" stroke-width="0.07">29%</text>
<text x="467" y="312.02" font-size="7" fill="#2a2a2a" textLength="14.71" lengthAdjust="spacingAndGlyphs" stroke="#2a2a2a" stroke-width="0.07">BCL2</text>
<text x="24.75" y="318.27" font-size="7" fill="#2a2a2a" textLength="12.05" lengthAdjust="spacingAndGlyphs" stroke="#2a2a2a" stroke-width="0.07">26%</text>
<text x="467" y="318.27" font-size="7" fill="#2a2a2a" textLength="29.73" lengthAdjust="spacingAndGlyphs" stroke="#2a2a2a" stroke-width="0.07">TNFRSF14</text>
<text x="24.75" y="324.52" font-size="7" fill="#2a2a2a" textLength="12.05" lengthAdjust="spacingAndGlyphs" stroke="#2a2a2a" stroke-width="0.07">20%</text>
<text x="467" y="324.52" font-size="7" fill="#2a2a2a" textLength="15.03" lengthAdjust="spacingAndGlyphs" stroke="#2a2a2a" stroke-width="0.07">EZH2</text>
<text x="24.75" y="330.77" font-size="7" fill="#2a2a2a" textLength="12.05" lengthAdjust="spacingAndGlyphs" stroke="#2a2a2a" stroke-width="0.07">10%</text>
<text x="467" y="330.77" font-size="7" fill="#2a2a2a" textLength="17.42" lengthAdjust="spacingAndGlyphs" stroke="#2a2a2a" stroke-width="0.07">STAT6</text>
<text x="28.1" y="337.02" font-size="7" fill="#2a2a2a" textLength="8.7" lengthAdjust="spacingAndGlyphs" stroke="#2a2a2a" stroke-width="0.07">7%</text>
<text x="467" y="337.02" font-size="7" fill="#2a2a2a" textLength="21.24" lengthAdjust="spacingAndGlyphs" stroke="#2a2a2a" stroke-width="0.07">RRAGC</text>
<text x="28.1" y="343.27" font-size="7" fill="#2a2a2a" textLength="8.7" lengthAdjust="spacingAndGlyphs" stroke="#2a2a2a" stroke-width="0.07">5%</text>
<text x="467" y="343.27" font-size="7" fill="#2a2a2a" textLength="28.65" lengthAdjust="spacingAndGlyphs" stroke="#2a2a2a" stroke-width="0.07">ATP6V1B2</text>
<text x="28.1" y="349.52" font-size="7" fill="#2a2a2a" textLength="8.7" lengthAdjust="spacingAndGlyphs" stroke="#2a2a2a" stroke-width="0.07">4%</text>
<text x="467" y="349.52" font-size="7" fill="#2a2a2a" textLength="26.8" lengthAdjust="spacingAndGlyphs" stroke="#2a2a2a" stroke-width="0.07">POU2AF1</text>
<text x="28.1" y="355.77" font-size="7" fill="#2a2a2a" textLength="8.7" lengthAdjust="spacingAndGlyphs" stroke="#2a2a2a" stroke-width="0.07">2%</text>
<text x="467" y="355.77" font-size="7" fill="#2a2a2a" textLength="26.47" lengthAdjust="spacingAndGlyphs" stroke="#2a2a2a" stroke-width="0.07">ARP6AP1</text>
<text x="28.1" y="362.02" font-size="7" fill="#2a2a2a" textLength="8.7" lengthAdjust="spacingAndGlyphs" stroke="#2a2a2a" stroke-width="0.07">2%</text>
<text x="467" y="362.02" font-size="7" fill="#2a2a2a" textLength="19.28" lengthAdjust="spacingAndGlyphs" stroke="#2a2a2a" stroke-width="0.07">VMA21</text>
<text x="466.3" y="373.6" font-size="7" fill="#2a2a2a" textLength="42.7" lengthAdjust="spacingAndGlyphs" stroke="#2a2a2a" stroke-width="0.07">Analysis cohort</text>
<text x="6.6" y="15.9" font-size="11.5" fill="#111" textLength="8.5" lengthAdjust="spacingAndGlyphs" font-weight="bold">A</text>
<text x="6.7" y="463.8" font-size="11" fill="#111" textLength="7.1" lengthAdjust="spacingAndGlyphs" font-weight="bold">B</text>
<text x="40.4" y="388" font-size="7" fill="#2a2a2a" textLength="30.8" lengthAdjust="spacingAndGlyphs" stroke="#2a2a2a" stroke-width="0.07">Alterations</text>
<rect x="40.5" y="393.6" width="6" height="6.3" fill="#e6a3d3"/>
<rect x="40.5" y="399.9" width="6" height="6.3" fill="#f28c18"/>
<text x="50.6" y="399.3" font-size="6" fill="#2a2a2a" textLength="51.3" lengthAdjust="spacingAndGlyphs" stroke="#2a2a2a" stroke-width="0.07">Nonsense Mutation</text>
<text x="50.6" y="405.5" font-size="6" fill="#2a2a2a" textLength="26.9" lengthAdjust="spacingAndGlyphs" stroke="#2a2a2a" stroke-width="0.07">Splice Site</text>
<rect x="121.5" y="393.4" width="6" height="6.3" fill="#10b4e0"/>
<rect x="121.5" y="399.7" width="6" height="6.3" fill="#8c80c5"/>
<text x="131.7" y="399.3" font-size="6" fill="#2a2a2a" textLength="48.1" lengthAdjust="spacingAndGlyphs" stroke="#2a2a2a" stroke-width="0.07">Nonstop Mutation</text>
<text x="131.7" y="405.5" font-size="6" fill="#2a2a2a" textLength="53.9" lengthAdjust="spacingAndGlyphs" stroke="#2a2a2a" stroke-width="0.07">Translation Start Site</text>
<rect x="206.2" y="393.8" width="5.6" height="12.6" fill="#7a3a10"/>
<text x="215.8" y="399.3" font-size="6" fill="#2a2a2a" textLength="47.1" lengthAdjust="spacingAndGlyphs" stroke="#2a2a2a" stroke-width="0.07">In Frame Insertion</text>
<text x="215.8" y="405.5" font-size="6" fill="#2a2a2a" textLength="47.1" lengthAdjust="spacingAndGlyphs" stroke="#2a2a2a" stroke-width="0.07">In Frame Deletion</text>
<rect x="282.2" y="393.8" width="5.7" height="12.6" fill="#ee1f7d"/>
<text x="292.3" y="399.3" font-size="6" fill="#2a2a2a" textLength="54.6" lengthAdjust="spacingAndGlyphs" stroke="#2a2a2a" stroke-width="0.07">Frame Shift Insertion</text>
<text x="292.3" y="405.5" font-size="6" fill="#2a2a2a" textLength="53.9" lengthAdjust="spacingAndGlyphs" stroke="#2a2a2a" stroke-width="0.07">Frame Shift Deletion</text>
<rect x="366.7" y="393.8" width="5.8" height="6.3" fill="#2e4562"/>
<rect x="366.7" y="400.1" width="5.8" height="6.4" fill="#13a34b"/>
<text x="376.9" y="399.3" font-size="6" fill="#2a2a2a" textLength="22.3" lengthAdjust="spacingAndGlyphs" stroke="#2a2a2a" stroke-width="0.07">Multi Hit</text>
<text x="376.9" y="405.5" font-size="6" fill="#2a2a2a" textLength="49.6" lengthAdjust="spacingAndGlyphs" stroke="#2a2a2a" stroke-width="0.07">Missense Mutation</text>
<text x="445.5" y="388" font-size="7" fill="#2a2a2a" textLength="31.9" lengthAdjust="spacingAndGlyphs" stroke="#2a2a2a" stroke-width="0.07">Enriched in</text>
<rect x="445.6" y="393.3" width="6" height="6" fill="#0e9a48"/>
<rect x="445.6" y="400" width="6" height="6" fill="#f07e5f"/>
<text x="455.6" y="399.1" font-size="6" fill="#2a2a2a" textLength="40" lengthAdjust="spacingAndGlyphs" stroke="#2a2a2a" stroke-width="0.07">denovo-DLBCL</text>
<text x="455.6" y="405.6" font-size="6" fill="#2a2a2a" textLength="15.8" lengthAdjust="spacingAndGlyphs" stroke="#2a2a2a" stroke-width="0.07">no-HT</text>
<text x="40.3" y="423.5" font-size="7" fill="#2a2a2a" textLength="39.6" lengthAdjust="spacingAndGlyphs" stroke="#2a2a2a" stroke-width="0.07">Analysis cohort</text>
<rect x="40.3" y="429.9" width="6.3" height="6.5" fill="#0b8e47"/>
<text x="50.5" y="435" font-size="6" fill="#2a2a2a" textLength="39.8" lengthAdjust="spacingAndGlyphs" stroke="#2a2a2a" stroke-width="0.07">denovo-DLBCL</text>
<rect x="122.5" y="429.9" width="5.9" height="6.3" fill="#ef7d5e"/>
<text x="132.9" y="435" font-size="6" fill="#2a2a2a" textLength="16.3" lengthAdjust="spacingAndGlyphs" stroke="#2a2a2a" stroke-width="0.07">no-HT</text>
<rect x="160.1" y="429.9" width="6.1" height="6.3" fill="#7a4457"/>
<text x="170.8" y="435" font-size="6" fill="#2a2a2a" textLength="17.5" lengthAdjust="spacingAndGlyphs" stroke="#2a2a2a" stroke-width="0.07">pre-HT</text>
<rect x="200.7" y="429.9" width="6.3" height="6.3" fill="#0a8c48"/>
<text x="211.7" y="435" font-size="6" fill="#2a2a2a" textLength="19.7" lengthAdjust="spacingAndGlyphs" stroke="#2a2a2a" stroke-width="0.07">post-HT</text>
<rect x="244.6" y="429.9" width="6.2" height="6.3" fill="#6cc399"/>
<text x="255.4" y="435" font-size="6" fill="#2a2a2a" textLength="13.8" lengthAdjust="spacingAndGlyphs" stroke="#2a2a2a" stroke-width="0.07">COM</text>
<text x="19.2" y="475" font-size="6" fill="#2a2a2a" textLength="76.6" lengthAdjust="spacingAndGlyphs" font-style="italic" stroke="#2a2a2a" stroke-width="0.07">no-HT FL [62.5%; N = 184]</text>
<text x="391.5" y="473.8" font-size="7" fill="#2a2a2a" textLength="63.1" lengthAdjust="spacingAndGlyphs" stroke="#2a2a2a" stroke-width="0.07">CREBBP: NM_004380</text>
<line x1="18.9" y1="481.5" x2="18.9" y2="517.3" stroke="#9a9a9a" stroke-width="1.3"/>
<line x1="17" y1="481.5" x2="19.5" y2="481.5" stroke="#666" stroke-width="0.9"/>
<line x1="17" y1="517.3" x2="19.5" y2="517.3" stroke="#666" stroke-width="0.9"/>
<line x1="18.9" y1="543" x2="18.9" y2="573.5" stroke="#9a9a9a" stroke-width="1.3"/>
<line x1="17" y1="543" x2="19.5" y2="543" stroke="#666" stroke-width="0.9"/>
<line x1="17" y1="573.5" x2="19.5" y2="573.5" stroke="#666" stroke-width="0.9"/>
<text x="9.4" y="483.1" font-size="5" fill="#2a2a2a" textLength="6.2" lengthAdjust="spacingAndGlyphs" stroke="#2a2a2a" stroke-width="0.07">13</text>
<text x="12.8" y="518.5" font-size="5" fill="#2a2a2a" textLength="2.2" lengthAdjust="spacingAndGlyphs" stroke="#2a2a2a" stroke-width="0.07">1</text>
<text x="12.8" y="544.5" font-size="5" fill="#2a2a2a" textLength="2.2" lengthAdjust="spacingAndGlyphs" stroke="#2a2a2a" stroke-width="0.07">1</text>
<text x="12.4" y="575" font-size="5" fill="#2a2a2a" textLength="3" lengthAdjust="spacingAndGlyphs" stroke="#2a2a2a" stroke-width="0.07">5</text>
<rect x="246.2" y="479.3" width="48.5" height="82.4" fill="none" stroke="#ee8f86" stroke-width="1"/>
<rect x="443.6" y="506.4" width="55.7" height="82.2" fill="none" stroke="#ee8f86" stroke-width="1"/>
<line x1="294.7" y1="479.3" x2="499.3" y2="506.4" stroke="#ee8f86" stroke-width="1"/>
<line x1="246.2" y1="561.7" x2="443.6" y2="588.6" stroke="#ee8f86" stroke-width="1"/>
<line x1="46.3" y1="521.2" x2="46.3" y2="517.1" stroke="#6a4a50" stroke-width="0.7"/>
<circle cx="46.3" cy="517.1" r="1.15" fill="#9a2a45"/>
<line x1="58.4" y1="521.2" x2="58.4" y2="517.1" stroke="#6a4a50" stroke-width="0.7"/>
<circle cx="58.4" cy="517.1" r="1.15" fill="#9a2a45"/>
<line x1="60" y1="521.2" x2="60" y2="517.1" stroke="#6a4a50" stroke-width="0.7"/>
<circle cx="60" cy="517.1" r="1.15" fill="#9a2a45"/>
<line x1="61.5" y1="521.2" x2="61.5" y2="517.1" stroke="#6a4a50" stroke-width="0.7"/>
<circle cx="61.5" cy="517.1" r="1.15" fill="#9a2a45"/>
<line x1="63.6" y1="521.2" x2="63.6" y2="517.1" stroke="#6a4a50" stroke-width="0.7"/>
<circle cx="63.6" cy="517.1" r="1.15" fill="#9a2a45"/>
<line x1="71" y1="521.2" x2="71" y2="517.1" stroke="#6a4a50" stroke-width="0.7"/>
<circle cx="71" cy="517.1" r="1.15" fill="#9a2a45"/>
<line x1="90.6" y1="521.2" x2="90.6" y2="517.1" stroke="#6a4a50" stroke-width="0.7"/>
<circle cx="90.6" cy="517.1" r="1.15" fill="#9a2a45"/>
<line x1="95.3" y1="521.2" x2="95.3" y2="517.1" stroke="#6a4a50" stroke-width="0.7"/>
<circle cx="95.3" cy="517.1" r="1.15" fill="#9a2a45"/>
<line x1="107.6" y1="521.2" x2="107.6" y2="517.1" stroke="#6a4a50" stroke-width="0.7"/>
<circle cx="107.6" cy="517.1" r="1.15" fill="#9a2a45"/>
<line x1="110.3" y1="521.2" x2="110.3" y2="517.1" stroke="#6a4a50" stroke-width="0.7"/>
<circle cx="110.3" cy="517.1" r="1.15" fill="#9a2a45"/>
<line x1="117" y1="521.2" x2="117" y2="517.1" stroke="#6a4a50" stroke-width="0.7"/>
<circle cx="117" cy="517.1" r="1.15" fill="#9a2a45"/>
<line x1="120.4" y1="521.2" x2="120.4" y2="517.1" stroke="#6a4a50" stroke-width="0.7"/>
<circle cx="120.4" cy="517.1" r="1.15" fill="#9a2a45"/>
<line x1="137.2" y1="521.2" x2="137.2" y2="517.1" stroke="#6a4a50" stroke-width="0.7"/>
<circle cx="137.2" cy="517.1" r="1.15" fill="#9a2a45"/>
<line x1="145.3" y1="521.2" x2="145.3" y2="517.1" stroke="#6a4a50" stroke-width="0.7"/>
<circle cx="145.3" cy="517.1" r="1.15" fill="#9a2a45"/>
<line x1="160.9" y1="521.2" x2="160.9" y2="517.1" stroke="#6a4a50" stroke-width="0.7"/>
<circle cx="160.9" cy="517.1" r="1.15" fill="#9a2a45"/>
<line x1="166.9" y1="521.2" x2="166.9" y2="517.1" stroke="#6a4a50" stroke-width="0.7"/>
<circle cx="166.9" cy="517.1" r="1.15" fill="#9a2a45"/>
<line x1="199.9" y1="521.2" x2="199.9" y2="517.1" stroke="#6a4a50" stroke-width="0.7"/>
<circle cx="199.9" cy="517.1" r="1.15" fill="#9a2a45"/>
<line x1="205.4" y1="521.2" x2="205.4" y2="517.1" stroke="#6a4a50" stroke-width="0.7"/>
<circle cx="205.4" cy="517.1" r="1.15" fill="#9a2a45"/>
<line x1="209.1" y1="521.2" x2="209.1" y2="517.1" stroke="#6a4a50" stroke-width="0.7"/>
<circle cx="209.1" cy="517.1" r="1.15" fill="#9a2a45"/>
<line x1="211.5" y1="521.2" x2="211.5" y2="517.1" stroke="#6a4a50" stroke-width="0.7"/>
<circle cx="211.5" cy="517.1" r="1.15" fill="#9a2a45"/>
<line x1="216.9" y1="521.2" x2="216.9" y2="517.1" stroke="#6a4a50" stroke-width="0.7"/>
<circle cx="216.9" cy="517.1" r="1.15" fill="#9a2a45"/>
<line x1="219.5" y1="521.2" x2="219.5" y2="517.1" stroke="#6a4a50" stroke-width="0.7"/>
<circle cx="219.5" cy="517.1" r="1.15" fill="#9a2a45"/>
<line x1="244.4" y1="521.2" x2="244.4" y2="517.1" stroke="#6a4a50" stroke-width="0.7"/>
<circle cx="244.4" cy="517.1" r="1.15" fill="#9a2a45"/>
<line x1="236" y1="521.2" x2="236" y2="513.5" stroke="#6a4a50" stroke-width="0.7"/>
<circle cx="236" cy="513.5" r="1.15" fill="#9a2a45"/>
<line x1="240" y1="521.2" x2="240" y2="511.1" stroke="#6a4a50" stroke-width="0.7"/>
<circle cx="240" cy="511.1" r="1.15" fill="#9a2a45"/>
<line x1="84.5" y1="534" x2="84.5" y2="542.7" stroke="#c9333b" stroke-width="0.7"/>
<circle cx="84.5" cy="542.7" r="1.15" fill="#c9333b"/>
<line x1="87.9" y1="534" x2="87.9" y2="542.7" stroke="#3a7cc0" stroke-width="0.7"/>
<circle cx="87.9" cy="542.7" r="1.15" fill="#3a7cc0"/>
<line x1="96.7" y1="534" x2="96.7" y2="542.7" stroke="#3a9a8a" stroke-width="0.7"/>
<circle cx="96.7" cy="542.7" r="1.15" fill="#3a9a8a"/>
<line x1="116.6" y1="534" x2="116.6" y2="542.7" stroke="#3b3b6e" stroke-width="0.7"/>
<circle cx="116.6" cy="542.7" r="1.15" fill="#3b3b6e"/>
<line x1="129.1" y1="534" x2="129.1" y2="542.7" stroke="#e08a3a" stroke-width="0.7"/>
<circle cx="129.1" cy="542.7" r="1.15" fill="#e08a3a"/>
<line x1="155.9" y1="534" x2="155.9" y2="542.7" stroke="#8a7a7a" stroke-width="0.7"/>
<circle cx="155.9" cy="542.7" r="1.15" fill="#8a7a7a"/>
<line x1="205.4" y1="534" x2="205.4" y2="542.7" stroke="#3b3b6e" stroke-width="0.7"/>
<circle cx="205.4" cy="542.7" r="1.15" fill="#3b3b6e"/>
<line x1="208.7" y1="534" x2="208.7" y2="542.7" stroke="#c9333b" stroke-width="0.7"/>
<circle cx="208.7" cy="542.7" r="1.15" fill="#c9333b"/>
<line x1="212" y1="534" x2="212" y2="542.7" stroke="#c9333b" stroke-width="0.7"/>
<circle cx="212" cy="542.7" r="1.15" fill="#c9333b"/>
<line x1="234.2" y1="534" x2="234.2" y2="550.7" stroke="#777" stroke-width="0.7"/>
<circle cx="234.2" cy="550.7" r="1" fill="#8a5a5a"/>
<line x1="236.2" y1="534" x2="236.2" y2="558.2" stroke="#777" stroke-width="0.7"/>
<circle cx="236.2" cy="558.2" r="1" fill="#5a6a6a"/>
<rect x="34.2" y="521.3" width="386" height="12.7" fill="#86a2a1" stroke="#62807e" stroke-width="0.6"/>
<rect x="90.1" y="519.7" width="12.8" height="15.9" fill="#f4957a" stroke="#c0664c" stroke-width="0.7"/>
<rect x="127.1" y="520.4" width="12.8" height="15.2" fill="#fbd28b" stroke="#c59a52" stroke-width="0.7"/>
<rect x="206" y="520.1" width="16.5" height="15.5" fill="#7a80cc" stroke="#555a9a" stroke-width="0.7"/>
<rect x="222.5" y="520.1" width="7.1" height="15.5" fill="#e9825e" stroke="#b0583a" stroke-width="0.7"/>
<rect x="246.3" y="519.8" width="48.4" height="15.2" fill="#e5608a" stroke="#b84468" stroke-width="0.7"/>
<rect x="303.4" y="520.4" width="6.4" height="14.8" fill="#f08f5e" stroke="#b8623a" stroke-width="0.7"/>
<rect x="313.4" y="520.4" width="12" height="14.8" fill="#f6a37f" stroke="#c07a5a" stroke-width="0.7"/>
<rect x="356" y="520.2" width="11.6" height="15.1" fill="#f8c46a" stroke="#c09040" stroke-width="0.7"/>
<text x="87.4" y="528.8" font-size="5.5" fill="#3a3f3f" textLength="18.2" lengthAdjust="spacingAndGlyphs" font-style="italic" stroke="#3a3f3f" stroke-width="0.07">zf-TAZ</text>
<text x="129" y="530" font-size="6.5" fill="#3a3f3f" textLength="8.9" lengthAdjust="spacingAndGlyphs" stroke="#3a3f3f" stroke-width="0.07">KIX</text>
<text x="175.1" y="528.8" font-size="6" fill="#2a4a48" font-style="italic" textLength="44" lengthAdjust="spacingAndGlyphs">Bromo_coa<tspan fill="#30307a">_like</tspan></text>
<text x="220.8" y="528.8" font-size="6" fill="#2a4a48" font-style="italic" textLength="24.6" lengthAdjust="spacingAndGlyphs"><tspan fill="#7a2a10">DUF</tspan>_902</text>
<text x="261" y="529.5" font-size="6.2" fill="#6a2030" textLength="18.3" lengthAdjust="spacingAndGlyphs" font-style="italic" stroke="#6a2030" stroke-width="0.07">KAT11</text>
<text x="295.5" y="529.0" font-size="6" fill="#2a5a58" textLength="21.5" lengthAdjust="spacingAndGlyphs">ZZ_<tspan fill="#a02a18">C</tspan>B<tspan fill="#a02a18">P</tspan></text>
<text x="342.5" y="530" font-size="6" fill="#3a3f3f" textLength="38.5" lengthAdjust="spacingAndGlyphs" stroke="#3a3f3f" stroke-width="0.07">Creb_binding</text>
<text x="0" y="0" font-size="6.5" fill="#2a2a2a" textLength="21.6" lengthAdjust="spacingAndGlyphs" transform="translate(427.3,539.9) rotate(-90)">2445 aa</text>
<line x1="262.4" y1="519.8" x2="262.4" y2="481.7" stroke="#4a4a4a" stroke-width="0.7"/>
<circle cx="262.4" cy="481.7" r="1" fill="#3a6a4a"/>
<circle cx="262.4" cy="499.6" r="0.85" fill="#2aa845"/>
<circle cx="262.4" cy="511.3" r="0.85" fill="#2aa845"/>
<circle cx="262.4" cy="514.3" r="0.85" fill="#2aa845"/>
<line x1="271.3" y1="519.8" x2="271.3" y2="502.5" stroke="#4a4a4a" stroke-width="0.7"/>
<circle cx="271.3" cy="502.5" r="1" fill="#3a6a4a"/>
<circle cx="271.3" cy="508.6" r="0.85" fill="#2aa845"/>
<circle cx="271.3" cy="511.7" r="0.85" fill="#2aa845"/>
<circle cx="271.3" cy="514.3" r="0.85" fill="#2aa845"/>
<line x1="260.7" y1="519.8" x2="260.7" y2="511.4" stroke="#4a4a4a" stroke-width="0.7"/>
<circle cx="260.7" cy="511.4" r="1" fill="#2aa845"/>
<circle cx="260.7" cy="514.3" r="0.85" fill="#2aa845"/>
<line x1="267.9" y1="519.8" x2="267.9" y2="511.4" stroke="#4a4a4a" stroke-width="0.7"/>
<circle cx="267.9" cy="511.4" r="1" fill="#2aa845"/>
<circle cx="267.9" cy="514.3" r="0.85" fill="#2aa845"/>
<line x1="250.6" y1="519.8" x2="250.6" y2="517.2" stroke="#4a4a4a" stroke-width="0.7"/>
<circle cx="250.6" cy="517.2" r="0.9" fill="#2aa845"/>
<line x1="256.9" y1="519.8" x2="256.9" y2="517.2" stroke="#4a4a4a" stroke-width="0.7"/>
<circle cx="256.9" cy="517.2" r="0.9" fill="#2aa845"/>
<line x1="258.7" y1="519.8" x2="258.7" y2="517.2" stroke="#4a4a4a" stroke-width="0.7"/>
<circle cx="258.7" cy="517.2" r="0.9" fill="#2aa845"/>
<line x1="260.1" y1="519.8" x2="260.1" y2="517.2" stroke="#4a4a4a" stroke-width="0.7"/>
<circle cx="260.1" cy="517.2" r="0.9" fill="#2aa845"/>
<line x1="263.3" y1="519.8" x2="263.3" y2="517.2" stroke="#4a4a4a" stroke-width="0.7"/>
<circle cx="263.3" cy="517.2" r="0.9" fill="#2aa845"/>
<line x1="266.4" y1="519.8" x2="266.4" y2="517.2" stroke="#4a4a4a" stroke-width="0.7"/>
<circle cx="266.4" cy="517.2" r="0.9" fill="#2aa845"/>
<line x1="269" y1="519.8" x2="269" y2="517.2" stroke="#4a4a4a" stroke-width="0.7"/>
<circle cx="269" cy="517.2" r="0.9" fill="#2aa845"/>
<line x1="270.2" y1="519.8" x2="270.2" y2="517.2" stroke="#4a4a4a" stroke-width="0.7"/>
<circle cx="270.2" cy="517.2" r="0.9" fill="#2aa845"/>
<line x1="272.2" y1="519.8" x2="272.2" y2="517.2" stroke="#4a4a4a" stroke-width="0.7"/>
<circle cx="272.2" cy="517.2" r="0.9" fill="#2aa845"/>
<line x1="274.5" y1="519.8" x2="274.5" y2="517.2" stroke="#4a4a4a" stroke-width="0.7"/>
<circle cx="274.5" cy="517.2" r="0.9" fill="#2aa845"/>
<line x1="278.3" y1="519.8" x2="278.3" y2="517.2" stroke="#4a4a4a" stroke-width="0.7"/>
<circle cx="278.3" cy="517.2" r="0.9" fill="#505050"/>
<line x1="282.6" y1="519.8" x2="282.6" y2="517.2" stroke="#4a4a4a" stroke-width="0.7"/>
<circle cx="282.6" cy="517.2" r="0.9" fill="#505050"/>
<line x1="285" y1="519.8" x2="285" y2="517.2" stroke="#4a4a4a" stroke-width="0.7"/>
<circle cx="285" cy="517.2" r="0.9" fill="#505050"/>
<line x1="290" y1="519.8" x2="290" y2="517.2" stroke="#4a4a4a" stroke-width="0.7"/>
<circle cx="290" cy="517.2" r="0.9" fill="#505050"/>
<line x1="295.3" y1="519.8" x2="295.3" y2="517.2" stroke="#4a4a4a" stroke-width="0.7"/>
<circle cx="295.3" cy="517.2" r="0.9" fill="#505050"/>
<line x1="299.2" y1="502.4" x2="299.2" y2="565.6" stroke="#777" stroke-width="0.8"/>
<circle cx="295.6" cy="517" r="0.8" fill="#333"/>
<line x1="251.8" y1="535" x2="251.8" y2="543.3" stroke="#b07070" stroke-width="0.7"/>
<circle cx="251.8" cy="543.3" r="1" fill="#e07070"/>
<line x1="259.6" y1="535" x2="259.6" y2="543.3" stroke="#4a4a4a" stroke-width="0.7"/>
<circle cx="259.6" cy="543.3" r="1" fill="#2aa845"/>
<line x1="262.5" y1="535" x2="262.5" y2="550.8" stroke="#4a4a4a" stroke-width="0.7"/>
<circle cx="262.5" cy="550.8" r="1" fill="#4a4a4a"/>
<circle cx="262.5" cy="543.3" r="0.85" fill="#2aa845"/>
<line x1="265.3" y1="535" x2="265.3" y2="543.3" stroke="#4a4a4a" stroke-width="0.7"/>
<circle cx="265.3" cy="543.3" r="1" fill="#c9333b"/>
<line x1="271.3" y1="535" x2="271.3" y2="550.8" stroke="#4a4a4a" stroke-width="0.7"/>
<circle cx="271.3" cy="550.8" r="1" fill="#4a4a4a"/>
<circle cx="271.3" cy="543.1" r="0.85" fill="#2aa845"/>
<rect x="447.2" y="551.1" width="48.7" height="15.5" fill="#e5608a" stroke="#b84468" stroke-width="0.7"/>
<line x1="463.9" y1="551.1" x2="463.9" y2="513" stroke="#4a4a4a" stroke-width="0.7"/>
<circle cx="463.9" cy="513" r="1" fill="#3a6a4a"/>
<circle cx="463.9" cy="530.6" r="0.85" fill="#2aa845"/>
<circle cx="463.9" cy="542.3" r="0.85" fill="#2aa845"/>
<circle cx="463.9" cy="545" r="0.85" fill="#2aa845"/>
<line x1="472.6" y1="551.1" x2="472.6" y2="533.7" stroke="#4a4a4a" stroke-width="0.7"/>
<circle cx="472.6" cy="533.7" r="1" fill="#3a6a4a"/>
<circle cx="472.6" cy="538.1" r="0.85" fill="#2aa845"/>
<circle cx="472.6" cy="541.6" r="0.85" fill="#2aa845"/>
<circle cx="472.6" cy="545" r="0.85" fill="#2aa845"/>
<line x1="451.9" y1="551.1" x2="451.9" y2="548.9" stroke="#4a4a4a" stroke-width="0.7"/>
<circle cx="451.9" cy="548.9" r="0.9" fill="#2aa845"/>
<line x1="458.1" y1="551.1" x2="458.1" y2="548.9" stroke="#4a4a4a" stroke-width="0.7"/>
<circle cx="458.1" cy="548.9" r="0.9" fill="#2aa845"/>
<line x1="460.2" y1="551.1" x2="460.2" y2="548.9" stroke="#4a4a4a" stroke-width="0.7"/>
<circle cx="460.2" cy="548.9" r="0.9" fill="#2aa845"/>
<line x1="462.3" y1="551.1" x2="462.3" y2="548.9" stroke="#4a4a4a" stroke-width="0.7"/>
<circle cx="462.3" cy="548.9" r="0.9" fill="#2aa845"/>
<line x1="464.3" y1="551.1" x2="464.3" y2="548.9" stroke="#4a4a4a" stroke-width="0.7"/>
<circle cx="464.3" cy="548.9" r="0.9" fill="#2aa845"/>
<line x1="467.8" y1="551.1" x2="467.8" y2="548.9" stroke="#4a4a4a" stroke-width="0.7"/>
<circle cx="467.8" cy="548.9" r="0.9" fill="#2aa845"/>
<line x1="469.9" y1="551.1" x2="469.9" y2="548.9" stroke="#4a4a4a" stroke-width="0.7"/>
<circle cx="469.9" cy="548.9" r="0.9" fill="#2aa845"/>
<line x1="471.9" y1="551.1" x2="471.9" y2="548.9" stroke="#4a4a4a" stroke-width="0.7"/>
<circle cx="471.9" cy="548.9" r="0.9" fill="#2aa845"/>
<line x1="473.3" y1="551.1" x2="473.3" y2="548.9" stroke="#4a4a4a" stroke-width="0.7"/>
<circle cx="473.3" cy="548.9" r="0.9" fill="#2aa845"/>
<line x1="479.5" y1="551.1" x2="479.5" y2="548.9" stroke="#4a4a4a" stroke-width="0.7"/>
<circle cx="479.5" cy="548.9" r="0.9" fill="#505050"/>
<line x1="492" y1="551.1" x2="492" y2="548.9" stroke="#4a4a4a" stroke-width="0.7"/>
<circle cx="492" cy="548.9" r="0.9" fill="#505050"/>
<circle cx="461" cy="545.5" r="0.85" fill="#2aa845"/>
<circle cx="462.5" cy="545.5" r="0.85" fill="#2aa845"/>
<circle cx="468.5" cy="545.5" r="0.85" fill="#2aa845"/>
<circle cx="470.5" cy="545.5" r="0.85" fill="#2aa845"/>
<line x1="461.3" y1="566.6" x2="461.3" y2="581" stroke="#4a4a4a" stroke-width="0.7"/>
<circle cx="461.3" cy="581" r="1" fill="#4a4a4a"/>
<circle cx="461.3" cy="574" r="0.85" fill="#2aa845"/>
<line x1="463.9" y1="566.6" x2="463.9" y2="581" stroke="#4a4a4a" stroke-width="0.7"/>
<circle cx="463.9" cy="581" r="1" fill="#4a4a4a"/>
<circle cx="463.9" cy="574" r="0.85" fill="#2aa845"/>
<line x1="472.6" y1="566.6" x2="472.6" y2="581" stroke="#4a4a4a" stroke-width="0.7"/>
<circle cx="472.6" cy="581" r="1" fill="#4a4a4a"/>
<circle cx="472.6" cy="574" r="0.85" fill="#2aa845"/>
<text x="462.7" y="561" font-size="6.5" fill="#6a2030" textLength="17.5" lengthAdjust="spacingAndGlyphs" stroke="#6a2030" stroke-width="0.07">KAT11</text>
<text x="436.4" y="595.3" font-size="5" fill="#2a2a2a" textLength="70.9" lengthAdjust="spacingAndGlyphs" stroke="#2a2a2a" stroke-width="0.07">CREBBPinKATdomain feature</text>
<text x="25" y="578.6" font-size="6" fill="#2a2a2a" textLength="96" lengthAdjust="spacingAndGlyphs" font-style="italic" stroke="#2a2a2a" stroke-width="0.07">de novo DLBCL [5.13%; N = 195]</text>
<circle cx="20.6" cy="586" r="1.35" fill="#c0283a"/>
<text x="25" y="588" font-size="6" fill="#2a2a2a" textLength="53" lengthAdjust="spacingAndGlyphs" stroke="#2a2a2a" stroke-width="0.07">Nonsense_Mutation</text>
<circle cx="20.6" cy="596" r="1.35" fill="#3a78c0"/>
<text x="25" y="598" font-size="6" fill="#2a2a2a" textLength="45" lengthAdjust="spacingAndGlyphs" stroke="#2a2a2a" stroke-width="0.07">Frame_Shift_Del</text>
<circle cx="20.6" cy="606" r="1.35" fill="#e8883a"/>
<text x="25" y="608" font-size="6" fill="#2a2a2a" textLength="31" lengthAdjust="spacingAndGlyphs" stroke="#2a2a2a" stroke-width="0.07">Splice_Site</text>
<circle cx="85.5" cy="586" r="1.35" fill="#2a9a6a"/>
<text x="89.5" y="588" font-size="6" fill="#2a2a2a" textLength="51" lengthAdjust="spacingAndGlyphs" stroke="#2a2a2a" stroke-width="0.07">Missense_Mutation</text>
<circle cx="85.5" cy="596" r="1.35" fill="#2a2a6a"/>
<text x="89.5" y="598" font-size="6" fill="#2a2a2a" textLength="44" lengthAdjust="spacingAndGlyphs" stroke="#2a2a2a" stroke-width="0.07">Frame_Shift_Ins</text>
<circle cx="85.5" cy="606" r="1.35" fill="#f0e6a0"/>
<text x="89.5" y="608" font-size="6" fill="#2a2a2a" textLength="36" lengthAdjust="spacingAndGlyphs" stroke="#2a2a2a" stroke-width="0.07">In_Frame_Del</text>
<rect x="0.5" y="0.5" width="519" height="614" fill="none" stroke="#555" stroke-width="1"/>
</g>
</svg>
</body></html>
